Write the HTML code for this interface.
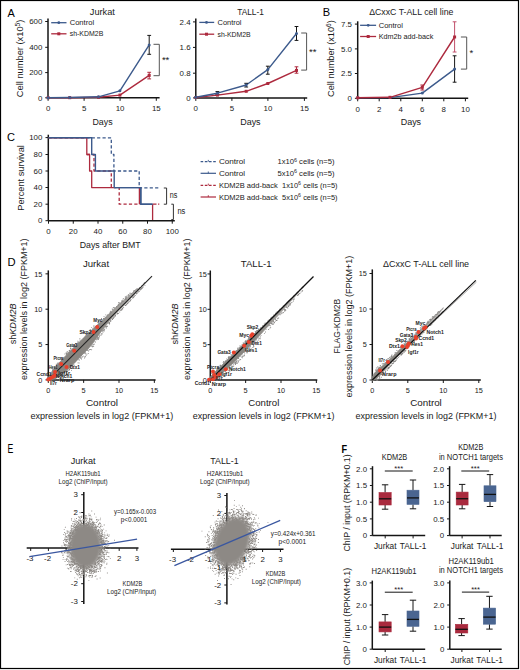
<!DOCTYPE html>
<html><head><meta charset="utf-8"><style>
html,body{margin:0;padding:0;background:#fff;}
svg{display:block;font-family:"Liberation Sans", sans-serif;}
</style></head><body>
<svg width="520" height="670" viewBox="0 0 520 670">
<defs><filter id="blur1" x="-30%" y="-30%" width="160%" height="160%"><feGaussianBlur stdDeviation="1.6"/></filter></defs>
<rect width="520" height="670" fill="#fff"/>
<rect x="0.5" y="0.5" width="518" height="668" fill="none" stroke="#000" stroke-width="1.2"/>
<text x="7.40" y="16.50" font-size="11.659807956104252" text-anchor="start" fill="#000" textLength="7.30" lengthAdjust="spacingAndGlyphs">A</text>
<text x="322.70" y="16.20" font-size="10.699588477366254" text-anchor="start" fill="#000" textLength="7.40" lengthAdjust="spacingAndGlyphs">B</text>
<text x="7.10" y="141.00" font-size="11.248285322359381" text-anchor="start" fill="#000" textLength="8.00" lengthAdjust="spacingAndGlyphs">C</text>
<text x="7.50" y="266.20" font-size="11.522633744855936" text-anchor="start" fill="#000" textLength="8.10" lengthAdjust="spacingAndGlyphs">D</text>
<text x="7.40" y="453.10" font-size="12.20850480109744" text-anchor="start" fill="#000" textLength="5.80" lengthAdjust="spacingAndGlyphs">E</text>
<text x="341.60" y="452.70" font-size="11.111111111111065" text-anchor="start" fill="#000" textLength="5.60" lengthAdjust="spacingAndGlyphs" font-weight="bold">F</text>
<line x1="48.00" y1="18.50" x2="48.00" y2="97.80" stroke="#151515" stroke-width="1.5" />
<line x1="48.00" y1="97.80" x2="159.60" y2="97.80" stroke="#151515" stroke-width="1.5" />
<line x1="45.20" y1="21.50" x2="48.00" y2="21.50" stroke="#151515" stroke-width="1.0" />
<text x="42.30" y="24.20" font-size="7.9" text-anchor="end" fill="#1a1a1a">600</text>
<line x1="45.20" y1="47.30" x2="48.00" y2="47.30" stroke="#151515" stroke-width="1.0" />
<text x="42.30" y="50.00" font-size="7.9" text-anchor="end" fill="#1a1a1a">400</text>
<line x1="45.20" y1="72.60" x2="48.00" y2="72.60" stroke="#151515" stroke-width="1.0" />
<text x="42.30" y="75.30" font-size="7.9" text-anchor="end" fill="#1a1a1a">200</text>
<line x1="45.20" y1="97.80" x2="48.00" y2="97.80" stroke="#151515" stroke-width="1.0" />
<text x="42.30" y="100.50" font-size="7.9" text-anchor="end" fill="#1a1a1a">0</text>
<line x1="48.10" y1="97.80" x2="48.10" y2="100.80" stroke="#151515" stroke-width="1.0" />
<text x="48.10" y="111.30" font-size="7.9" text-anchor="middle" fill="#1a1a1a">0</text>
<line x1="84.10" y1="97.80" x2="84.10" y2="100.80" stroke="#151515" stroke-width="1.0" />
<text x="84.10" y="111.30" font-size="7.9" text-anchor="middle" fill="#1a1a1a">5</text>
<line x1="120.10" y1="97.80" x2="120.10" y2="100.80" stroke="#151515" stroke-width="1.0" />
<text x="120.10" y="111.30" font-size="7.9" text-anchor="middle" fill="#1a1a1a">10</text>
<line x1="156.30" y1="97.80" x2="156.30" y2="100.80" stroke="#151515" stroke-width="1.0" />
<text x="156.30" y="111.30" font-size="7.9" text-anchor="middle" fill="#1a1a1a">15</text>
<text x="89.80" y="14.90" font-size="9.6" text-anchor="start" fill="#1a1a1a" textLength="25.10" lengthAdjust="spacingAndGlyphs">Jurkat</text>
<text x="92.40" y="124.60" font-size="9.6" text-anchor="start" fill="#1a1a1a" textLength="20.20" lengthAdjust="spacingAndGlyphs">Days</text>
<text transform="translate(23.30,97.20) rotate(-90)" x="0" y="0" font-size="9" fill="#1a1a1a" textLength="77.60" lengthAdjust="spacingAndGlyphs">Cell number (x10<tspan dy="-3.4" font-size="6.4">5</tspan><tspan dy="3.4">)</tspan></text>
<line x1="51.20" y1="22.70" x2="66.50" y2="22.70" stroke="#3c5a8c" stroke-width="1.3" />
<circle cx="58.80" cy="22.70" r="1.4" fill="#3c5a8c"/>
<line x1="51.20" y1="33.80" x2="66.50" y2="33.80" stroke="#ad2a3e" stroke-width="1.3" />
<rect x="57.30" y="32.30" width="3.0" height="3.0" fill="#ad2a3e"/>
<text x="69.70" y="25.30" font-size="7.8" text-anchor="start" fill="#1a1a1a" textLength="24.40" lengthAdjust="spacingAndGlyphs">Control</text>
<text x="69.70" y="36.40" font-size="7.8" text-anchor="start" fill="#1a1a1a" textLength="33.60" lengthAdjust="spacingAndGlyphs">sh-KDM2B</text>
<polyline points="48.10,97.70 69.70,97.70 98.50,97.30 119.90,95.10 149.20,75.40" fill="none" stroke="#ad2a3e" stroke-width="1.4" stroke-linejoin="round" />
<polyline points="48.10,97.70 69.70,97.50 98.50,96.80 119.90,90.80 149.20,44.90" fill="none" stroke="#3c5a8c" stroke-width="1.4" stroke-linejoin="round" />
<line x1="149.20" y1="72.30" x2="149.20" y2="78.90" stroke="#ad2a3e" stroke-width="1.0" />
<line x1="147.30" y1="72.30" x2="151.10" y2="72.30" stroke="#ad2a3e" stroke-width="1.0" />
<line x1="147.30" y1="78.90" x2="151.10" y2="78.90" stroke="#ad2a3e" stroke-width="1.0" />
<line x1="149.20" y1="35.40" x2="149.20" y2="54.30" stroke="#151515" stroke-width="1.0" />
<line x1="147.30" y1="35.40" x2="151.10" y2="35.40" stroke="#151515" stroke-width="1.0" />
<line x1="147.30" y1="54.30" x2="151.10" y2="54.30" stroke="#151515" stroke-width="1.0" />
<rect x="46.60" y="96.20" width="3.0" height="3.0" fill="#ad2a3e"/>
<rect x="68.20" y="96.20" width="3.0" height="3.0" fill="#ad2a3e"/>
<rect x="97.00" y="95.80" width="3.0" height="3.0" fill="#ad2a3e"/>
<rect x="118.40" y="93.60" width="3.0" height="3.0" fill="#ad2a3e"/>
<rect x="147.70" y="73.90" width="3.0" height="3.0" fill="#ad2a3e"/>
<circle cx="48.10" cy="97.70" r="1.5" fill="#3c5a8c"/>
<circle cx="69.70" cy="97.50" r="1.5" fill="#3c5a8c"/>
<circle cx="98.50" cy="96.80" r="1.5" fill="#3c5a8c"/>
<circle cx="119.90" cy="90.80" r="1.5" fill="#3c5a8c"/>
<circle cx="149.20" cy="44.90" r="1.5" fill="#3c5a8c"/>
<polyline points="153.50,44.30 159.30,44.30 159.30,75.70 153.50,75.70" fill="none" stroke="#555" stroke-width="1.0" stroke-linejoin="round" />
<text x="165.60" y="63.00" font-size="9.5" text-anchor="middle" fill="#1a1a1a">**</text>
<line x1="195.80" y1="18.40" x2="195.80" y2="97.90" stroke="#151515" stroke-width="1.5" />
<line x1="195.80" y1="97.90" x2="307.20" y2="97.90" stroke="#151515" stroke-width="1.5" />
<line x1="193.00" y1="21.90" x2="195.80" y2="21.90" stroke="#151515" stroke-width="1.0" />
<text x="190.60" y="24.60" font-size="7.9" text-anchor="end" fill="#1a1a1a">2.4</text>
<line x1="193.00" y1="47.40" x2="195.80" y2="47.40" stroke="#151515" stroke-width="1.0" />
<text x="190.60" y="50.10" font-size="7.9" text-anchor="end" fill="#1a1a1a">1.6</text>
<line x1="193.00" y1="73.20" x2="195.80" y2="73.20" stroke="#151515" stroke-width="1.0" />
<text x="190.60" y="75.90" font-size="7.9" text-anchor="end" fill="#1a1a1a">0.8</text>
<line x1="193.00" y1="97.90" x2="195.80" y2="97.90" stroke="#151515" stroke-width="1.0" />
<text x="190.60" y="100.60" font-size="7.9" text-anchor="end" fill="#1a1a1a">0</text>
<line x1="195.80" y1="97.90" x2="195.80" y2="100.90" stroke="#151515" stroke-width="1.0" />
<text x="195.80" y="111.30" font-size="7.9" text-anchor="middle" fill="#1a1a1a">0</text>
<line x1="231.90" y1="97.90" x2="231.90" y2="100.90" stroke="#151515" stroke-width="1.0" />
<text x="231.90" y="111.30" font-size="7.9" text-anchor="middle" fill="#1a1a1a">5</text>
<line x1="267.90" y1="97.90" x2="267.90" y2="100.90" stroke="#151515" stroke-width="1.0" />
<text x="267.90" y="111.30" font-size="7.9" text-anchor="middle" fill="#1a1a1a">10</text>
<line x1="304.40" y1="97.90" x2="304.40" y2="100.90" stroke="#151515" stroke-width="1.0" />
<text x="304.40" y="111.30" font-size="7.9" text-anchor="middle" fill="#1a1a1a">15</text>
<text x="237.20" y="14.80" font-size="9.6" text-anchor="start" fill="#1a1a1a" textLength="26.60" lengthAdjust="spacingAndGlyphs">TALL-1</text>
<text x="240.20" y="124.60" font-size="9.6" text-anchor="start" fill="#1a1a1a" textLength="20.40" lengthAdjust="spacingAndGlyphs">Days</text>
<line x1="199.30" y1="22.40" x2="214.20" y2="22.40" stroke="#3c5a8c" stroke-width="1.3" />
<circle cx="206.50" cy="22.40" r="1.4" fill="#3c5a8c"/>
<line x1="199.30" y1="34.20" x2="214.20" y2="34.20" stroke="#ad2a3e" stroke-width="1.3" />
<rect x="205.00" y="32.70" width="3.0" height="3.0" fill="#ad2a3e"/>
<text x="217.50" y="25.00" font-size="7.8" text-anchor="start" fill="#1a1a1a" textLength="24.00" lengthAdjust="spacingAndGlyphs">Control</text>
<text x="217.50" y="36.60" font-size="7.8" text-anchor="start" fill="#1a1a1a" textLength="33.20" lengthAdjust="spacingAndGlyphs">sh-KDM2B</text>
<polyline points="195.80,97.50 217.40,95.10 246.20,91.30 267.80,83.50 296.50,70.40" fill="none" stroke="#ad2a3e" stroke-width="1.4" stroke-linejoin="round" />
<polyline points="195.80,97.30 217.40,93.20 246.20,85.00 267.80,69.60 296.50,33.50" fill="none" stroke="#3c5a8c" stroke-width="1.4" stroke-linejoin="round" />
<line x1="217.40" y1="91.60" x2="217.40" y2="94.70" stroke="#151515" stroke-width="1.0" />
<line x1="215.50" y1="91.60" x2="219.30" y2="91.60" stroke="#151515" stroke-width="1.0" />
<line x1="215.50" y1="94.70" x2="219.30" y2="94.70" stroke="#151515" stroke-width="1.0" />
<line x1="246.20" y1="83.30" x2="246.20" y2="87.00" stroke="#151515" stroke-width="1.0" />
<line x1="244.30" y1="83.30" x2="248.10" y2="83.30" stroke="#151515" stroke-width="1.0" />
<line x1="244.30" y1="87.00" x2="248.10" y2="87.00" stroke="#151515" stroke-width="1.0" />
<line x1="267.80" y1="66.20" x2="267.80" y2="74.20" stroke="#151515" stroke-width="1.0" />
<line x1="265.90" y1="66.20" x2="269.70" y2="66.20" stroke="#151515" stroke-width="1.0" />
<line x1="265.90" y1="74.20" x2="269.70" y2="74.20" stroke="#151515" stroke-width="1.0" />
<line x1="296.50" y1="26.50" x2="296.50" y2="40.40" stroke="#151515" stroke-width="1.0" />
<line x1="294.60" y1="26.50" x2="298.40" y2="26.50" stroke="#151515" stroke-width="1.0" />
<line x1="294.60" y1="40.40" x2="298.40" y2="40.40" stroke="#151515" stroke-width="1.0" />
<line x1="296.50" y1="66.80" x2="296.50" y2="73.20" stroke="#ad2a3e" stroke-width="1.0" />
<line x1="294.60" y1="66.80" x2="298.40" y2="66.80" stroke="#ad2a3e" stroke-width="1.0" />
<line x1="294.60" y1="73.20" x2="298.40" y2="73.20" stroke="#ad2a3e" stroke-width="1.0" />
<rect x="194.30" y="96.00" width="3.0" height="3.0" fill="#ad2a3e"/>
<rect x="215.90" y="93.60" width="3.0" height="3.0" fill="#ad2a3e"/>
<rect x="244.70" y="89.80" width="3.0" height="3.0" fill="#ad2a3e"/>
<rect x="266.30" y="82.00" width="3.0" height="3.0" fill="#ad2a3e"/>
<rect x="295.00" y="68.90" width="3.0" height="3.0" fill="#ad2a3e"/>
<circle cx="195.80" cy="97.30" r="1.5" fill="#3c5a8c"/>
<circle cx="217.40" cy="93.20" r="1.5" fill="#3c5a8c"/>
<circle cx="246.20" cy="85.00" r="1.5" fill="#3c5a8c"/>
<circle cx="267.80" cy="69.60" r="1.5" fill="#3c5a8c"/>
<circle cx="296.50" cy="33.50" r="1.5" fill="#3c5a8c"/>
<polyline points="301.20,33.00 306.60,33.00 306.60,70.10 301.20,70.10" fill="none" stroke="#555" stroke-width="1.0" stroke-linejoin="round" />
<text x="312.70" y="54.50" font-size="9.5" text-anchor="middle" fill="#1a1a1a">**</text>
<line x1="357.70" y1="21.30" x2="357.70" y2="98.30" stroke="#151515" stroke-width="1.5" />
<line x1="357.70" y1="98.30" x2="468.20" y2="98.30" stroke="#151515" stroke-width="1.5" />
<line x1="354.90" y1="24.10" x2="357.70" y2="24.10" stroke="#151515" stroke-width="1.0" />
<text x="352.00" y="26.80" font-size="7.9" text-anchor="end" fill="#1a1a1a">7.5</text>
<line x1="354.90" y1="48.90" x2="357.70" y2="48.90" stroke="#151515" stroke-width="1.0" />
<text x="352.00" y="51.60" font-size="7.9" text-anchor="end" fill="#1a1a1a">5.0</text>
<line x1="354.90" y1="73.50" x2="357.70" y2="73.50" stroke="#151515" stroke-width="1.0" />
<text x="352.00" y="76.20" font-size="7.9" text-anchor="end" fill="#1a1a1a">2.5</text>
<line x1="354.90" y1="98.30" x2="357.70" y2="98.30" stroke="#151515" stroke-width="1.0" />
<text x="352.00" y="101.00" font-size="7.9" text-anchor="end" fill="#1a1a1a">0</text>
<line x1="357.70" y1="98.30" x2="357.70" y2="101.30" stroke="#151515" stroke-width="1.0" />
<text x="357.70" y="111.50" font-size="7.9" text-anchor="middle" fill="#1a1a1a">0</text>
<line x1="379.20" y1="98.30" x2="379.20" y2="101.30" stroke="#151515" stroke-width="1.0" />
<text x="379.20" y="111.50" font-size="7.9" text-anchor="middle" fill="#1a1a1a">2</text>
<line x1="400.80" y1="98.30" x2="400.80" y2="101.30" stroke="#151515" stroke-width="1.0" />
<text x="400.80" y="111.50" font-size="7.9" text-anchor="middle" fill="#1a1a1a">4</text>
<line x1="422.30" y1="98.30" x2="422.30" y2="101.30" stroke="#151515" stroke-width="1.0" />
<text x="422.30" y="111.50" font-size="7.9" text-anchor="middle" fill="#1a1a1a">6</text>
<line x1="443.80" y1="98.30" x2="443.80" y2="101.30" stroke="#151515" stroke-width="1.0" />
<text x="443.80" y="111.50" font-size="7.9" text-anchor="middle" fill="#1a1a1a">8</text>
<line x1="465.40" y1="98.30" x2="465.40" y2="101.30" stroke="#151515" stroke-width="1.0" />
<text x="465.40" y="111.50" font-size="7.9" text-anchor="middle" fill="#1a1a1a">10</text>
<text x="369.20" y="14.80" font-size="9.6" text-anchor="start" fill="#1a1a1a" textLength="84.20" lengthAdjust="spacingAndGlyphs">ΔCxxC T-ALL cell line</text>
<text x="400.70" y="124.60" font-size="9.6" text-anchor="start" fill="#1a1a1a" textLength="20.40" lengthAdjust="spacingAndGlyphs">Days</text>
<text transform="translate(334.20,97.00) rotate(-90)" x="0" y="0" font-size="9" fill="#1a1a1a" textLength="76.80" lengthAdjust="spacingAndGlyphs">Cell number (x10<tspan dy="-3.4" font-size="6.4">6</tspan><tspan dy="3.4">)</tspan></text>
<line x1="360.10" y1="25.30" x2="376.10" y2="25.30" stroke="#3c5a8c" stroke-width="1.3" />
<circle cx="368.20" cy="25.30" r="1.4" fill="#3c5a8c"/>
<line x1="360.10" y1="36.50" x2="376.10" y2="36.50" stroke="#ad2a3e" stroke-width="1.3" />
<rect x="366.70" y="35.00" width="3.0" height="3.0" fill="#ad2a3e"/>
<text x="378.70" y="27.60" font-size="7.8" text-anchor="start" fill="#1a1a1a" textLength="24.30" lengthAdjust="spacingAndGlyphs">Control</text>
<text x="378.70" y="38.60" font-size="7.8" text-anchor="start" fill="#1a1a1a" textLength="54.60" lengthAdjust="spacingAndGlyphs">Kdm2b add-back</text>
<polyline points="357.70,97.80 390.00,97.60 422.30,93.10 454.60,69.10" fill="none" stroke="#3c5a8c" stroke-width="1.4" stroke-linejoin="round" />
<polyline points="357.70,97.80 390.00,97.30 422.30,87.30 454.60,37.00" fill="none" stroke="#ad2a3e" stroke-width="1.4" stroke-linejoin="round" />
<line x1="454.60" y1="55.80" x2="454.60" y2="82.20" stroke="#151515" stroke-width="1.0" />
<line x1="452.70" y1="55.80" x2="456.50" y2="55.80" stroke="#151515" stroke-width="1.0" />
<line x1="452.70" y1="82.20" x2="456.50" y2="82.20" stroke="#151515" stroke-width="1.0" />
<line x1="454.60" y1="21.80" x2="454.60" y2="52.00" stroke="#c0506a" stroke-width="1.0" />
<line x1="452.70" y1="21.80" x2="456.50" y2="21.80" stroke="#c0506a" stroke-width="1.0" />
<line x1="452.70" y1="52.00" x2="456.50" y2="52.00" stroke="#c0506a" stroke-width="1.0" />
<line x1="422.30" y1="85.00" x2="422.30" y2="90.00" stroke="#ad2a3e" stroke-width="1.0" />
<line x1="420.40" y1="85.00" x2="424.20" y2="85.00" stroke="#ad2a3e" stroke-width="1.0" />
<line x1="420.40" y1="90.00" x2="424.20" y2="90.00" stroke="#ad2a3e" stroke-width="1.0" />
<circle cx="357.70" cy="97.80" r="1.5" fill="#3c5a8c"/>
<circle cx="390.00" cy="97.60" r="1.5" fill="#3c5a8c"/>
<circle cx="422.30" cy="93.10" r="1.5" fill="#3c5a8c"/>
<circle cx="454.60" cy="69.10" r="1.5" fill="#3c5a8c"/>
<rect x="356.20" y="96.30" width="3.0" height="3.0" fill="#ad2a3e"/>
<rect x="388.50" y="95.80" width="3.0" height="3.0" fill="#ad2a3e"/>
<rect x="420.80" y="85.80" width="3.0" height="3.0" fill="#ad2a3e"/>
<rect x="453.10" y="35.50" width="3.0" height="3.0" fill="#ad2a3e"/>
<polyline points="460.90,37.00 466.70,37.00 466.70,69.10 460.90,69.10" fill="none" stroke="#555" stroke-width="1.0" stroke-linejoin="round" />
<text x="471.40" y="56.30" font-size="9.5" text-anchor="middle" fill="#1a1a1a">*</text>
<line x1="48.30" y1="134.70" x2="48.30" y2="220.70" stroke="#151515" stroke-width="1.5" />
<line x1="48.30" y1="220.70" x2="174.80" y2="220.70" stroke="#151515" stroke-width="1.5" />
<line x1="45.50" y1="137.60" x2="48.30" y2="137.60" stroke="#151515" stroke-width="1.0" />
<text x="42.30" y="140.30" font-size="7.9" text-anchor="end" fill="#1a1a1a">100</text>
<line x1="45.50" y1="154.50" x2="48.30" y2="154.50" stroke="#151515" stroke-width="1.0" />
<text x="42.30" y="157.20" font-size="7.9" text-anchor="end" fill="#1a1a1a">80</text>
<line x1="45.50" y1="171.00" x2="48.30" y2="171.00" stroke="#151515" stroke-width="1.0" />
<text x="42.30" y="173.70" font-size="7.9" text-anchor="end" fill="#1a1a1a">60</text>
<line x1="45.50" y1="187.50" x2="48.30" y2="187.50" stroke="#151515" stroke-width="1.0" />
<text x="42.30" y="190.20" font-size="7.9" text-anchor="end" fill="#1a1a1a">40</text>
<line x1="45.50" y1="204.20" x2="48.30" y2="204.20" stroke="#151515" stroke-width="1.0" />
<text x="42.30" y="206.90" font-size="7.9" text-anchor="end" fill="#1a1a1a">20</text>
<line x1="45.50" y1="220.70" x2="48.30" y2="220.70" stroke="#151515" stroke-width="1.0" />
<text x="42.30" y="223.40" font-size="7.9" text-anchor="end" fill="#1a1a1a">0</text>
<line x1="48.50" y1="220.70" x2="48.50" y2="223.70" stroke="#151515" stroke-width="1.0" />
<text x="48.50" y="233.80" font-size="7.9" text-anchor="middle" fill="#1a1a1a">0</text>
<line x1="73.25" y1="220.70" x2="73.25" y2="223.70" stroke="#151515" stroke-width="1.0" />
<text x="73.25" y="233.80" font-size="7.9" text-anchor="middle" fill="#1a1a1a">20</text>
<line x1="98.00" y1="220.70" x2="98.00" y2="223.70" stroke="#151515" stroke-width="1.0" />
<text x="98.00" y="233.80" font-size="7.9" text-anchor="middle" fill="#1a1a1a">40</text>
<line x1="122.75" y1="220.70" x2="122.75" y2="223.70" stroke="#151515" stroke-width="1.0" />
<text x="122.75" y="233.80" font-size="7.9" text-anchor="middle" fill="#1a1a1a">60</text>
<line x1="147.50" y1="220.70" x2="147.50" y2="223.70" stroke="#151515" stroke-width="1.0" />
<text x="147.50" y="233.80" font-size="7.9" text-anchor="middle" fill="#1a1a1a">80</text>
<line x1="172.25" y1="220.70" x2="172.25" y2="223.70" stroke="#151515" stroke-width="1.0" />
<text x="172.25" y="233.80" font-size="7.9" text-anchor="middle" fill="#1a1a1a">100</text>
<text transform="translate(24.00,210.70) rotate(-90)" x="0" y="0" font-size="9.6" fill="#1a1a1a" textLength="65.60" lengthAdjust="spacingAndGlyphs">Percent survival</text>
<text x="79.70" y="248.20" font-size="9.6" text-anchor="start" fill="#1a1a1a" textLength="61.00" lengthAdjust="spacingAndGlyphs">Days after BMT</text>
<polyline points="48.50,137.80 111.30,137.80 111.30,154.50 113.90,154.50 113.90,171.00 139.20,171.00 139.20,187.80 160.00,187.80" fill="none" stroke="#3c5a8c" stroke-width="1.3" stroke-linejoin="round" stroke-dasharray="3.2,2.2"/>
<polyline points="86.80,154.50 94.00,154.50 94.00,171.00 111.30,171.00 111.30,187.60 119.20,187.60 119.20,204.20 140.50,204.20" fill="none" stroke="#ad2a3e" stroke-width="1.3" stroke-linejoin="round" stroke-dasharray="3.2,2.2"/>
<polyline points="152.50,204.20 160.00,204.20" fill="none" stroke="#ad2a3e" stroke-width="1.3" stroke-linejoin="round" stroke-dasharray="4,1.6,1.2,1.6"/>
<polyline points="48.50,137.80 86.80,137.80 86.80,154.50 89.60,154.50 89.60,171.00 91.70,171.00 91.70,187.60 113.40,187.60" fill="none" stroke="#ad2a3e" stroke-width="1.3" stroke-linejoin="round" />
<polyline points="139.40,187.60 139.40,204.20" fill="none" stroke="#ad2a3e" stroke-width="1.3" stroke-linejoin="round" />
<polyline points="152.60,204.20 152.60,220.00" fill="none" stroke="#ad2a3e" stroke-width="1.3" stroke-linejoin="round" />
<polyline points="48.50,137.80 91.70,137.80 91.70,154.50 95.40,154.50 95.40,171.00 114.20,171.00 114.20,187.60 140.80,187.60 140.80,204.20 152.50,204.20" fill="none" stroke="#3c5a8c" stroke-width="1.4" stroke-linejoin="round" />
<polyline points="114.20,187.60 140.80,187.60 140.80,204.20 152.50,204.20" fill="none" stroke="#3c5a8c" stroke-width="1.4" stroke-linejoin="round" />
<polyline points="163.80,188.00 166.60,188.00 166.60,204.20 163.80,204.20" fill="none" stroke="#333" stroke-width="1.0" stroke-linejoin="round" />
<polyline points="171.30,204.20 173.40,204.20 173.40,219.60 171.30,219.60" fill="none" stroke="#333" stroke-width="1.0" stroke-linejoin="round" />
<text x="169.70" y="198.30" font-size="8.3" text-anchor="start" fill="#1a1a1a" textLength="7.60" lengthAdjust="spacingAndGlyphs">ns</text>
<text x="177.40" y="213.50" font-size="8.3" text-anchor="start" fill="#1a1a1a" textLength="7.90" lengthAdjust="spacingAndGlyphs">ns</text>
<line x1="200.60" y1="161.70" x2="216.00" y2="161.70" stroke="#3c5a8c" stroke-width="1.2" stroke-dasharray="2.6,1.6"/>
<line x1="208.30" y1="159.90" x2="208.30" y2="161.70" stroke="#3c5a8c" stroke-width="0.9" />
<line x1="200.60" y1="173.30" x2="216.00" y2="173.30" stroke="#3c5a8c" stroke-width="1.2" />
<line x1="208.30" y1="171.50" x2="208.30" y2="173.30" stroke="#3c5a8c" stroke-width="0.9" />
<line x1="200.60" y1="185.40" x2="216.00" y2="185.40" stroke="#ad2a3e" stroke-width="1.2" stroke-dasharray="2.6,1.6"/>
<line x1="208.30" y1="183.60" x2="208.30" y2="185.40" stroke="#ad2a3e" stroke-width="0.9" />
<line x1="200.60" y1="197.00" x2="216.00" y2="197.00" stroke="#ad2a3e" stroke-width="1.2" />
<line x1="208.30" y1="195.20" x2="208.30" y2="197.00" stroke="#ad2a3e" stroke-width="0.9" />
<text x="218.90" y="164.20" font-size="7.9" text-anchor="start" fill="#1a1a1a" textLength="26.20" lengthAdjust="spacingAndGlyphs">Control</text>
<text x="218.90" y="175.80" font-size="7.9" text-anchor="start" fill="#1a1a1a" textLength="26.20" lengthAdjust="spacingAndGlyphs">Control</text>
<text x="218.90" y="187.90" font-size="7.9" text-anchor="start" fill="#1a1a1a" textLength="58.90" lengthAdjust="spacingAndGlyphs">KDM2B add-back</text>
<text x="218.90" y="199.50" font-size="7.9" text-anchor="start" fill="#1a1a1a" textLength="58.90" lengthAdjust="spacingAndGlyphs">KDM2B add-back</text>
<text x="277.40" y="164.20" font-size="7.9" fill="#1a1a1a" textLength="57.10" lengthAdjust="spacingAndGlyphs">1x10<tspan dy="-2.6" font-size="5.6">6</tspan><tspan dy="2.6"> cells (n=5)</tspan></text>
<text x="277.40" y="175.80" font-size="7.9" fill="#1a1a1a" textLength="57.10" lengthAdjust="spacingAndGlyphs">5x10<tspan dy="-2.6" font-size="5.6">6</tspan><tspan dy="2.6"> cells (n=5)</tspan></text>
<text x="282.00" y="187.90" font-size="7.9" fill="#1a1a1a" textLength="55.60" lengthAdjust="spacingAndGlyphs">1x10<tspan dy="-2.6" font-size="5.6">6</tspan><tspan dy="2.6"> cells (n=5)</tspan></text>
<text x="282.00" y="199.50" font-size="7.9" fill="#1a1a1a" textLength="55.60" lengthAdjust="spacingAndGlyphs">5x10<tspan dy="-2.6" font-size="5.6">6</tspan><tspan dy="2.6"> cells (n=5)</tspan></text>
<line x1="48.30" y1="270.40" x2="48.30" y2="379.90" stroke="#151515" stroke-width="1.5" />
<line x1="48.30" y1="379.90" x2="155.60" y2="379.90" stroke="#151515" stroke-width="1.5" />
<line x1="45.50" y1="273.85" x2="48.30" y2="273.85" stroke="#151515" stroke-width="1.0" />
<text x="42.30" y="276.55" font-size="7.3" text-anchor="end" fill="#1a1a1a">15</text>
<line x1="45.50" y1="309.20" x2="48.30" y2="309.20" stroke="#151515" stroke-width="1.0" />
<text x="42.30" y="311.90" font-size="7.3" text-anchor="end" fill="#1a1a1a">10</text>
<line x1="45.50" y1="344.55" x2="48.30" y2="344.55" stroke="#151515" stroke-width="1.0" />
<text x="42.30" y="347.25" font-size="7.3" text-anchor="end" fill="#1a1a1a">5</text>
<line x1="45.50" y1="379.90" x2="48.30" y2="379.90" stroke="#151515" stroke-width="1.0" />
<text x="42.30" y="382.60" font-size="7.3" text-anchor="end" fill="#1a1a1a">0</text>
<line x1="48.30" y1="379.90" x2="48.30" y2="382.90" stroke="#151515" stroke-width="1.0" />
<text x="48.30" y="392.60" font-size="7.3" text-anchor="middle" fill="#1a1a1a">0</text>
<line x1="83.65" y1="379.90" x2="83.65" y2="382.90" stroke="#151515" stroke-width="1.0" />
<text x="83.65" y="392.60" font-size="7.3" text-anchor="middle" fill="#1a1a1a">5</text>
<line x1="119.00" y1="379.90" x2="119.00" y2="382.90" stroke="#151515" stroke-width="1.0" />
<text x="119.00" y="392.60" font-size="7.3" text-anchor="middle" fill="#1a1a1a">10</text>
<line x1="154.35" y1="379.90" x2="154.35" y2="382.90" stroke="#151515" stroke-width="1.0" />
<text x="154.35" y="392.60" font-size="7.3" text-anchor="middle" fill="#1a1a1a">15</text>
<text x="96.00" y="267.00" font-size="9.6" text-anchor="middle" fill="#1a1a1a">Jurkat</text>
<text x="85.90" y="406.40" font-size="9.6" text-anchor="start" fill="#1a1a1a" textLength="32.20" lengthAdjust="spacingAndGlyphs">Control</text>
<text x="30.50" y="418.80" font-size="9.6" text-anchor="start" fill="#1a1a1a" textLength="142.70" lengthAdjust="spacingAndGlyphs">expression levels in log2 (FPKM+1)</text>
<text transform="translate(27.30,379.90) rotate(-90)" x="0" y="0" font-size="9.6" fill="#1a1a1a" textLength="141.50" lengthAdjust="spacingAndGlyphs">expression levels in log2 (FPKM+1)</text>
<text transform="translate(16.00,344.30) rotate(-90)" x="0" y="0" font-size="9.6" fill="#1a1a1a" textLength="40.90" lengthAdjust="spacingAndGlyphs">sh<tspan font-style="italic">KDM2B</tspan></text>
<defs><linearGradient id="g1" gradientUnits="userSpaceOnUse" x1="94.3" y1="333.9" x2="140.2" y2="288.0"><stop offset="0" stop-color="#888580"/><stop offset="1" stop-color="#b3b1ae"/></linearGradient></defs>
<polygon points="48.30,377.40 49.46,375.66 50.63,373.92 51.79,372.18 52.95,370.44 54.12,368.70 55.28,366.96 56.44,365.68 57.61,364.43 58.77,363.19 59.93,361.94 61.10,360.70 62.26,359.45 63.42,358.21 64.59,356.96 65.75,355.71 66.91,354.47 68.08,353.22 69.24,351.98 70.40,350.82 71.57,349.68 72.73,348.54 73.90,347.41 75.06,346.27 76.22,345.14 77.39,344.00 78.55,342.86 79.71,341.73 80.88,340.59 82.04,339.46 83.20,338.32 84.37,337.18 85.53,336.05 86.69,334.91 87.86,333.78 89.02,332.64 90.18,331.50 91.35,330.40 92.51,329.32 93.67,328.24 94.84,327.15 96.00,326.07 97.16,324.99 98.33,323.91 99.49,322.83 100.65,321.75 101.82,320.67 102.98,319.59 104.14,318.51 105.31,317.41 106.47,316.29 107.63,315.16 108.80,314.04 109.96,312.92 111.12,311.80 112.29,310.67 113.45,309.55 114.61,308.43 115.78,307.31 116.94,306.19 118.11,305.06 119.27,303.97 120.43,302.97 121.60,301.97 122.76,300.97 123.92,299.97 125.09,298.98 126.25,297.98 127.41,296.98 128.58,295.98 129.74,294.98 130.90,293.98 132.07,292.98 133.23,292.00 134.39,291.25 135.56,290.50 136.72,289.75 137.88,288.99 139.05,288.24 140.21,287.49 140.21,288.29 139.05,289.49 137.88,290.68 136.72,291.88 135.56,293.08 134.39,294.27 133.23,295.47 132.07,296.68 130.90,297.90 129.74,299.12 128.58,300.34 127.41,301.56 126.25,302.78 125.09,303.99 123.92,305.21 122.76,306.43 121.60,307.65 120.43,308.87 119.27,310.09 118.11,311.30 116.94,312.52 115.78,313.74 114.61,314.96 113.45,316.18 112.29,317.40 111.12,318.80 109.96,320.30 108.80,321.79 107.63,323.28 106.47,324.77 105.31,326.27 104.14,327.76 102.98,329.25 101.82,330.74 100.65,332.30 99.49,333.90 98.33,335.50 97.16,337.11 96.00,338.71 94.84,340.31 93.67,341.91 92.51,343.52 91.35,345.12 90.18,346.54 89.02,347.76 87.86,348.98 86.69,350.20 85.53,351.42 84.37,352.63 83.20,353.85 82.04,355.07 80.88,356.29 79.71,357.51 78.55,358.72 77.39,359.94 76.22,361.16 75.06,362.38 73.90,363.60 72.73,364.82 71.57,366.03 70.40,367.25 69.24,368.39 68.08,369.27 66.91,370.14 65.75,371.02 64.59,371.89 63.42,372.77 62.26,373.64 61.10,374.52 59.93,375.40 58.77,376.27 57.61,377.15 56.44,378.02 55.28,378.85 54.12,379.11 52.95,379.37 51.79,379.62 50.63,379.88 49.46,380.14 48.30,380.40" fill="url(#g1)" stroke="url(#g1)" stroke-width="0.8"/>
<path d="M108.6 322.4h0.9v0.9h-0.9zM134.9 289.8h0.9v0.9h-0.9zM123.2 297.9h0.9v0.9h-0.9zM70.0 348.3h0.9v0.9h-0.9zM77.3 342.2h0.9v0.9h-0.9zM132.6 297.0h0.9v0.9h-0.9zM48.8 376.9h0.9v0.9h-0.9zM127.6 302.7h0.9v0.9h-0.9zM125.2 299.3h0.9v0.9h-0.9zM93.5 341.3h0.9v0.9h-0.9zM77.5 362.4h0.9v0.9h-0.9zM75.2 343.3h0.9v0.9h-0.9zM72.9 345.6h0.9v0.9h-0.9zM91.3 346.2h0.9v0.9h-0.9zM97.0 325.6h0.9v0.9h-0.9zM101.7 330.2h0.9v0.9h-0.9zM144.4 282.1h0.9v0.9h-0.9zM124.8 296.5h0.9v0.9h-0.9zM108.3 322.7h0.9v0.9h-0.9zM143.7 282.8h0.9v0.9h-0.9zM69.1 369.1h0.9v0.9h-0.9zM63.8 372.6h0.9v0.9h-0.9zM107.4 314.2h0.9v0.9h-0.9zM52.5 371.8h0.9v0.9h-0.9zM51.7 371.4h0.9v0.9h-0.9zM98.0 324.5h0.9v0.9h-0.9zM93.3 326.4h0.9v0.9h-0.9zM136.8 288.8h0.9v0.9h-0.9zM109.0 323.3h0.9v0.9h-0.9zM97.9 339.0h0.9v0.9h-0.9zM96.3 338.6h0.9v0.9h-0.9zM72.2 365.1h0.9v0.9h-0.9zM66.9 353.3h0.9v0.9h-0.9zM115.1 314.8h0.9v0.9h-0.9zM67.7 367.7h0.9v0.9h-0.9zM84.0 357.6h0.9v0.9h-0.9zM48.7 375.7h0.9v0.9h-0.9zM128.4 296.5h0.9v0.9h-0.9zM63.2 357.2h0.9v0.9h-0.9zM74.1 364.7h0.9v0.9h-0.9zM133.3 296.2h0.9v0.9h-0.9zM97.5 321.4h0.9v0.9h-0.9zM130.1 300.1h0.9v0.9h-0.9zM110.0 313.3h0.9v0.9h-0.9zM119.9 309.9h0.9v0.9h-0.9zM57.1 364.2h0.9v0.9h-0.9zM100.5 334.9h0.9v0.9h-0.9zM97.3 338.6h0.9v0.9h-0.9zM132.4 297.4h0.9v0.9h-0.9zM83.2 355.7h0.9v0.9h-0.9zM106.0 316.9h0.9v0.9h-0.9zM54.0 366.4h0.9v0.9h-0.9zM85.7 349.3h0.9v0.9h-0.9zM79.5 339.7h0.9v0.9h-0.9zM62.8 372.6h0.9v0.9h-0.9zM127.1 302.8h0.9v0.9h-0.9zM84.9 333.0h0.9v0.9h-0.9zM142.8 286.6h0.9v0.9h-0.9zM105.2 326.1h0.9v0.9h-0.9zM106.7 315.3h0.9v0.9h-0.9zM109.9 311.2h0.9v0.9h-0.9zM113.6 316.3h0.9v0.9h-0.9zM62.9 358.9h0.9v0.9h-0.9zM90.8 332.2h0.9v0.9h-0.9zM71.4 367.8h0.9v0.9h-0.9zM87.1 350.2h0.9v0.9h-0.9zM57.6 363.2h0.9v0.9h-0.9zM141.7 287.5h0.9v0.9h-0.9zM69.0 350.1h0.9v0.9h-0.9zM113.1 316.9h0.9v0.9h-0.9zM77.3 340.7h0.9v0.9h-0.9zM132.7 297.4h0.9v0.9h-0.9zM112.2 318.4h0.9v0.9h-0.9zM61.0 359.8h0.9v0.9h-0.9zM129.9 292.8h0.9v0.9h-0.9zM139.5 289.7h0.9v0.9h-0.9zM135.5 288.9h0.9v0.9h-0.9zM103.3 329.2h0.9v0.9h-0.9zM62.3 376.1h0.9v0.9h-0.9zM66.9 370.3h0.9v0.9h-0.9zM137.8 291.7h0.9v0.9h-0.9zM101.6 333.6h0.9v0.9h-0.9zM65.7 356.9h0.9v0.9h-0.9zM133.6 290.0h0.9v0.9h-0.9zM110.2 321.0h0.9v0.9h-0.9zM103.3 329.5h0.9v0.9h-0.9zM84.6 352.6h0.9v0.9h-0.9zM88.0 334.7h0.9v0.9h-0.9zM71.4 365.8h0.9v0.9h-0.9zM52.0 370.4h0.9v0.9h-0.9zM132.9 292.4h0.9v0.9h-0.9zM93.4 326.5h0.9v0.9h-0.9zM101.1 318.0h0.9v0.9h-0.9zM79.4 338.3h0.9v0.9h-0.9zM120.8 309.9h0.9v0.9h-0.9zM84.2 351.9h0.9v0.9h-0.9zM60.2 374.8h0.9v0.9h-0.9zM141.6 288.0h0.9v0.9h-0.9zM111.8 308.5h0.9v0.9h-0.9zM89.6 349.2h0.9v0.9h-0.9zM98.8 336.0h0.9v0.9h-0.9zM132.5 296.8h0.9v0.9h-0.9zM81.5 357.0h0.9v0.9h-0.9zM105.3 317.3h0.9v0.9h-0.9zM114.3 315.6h0.9v0.9h-0.9zM82.6 353.2h0.9v0.9h-0.9zM98.4 337.9h0.9v0.9h-0.9zM122.2 308.5h0.9v0.9h-0.9zM136.0 293.1h0.9v0.9h-0.9zM62.9 371.5h0.9v0.9h-0.9zM138.4 290.8h0.9v0.9h-0.9zM121.0 302.6h0.9v0.9h-0.9zM126.5 303.5h0.9v0.9h-0.9zM61.5 359.5h0.9v0.9h-0.9zM88.7 348.9h0.9v0.9h-0.9zM127.0 302.6h0.9v0.9h-0.9zM49.7 373.9h0.9v0.9h-0.9zM109.0 322.1h0.9v0.9h-0.9zM124.8 298.5h0.9v0.9h-0.9zM97.8 323.4h0.9v0.9h-0.9zM118.3 302.1h0.9v0.9h-0.9zM70.2 367.0h0.9v0.9h-0.9zM67.5 351.5h0.9v0.9h-0.9zM83.3 338.0h0.9v0.9h-0.9zM65.6 352.6h0.9v0.9h-0.9zM81.7 356.0h0.9v0.9h-0.9zM139.8 286.9h0.9v0.9h-0.9zM103.6 316.2h0.9v0.9h-0.9zM81.1 358.5h0.9v0.9h-0.9zM74.5 361.4h0.9v0.9h-0.9zM140.2 288.9h0.9v0.9h-0.9zM91.2 326.9h0.9v0.9h-0.9zM142.9 284.4h0.9v0.9h-0.9zM98.1 324.0h0.9v0.9h-0.9zM98.6 320.4h0.9v0.9h-0.9zM134.8 291.1h0.9v0.9h-0.9zM120.0 303.6h0.9v0.9h-0.9zM104.3 318.5h0.9v0.9h-0.9zM89.5 333.2h0.9v0.9h-0.9zM133.0 291.2h0.9v0.9h-0.9zM88.0 350.7h0.9v0.9h-0.9zM137.4 288.7h0.9v0.9h-0.9zM54.9 378.3h0.9v0.9h-0.9zM89.8 329.1h0.9v0.9h-0.9zM98.4 321.2h0.9v0.9h-0.9zM140.1 289.3h0.9v0.9h-0.9zM72.5 349.5h0.9v0.9h-0.9zM126.1 296.9h0.9v0.9h-0.9zM113.6 317.2h0.9v0.9h-0.9zM117.5 312.7h0.9v0.9h-0.9zM109.1 323.2h0.9v0.9h-0.9zM142.1 287.2h0.9v0.9h-0.9zM80.4 358.1h0.9v0.9h-0.9zM86.7 348.9h0.9v0.9h-0.9zM67.9 351.9h0.9v0.9h-0.9zM68.8 350.0h0.9v0.9h-0.9zM136.6 289.3h0.9v0.9h-0.9zM129.4 292.8h0.9v0.9h-0.9zM59.1 378.4h0.9v0.9h-0.9zM106.6 325.4h0.9v0.9h-0.9zM94.5 326.7h0.9v0.9h-0.9zM105.7 327.6h0.9v0.9h-0.9zM111.9 318.2h0.9v0.9h-0.9zM77.9 341.6h0.9v0.9h-0.9zM141.1 285.6h0.9v0.9h-0.9zM93.3 343.8h0.9v0.9h-0.9zM108.9 323.4h0.9v0.9h-0.9zM109.6 312.3h0.9v0.9h-0.9zM66.0 371.8h0.9v0.9h-0.9zM54.3 368.3h0.9v0.9h-0.9zM88.0 352.9h0.9v0.9h-0.9zM122.0 301.2h0.9v0.9h-0.9zM127.0 303.1h0.9v0.9h-0.9zM118.7 303.7h0.9v0.9h-0.9zM59.2 379.5h0.9v0.9h-0.9zM136.4 288.2h0.9v0.9h-0.9zM125.7 299.0h0.9v0.9h-0.9zM133.0 297.0h0.9v0.9h-0.9zM98.8 336.4h0.9v0.9h-0.9zM136.7 289.6h0.9v0.9h-0.9zM52.8 369.6h0.9v0.9h-0.9zM51.2 379.6h0.9v0.9h-0.9zM50.3 373.3h0.9v0.9h-0.9zM72.7 363.9h0.9v0.9h-0.9zM72.3 348.5h0.9v0.9h-0.9zM66.4 370.5h0.9v0.9h-0.9zM103.0 318.0h0.9v0.9h-0.9zM52.1 369.6h0.9v0.9h-0.9zM105.3 314.4h0.9v0.9h-0.9zM64.3 372.3h0.9v0.9h-0.9zM113.7 307.9h0.9v0.9h-0.9zM50.3 374.8h0.9v0.9h-0.9zM78.3 359.4h0.9v0.9h-0.9zM138.9 290.9h0.9v0.9h-0.9zM100.3 322.8h0.9v0.9h-0.9zM126.6 295.4h0.9v0.9h-0.9zM111.8 319.1h0.9v0.9h-0.9zM107.2 315.3h0.9v0.9h-0.9zM66.8 373.4h0.9v0.9h-0.9zM103.7 328.6h0.9v0.9h-0.9zM52.1 369.2h0.9v0.9h-0.9zM125.7 303.8h0.9v0.9h-0.9zM141.0 288.1h0.9v0.9h-0.9zM130.7 299.2h0.9v0.9h-0.9zM81.0 355.1h0.9v0.9h-0.9zM79.0 359.6h0.9v0.9h-0.9zM59.2 376.1h0.9v0.9h-0.9zM108.8 322.9h0.9v0.9h-0.9zM125.3 305.0h0.9v0.9h-0.9zM78.6 362.5h0.9v0.9h-0.9zM131.6 293.7h0.9v0.9h-0.9zM125.2 297.5h0.9v0.9h-0.9zM60.8 378.7h0.9v0.9h-0.9zM122.3 300.4h0.9v0.9h-0.9zM133.5 290.2h0.9v0.9h-0.9zM67.3 368.4h0.9v0.9h-0.9zM103.7 330.6h0.9v0.9h-0.9zM109.9 311.5h0.9v0.9h-0.9zM107.1 325.9h0.9v0.9h-0.9zM57.6 361.9h0.9v0.9h-0.9zM112.1 319.1h0.9v0.9h-0.9zM109.3 314.4h0.9v0.9h-0.9zM127.8 294.9h0.9v0.9h-0.9zM125.8 298.3h0.9v0.9h-0.9zM79.9 357.0h0.9v0.9h-0.9zM118.0 304.8h0.9v0.9h-0.9zM132.0 297.7h0.9v0.9h-0.9zM134.5 289.9h0.9v0.9h-0.9zM63.9 376.4h0.9v0.9h-0.9zM50.9 379.7h0.9v0.9h-0.9zM111.1 312.0h0.9v0.9h-0.9zM69.0 368.9h0.9v0.9h-0.9zM102.7 331.7h0.9v0.9h-0.9zM139.5 287.0h0.9v0.9h-0.9zM84.9 353.4h0.9v0.9h-0.9zM72.7 368.0h0.9v0.9h-0.9zM92.4 345.9h0.9v0.9h-0.9zM111.7 318.6h0.9v0.9h-0.9zM58.1 375.8h0.9v0.9h-0.9zM85.0 335.6h0.9v0.9h-0.9zM61.2 357.5h0.9v0.9h-0.9zM112.2 309.2h0.9v0.9h-0.9zM128.5 296.5h0.9v0.9h-0.9zM84.7 353.2h0.9v0.9h-0.9zM84.2 336.8h0.9v0.9h-0.9zM100.4 320.5h0.9v0.9h-0.9zM69.1 350.5h0.9v0.9h-0.9zM72.2 345.5h0.9v0.9h-0.9zM80.1 341.0h0.9v0.9h-0.9zM92.4 344.3h0.9v0.9h-0.9zM56.2 364.3h0.9v0.9h-0.9zM120.9 309.7h0.9v0.9h-0.9zM104.2 329.4h0.9v0.9h-0.9zM77.2 343.1h0.9v0.9h-0.9zM55.8 363.7h0.9v0.9h-0.9zM122.0 308.1h0.9v0.9h-0.9zM60.9 357.4h0.9v0.9h-0.9zM61.2 360.6h0.9v0.9h-0.9zM60.9 373.7h0.9v0.9h-0.9zM135.8 293.5h0.9v0.9h-0.9zM74.3 344.0h0.9v0.9h-0.9zM77.9 341.8h0.9v0.9h-0.9zM128.7 294.8h0.9v0.9h-0.9zM108.1 322.6h0.9v0.9h-0.9zM66.4 352.4h0.9v0.9h-0.9zM90.3 332.5h0.9v0.9h-0.9zM133.6 296.4h0.9v0.9h-0.9zM84.5 356.3h0.9v0.9h-0.9zM116.9 313.2h0.9v0.9h-0.9zM57.6 365.1h0.9v0.9h-0.9zM118.5 302.0h0.9v0.9h-0.9zM123.2 306.8h0.9v0.9h-0.9zM128.0 301.4h0.9v0.9h-0.9zM113.4 317.2h0.9v0.9h-0.9zM84.1 352.5h0.9v0.9h-0.9zM54.5 367.4h0.9v0.9h-0.9zM98.4 337.2h0.9v0.9h-0.9zM121.4 309.3h0.9v0.9h-0.9zM66.7 373.6h0.9v0.9h-0.9zM74.0 348.0h0.9v0.9h-0.9zM100.0 321.3h0.9v0.9h-0.9zM120.5 309.7h0.9v0.9h-0.9zM134.8 295.1h0.9v0.9h-0.9zM60.4 373.9h0.9v0.9h-0.9zM66.1 354.1h0.9v0.9h-0.9zM125.5 296.2h0.9v0.9h-0.9zM110.5 320.3h0.9v0.9h-0.9zM117.9 305.2h0.9v0.9h-0.9zM144.5 284.9h0.9v0.9h-0.9zM138.9 287.6h0.9v0.9h-0.9zM129.7 300.5h0.9v0.9h-0.9zM123.3 301.0h0.9v0.9h-0.9zM86.4 349.8h0.9v0.9h-0.9zM110.2 320.1h0.9v0.9h-0.9zM66.1 353.0h0.9v0.9h-0.9zM121.6 301.7h0.9v0.9h-0.9zM121.4 309.2h0.9v0.9h-0.9zM117.9 313.0h0.9v0.9h-0.9zM91.2 349.3h0.9v0.9h-0.9zM84.8 351.8h0.9v0.9h-0.9zM88.8 346.0h0.9v0.9h-0.9zM129.8 300.4h0.9v0.9h-0.9zM100.6 334.4h0.9v0.9h-0.9zM85.7 337.0h0.9v0.9h-0.9zM101.2 333.4h0.9v0.9h-0.9zM117.9 313.0h0.9v0.9h-0.9zM85.1 356.3h0.9v0.9h-0.9zM128.5 294.4h0.9v0.9h-0.9zM137.0 292.7h0.9v0.9h-0.9zM85.7 354.8h0.9v0.9h-0.9zM61.6 359.7h0.9v0.9h-0.9zM121.7 307.9h0.9v0.9h-0.9zM144.1 282.5h0.9v0.9h-0.9zM62.6 359.8h0.9v0.9h-0.9zM117.1 313.1h0.9v0.9h-0.9zM127.9 293.9h0.9v0.9h-0.9zM137.1 292.4h0.9v0.9h-0.9zM60.2 376.5h0.9v0.9h-0.9zM143.6 283.4h0.9v0.9h-0.9zM59.6 358.7h0.9v0.9h-0.9zM65.4 375.2h0.9v0.9h-0.9zM103.8 318.3h0.9v0.9h-0.9zM91.4 345.2h0.9v0.9h-0.9zM120.7 309.0h0.9v0.9h-0.9zM66.7 351.3h0.9v0.9h-0.9zM136.5 289.5h0.9v0.9h-0.9zM69.3 366.2h0.9v0.9h-0.9zM122.5 298.7h0.9v0.9h-0.9zM94.0 343.7h0.9v0.9h-0.9zM78.6 344.1h0.9v0.9h-0.9zM78.4 357.3h0.9v0.9h-0.9zM117.8 304.3h0.9v0.9h-0.9zM92.2 330.7h0.9v0.9h-0.9zM144.4 282.3h0.9v0.9h-0.9zM134.1 295.6h0.9v0.9h-0.9zM136.7 288.6h0.9v0.9h-0.9zM72.1 350.4h0.9v0.9h-0.9zM86.3 335.5h0.9v0.9h-0.9zM70.2 347.6h0.9v0.9h-0.9zM60.4 374.2h0.9v0.9h-0.9zM51.5 371.5h0.9v0.9h-0.9zM96.9 336.5h0.9v0.9h-0.9zM60.2 358.3h0.9v0.9h-0.9zM65.3 356.7h0.9v0.9h-0.9zM131.3 292.9h0.9v0.9h-0.9zM95.0 341.5h0.9v0.9h-0.9zM66.0 373.5h0.9v0.9h-0.9zM112.9 307.1h0.9v0.9h-0.9zM74.0 344.9h0.9v0.9h-0.9zM99.2 334.8h0.9v0.9h-0.9zM75.6 346.8h0.9v0.9h-0.9zM98.1 337.9h0.9v0.9h-0.9zM109.0 323.6h0.9v0.9h-0.9zM100.0 323.4h0.9v0.9h-0.9zM86.5 353.5h0.9v0.9h-0.9zM124.6 305.0h0.9v0.9h-0.9zM132.6 297.0h0.9v0.9h-0.9zM65.6 372.5h0.9v0.9h-0.9zM61.5 376.1h0.9v0.9h-0.9zM59.2 379.8h0.9v0.9h-0.9zM142.8 283.8h0.9v0.9h-0.9zM139.2 287.4h0.9v0.9h-0.9zM70.6 348.3h0.9v0.9h-0.9zM141.9 285.0h0.9v0.9h-0.9zM68.4 369.8h0.9v0.9h-0.9zM97.2 337.6h0.9v0.9h-0.9zM96.3 339.4h0.9v0.9h-0.9zM136.6 292.7h0.9v0.9h-0.9zM52.2 371.4h0.9v0.9h-0.9zM78.7 357.4h0.9v0.9h-0.9zM106.2 326.0h0.9v0.9h-0.9zM54.7 367.6h0.9v0.9h-0.9zM71.1 370.2h0.9v0.9h-0.9zM93.2 345.8h0.9v0.9h-0.9zM133.3 291.4h0.9v0.9h-0.9zM121.7 300.3h0.9v0.9h-0.9zM128.3 301.9h0.9v0.9h-0.9zM121.7 301.3h0.9v0.9h-0.9zM116.6 313.9h0.9v0.9h-0.9zM130.3 299.3h0.9v0.9h-0.9zM114.1 307.2h0.9v0.9h-0.9zM119.3 311.6h0.9v0.9h-0.9zM77.4 358.7h0.9v0.9h-0.9zM64.5 353.5h0.9v0.9h-0.9zM121.3 300.5h0.9v0.9h-0.9zM64.3 375.2h0.9v0.9h-0.9zM137.0 288.4h0.9v0.9h-0.9zM105.9 327.6h0.9v0.9h-0.9zM80.1 341.1h0.9v0.9h-0.9zM138.7 290.9h0.9v0.9h-0.9zM63.3 372.7h0.9v0.9h-0.9zM97.9 337.2h0.9v0.9h-0.9zM57.1 362.9h0.9v0.9h-0.9zM141.5 287.7h0.9v0.9h-0.9zM103.8 319.6h0.9v0.9h-0.9zM125.9 296.3h0.9v0.9h-0.9zM75.5 343.0h0.9v0.9h-0.9zM125.7 304.4h0.9v0.9h-0.9zM116.1 306.6h0.9v0.9h-0.9zM110.4 310.7h0.9v0.9h-0.9zM140.0 287.1h0.9v0.9h-0.9zM90.1 348.9h0.9v0.9h-0.9zM88.4 350.2h0.9v0.9h-0.9zM115.1 315.5h0.9v0.9h-0.9zM128.9 300.8h0.9v0.9h-0.9zM80.6 341.1h0.9v0.9h-0.9zM112.9 318.0h0.9v0.9h-0.9zM68.5 370.0h0.9v0.9h-0.9zM101.5 333.1h0.9v0.9h-0.9zM122.5 307.4h0.9v0.9h-0.9zM54.6 378.3h0.9v0.9h-0.9zM118.5 303.4h0.9v0.9h-0.9zM140.8 288.9h0.9v0.9h-0.9zM93.5 325.3h0.9v0.9h-0.9zM87.8 347.4h0.9v0.9h-0.9zM117.8 312.9h0.9v0.9h-0.9zM98.8 323.5h0.9v0.9h-0.9zM118.8 302.5h0.9v0.9h-0.9zM56.5 365.1h0.9v0.9h-0.9zM102.6 330.2h0.9v0.9h-0.9zM102.2 331.3h0.9v0.9h-0.9zM138.3 291.2h0.9v0.9h-0.9zM92.0 346.3h0.9v0.9h-0.9zM109.2 322.6h0.9v0.9h-0.9zM101.5 320.4h0.9v0.9h-0.9zM105.5 326.5h0.9v0.9h-0.9zM69.7 349.7h0.9v0.9h-0.9zM67.2 371.0h0.9v0.9h-0.9zM133.1 296.5h0.9v0.9h-0.9zM67.4 367.8h0.9v0.9h-0.9zM92.1 328.5h0.9v0.9h-0.9zM120.7 302.7h0.9v0.9h-0.9zM116.6 305.9h0.9v0.9h-0.9zM101.7 321.6h0.9v0.9h-0.9zM126.2 303.9h0.9v0.9h-0.9z" fill="#8a8886"/>
<line x1="48.30" y1="379.90" x2="152.00" y2="276.20" stroke="#222" stroke-width="1.05" />
<circle cx="97.20" cy="326.90" r="2.0" fill="#e8412c"/>
<circle cx="93.50" cy="332.00" r="2.0" fill="#e8412c"/>
<circle cx="74.20" cy="350.70" r="2.0" fill="#e8412c"/>
<circle cx="61.20" cy="363.90" r="2.0" fill="#e8412c"/>
<circle cx="66.50" cy="366.90" r="2.0" fill="#e8412c"/>
<circle cx="55.00" cy="372.00" r="2.0" fill="#e8412c"/>
<circle cx="48.20" cy="379.40" r="2.0" fill="#e8412c"/>
<circle cx="51.90" cy="377.30" r="2.0" fill="#e8412c"/>
<circle cx="54.80" cy="375.50" r="2.0" fill="#e8412c"/>
<circle cx="53.30" cy="376.50" r="2.0" fill="#e8412c"/>
<circle cx="50.00" cy="378.80" r="2.0" fill="#e8412c"/>
<text x="93.30" y="322.00" font-size="4.6" text-anchor="start" fill="#222" textLength="9.00" lengthAdjust="spacingAndGlyphs" font-weight="bold">Myc</text>
<text x="79.40" y="333.60" font-size="4.6" text-anchor="start" fill="#222" textLength="12.10" lengthAdjust="spacingAndGlyphs" font-weight="bold">Skp2</text>
<text x="66.20" y="347.00" font-size="4.6" text-anchor="start" fill="#222" textLength="11.10" lengthAdjust="spacingAndGlyphs" font-weight="bold">Gata3</text>
<text x="53.50" y="360.40" font-size="4.6" text-anchor="start" fill="#222" textLength="9.80" lengthAdjust="spacingAndGlyphs" font-weight="bold">Ptcra</text>
<text x="69.70" y="368.60" font-size="4.6" text-anchor="start" fill="#222" textLength="10.30" lengthAdjust="spacingAndGlyphs" font-weight="bold">Dtx1</text>
<text x="48.90" y="369.00" font-size="4.6" text-anchor="start" fill="#222" textLength="8.70" lengthAdjust="spacingAndGlyphs" font-weight="bold">Hes1</text>
<text x="58.20" y="374.60" font-size="4.6" text-anchor="start" fill="#222" textLength="12.10" lengthAdjust="spacingAndGlyphs" font-weight="bold">Igf1r</text>
<text x="55.70" y="378.00" font-size="4.6" text-anchor="start" fill="#222" textLength="16.60" lengthAdjust="spacingAndGlyphs" font-weight="bold">Notch1</text>
<text x="36.60" y="376.00" font-size="4.6" text-anchor="start" fill="#222" textLength="15.00" lengthAdjust="spacingAndGlyphs" font-weight="bold">Ccnd1</text>
<text x="59.70" y="381.60" font-size="4.6" text-anchor="start" fill="#222" textLength="14.60" lengthAdjust="spacingAndGlyphs" font-weight="bold">Nrarp</text>
<text x="49.90" y="385.20" font-size="4.6" text-anchor="start" fill="#222" textLength="6.90" lengthAdjust="spacingAndGlyphs" font-weight="bold">Il7r</text>
<line x1="210.30" y1="270.50" x2="210.30" y2="380.00" stroke="#151515" stroke-width="1.5" />
<line x1="210.30" y1="380.00" x2="317.30" y2="380.00" stroke="#151515" stroke-width="1.5" />
<line x1="207.50" y1="273.95" x2="210.30" y2="273.95" stroke="#151515" stroke-width="1.0" />
<text x="206.80" y="276.65" font-size="7.3" text-anchor="end" fill="#1a1a1a">15</text>
<line x1="207.50" y1="309.30" x2="210.30" y2="309.30" stroke="#151515" stroke-width="1.0" />
<text x="206.80" y="312.00" font-size="7.3" text-anchor="end" fill="#1a1a1a">10</text>
<line x1="207.50" y1="344.65" x2="210.30" y2="344.65" stroke="#151515" stroke-width="1.0" />
<text x="206.80" y="347.35" font-size="7.3" text-anchor="end" fill="#1a1a1a">5</text>
<line x1="207.50" y1="380.00" x2="210.30" y2="380.00" stroke="#151515" stroke-width="1.0" />
<text x="206.80" y="382.70" font-size="7.3" text-anchor="end" fill="#1a1a1a">0</text>
<line x1="210.30" y1="380.00" x2="210.30" y2="383.00" stroke="#151515" stroke-width="1.0" />
<text x="210.30" y="392.60" font-size="7.3" text-anchor="middle" fill="#1a1a1a">0</text>
<line x1="245.65" y1="380.00" x2="245.65" y2="383.00" stroke="#151515" stroke-width="1.0" />
<text x="245.65" y="392.60" font-size="7.3" text-anchor="middle" fill="#1a1a1a">5</text>
<line x1="281.00" y1="380.00" x2="281.00" y2="383.00" stroke="#151515" stroke-width="1.0" />
<text x="281.00" y="392.60" font-size="7.3" text-anchor="middle" fill="#1a1a1a">10</text>
<line x1="316.35" y1="380.00" x2="316.35" y2="383.00" stroke="#151515" stroke-width="1.0" />
<text x="316.35" y="392.60" font-size="7.3" text-anchor="middle" fill="#1a1a1a">15</text>
<text x="256.20" y="267.00" font-size="9.6" text-anchor="middle" fill="#1a1a1a">TALL-1</text>
<text x="248.30" y="406.40" font-size="9.6" text-anchor="start" fill="#1a1a1a" textLength="31.00" lengthAdjust="spacingAndGlyphs">Control</text>
<text x="192.80" y="418.80" font-size="9.6" text-anchor="start" fill="#1a1a1a" textLength="141.80" lengthAdjust="spacingAndGlyphs">expression levels in log2 (FPKM+1)</text>
<text transform="translate(190.00,380.00) rotate(-90)" x="0" y="0" font-size="9.6" fill="#1a1a1a" textLength="141.40" lengthAdjust="spacingAndGlyphs">expression levels in log2 (FPKM+1)</text>
<text transform="translate(177.60,344.50) rotate(-90)" x="0" y="0" font-size="9.6" fill="#1a1a1a" textLength="41.20" lengthAdjust="spacingAndGlyphs">sh<tspan font-style="italic">KDM2B</tspan></text>
<defs><linearGradient id="g2" gradientUnits="userSpaceOnUse" x1="252.7" y1="337.6" x2="298.7" y2="291.6"><stop offset="0" stop-color="#888580"/><stop offset="1" stop-color="#b3b1ae"/></linearGradient></defs>
<polygon points="210.30,377.00 211.42,375.80 212.54,374.60 213.66,373.41 214.77,372.21 215.89,371.01 217.01,369.81 218.13,368.70 219.25,367.62 220.37,366.54 221.49,365.46 222.61,364.38 223.72,363.30 224.84,362.22 225.96,361.14 227.08,360.06 228.20,358.98 229.32,357.91 230.44,356.83 231.55,355.75 232.67,354.65 233.79,353.56 234.91,352.47 236.03,351.38 237.15,350.28 238.27,349.19 239.39,348.10 240.50,347.01 241.62,345.92 242.74,344.82 243.86,343.73 244.98,342.64 246.10,341.55 247.22,340.45 248.33,339.36 249.45,338.27 250.57,337.18 251.69,336.08 252.81,335.00 253.93,334.04 255.05,333.08 256.17,332.12 257.28,331.16 258.40,330.20 259.52,329.24 260.64,328.20 261.76,327.14 262.88,326.08 264.00,325.01 265.11,323.95 266.23,322.89 267.35,321.82 268.47,320.76 269.59,319.70 270.71,318.63 271.83,317.57 272.95,316.51 274.06,315.44 275.18,314.34 276.30,313.25 277.42,312.15 278.54,311.05 279.66,309.96 280.78,308.86 281.89,307.77 283.01,306.67 284.13,305.57 285.25,304.48 286.37,303.38 287.49,302.29 288.61,301.19 289.73,300.09 290.84,299.00 291.96,297.90 293.08,296.81 294.20,295.71 295.32,294.61 296.44,293.52 297.56,292.42 298.68,291.32 298.68,292.43 297.56,293.68 296.44,294.94 295.32,296.20 294.20,297.46 293.08,298.71 291.96,299.97 290.84,301.23 289.73,302.49 288.61,303.75 287.49,305.00 286.37,306.26 285.25,307.52 284.13,308.78 283.01,310.04 281.89,311.29 280.78,312.54 279.66,313.74 278.54,314.94 277.42,316.13 276.30,317.33 275.18,318.53 274.06,319.73 272.95,320.92 271.83,322.12 270.71,323.32 269.59,324.52 268.47,325.72 267.35,326.91 266.23,328.13 265.11,329.37 264.00,330.61 262.88,331.84 261.76,333.08 260.64,334.32 259.52,335.56 258.40,336.79 257.28,338.03 256.17,339.27 255.05,340.51 253.93,341.74 252.81,342.98 251.69,344.13 250.57,345.28 249.45,346.42 248.33,347.57 247.22,348.71 246.10,349.86 244.98,351.00 243.86,352.15 242.74,353.29 241.62,354.44 240.50,355.58 239.39,356.73 238.27,357.87 237.15,359.02 236.03,360.16 234.91,361.31 233.79,362.45 232.67,363.60 231.55,364.74 230.44,365.79 229.32,366.83 228.20,367.87 227.08,368.91 225.96,369.95 224.84,370.99 223.72,372.03 222.61,373.06 221.49,374.10 220.37,375.14 219.25,376.18 218.13,377.22 217.01,378.06 215.89,378.47 214.77,378.87 213.66,379.28 212.54,379.69 211.42,380.09 210.30,380.50" fill="url(#g2)" stroke="url(#g2)" stroke-width="0.8"/>
<path d="M293.2 295.5h0.9v0.9h-0.9zM243.2 342.6h0.9v0.9h-0.9zM220.0 366.2h0.9v0.9h-0.9zM267.9 319.8h0.9v0.9h-0.9zM222.1 374.4h0.9v0.9h-0.9zM293.0 300.7h0.9v0.9h-0.9zM221.7 377.3h0.9v0.9h-0.9zM243.9 354.4h0.9v0.9h-0.9zM256.2 330.3h0.9v0.9h-0.9zM221.2 376.0h0.9v0.9h-0.9zM239.9 358.9h0.9v0.9h-0.9zM235.8 359.8h0.9v0.9h-0.9zM276.5 320.0h0.9v0.9h-0.9zM301.8 290.6h0.9v0.9h-0.9zM244.0 351.6h0.9v0.9h-0.9zM283.7 305.4h0.9v0.9h-0.9zM223.3 362.2h0.9v0.9h-0.9zM264.1 332.9h0.9v0.9h-0.9zM250.5 337.1h0.9v0.9h-0.9zM237.0 347.9h0.9v0.9h-0.9zM286.5 306.8h0.9v0.9h-0.9zM279.6 308.5h0.9v0.9h-0.9zM222.7 362.2h0.9v0.9h-0.9zM237.4 348.9h0.9v0.9h-0.9zM286.3 307.1h0.9v0.9h-0.9zM302.4 287.1h0.9v0.9h-0.9zM267.0 321.8h0.9v0.9h-0.9zM291.2 302.2h0.9v0.9h-0.9zM301.6 290.8h0.9v0.9h-0.9zM279.0 309.1h0.9v0.9h-0.9zM270.1 318.4h0.9v0.9h-0.9zM230.8 369.3h0.9v0.9h-0.9zM244.7 342.4h0.9v0.9h-0.9zM268.2 329.0h0.9v0.9h-0.9zM296.3 292.4h0.9v0.9h-0.9zM238.3 357.5h0.9v0.9h-0.9zM247.0 352.3h0.9v0.9h-0.9zM275.0 320.7h0.9v0.9h-0.9zM251.5 334.3h0.9v0.9h-0.9zM284.3 309.8h0.9v0.9h-0.9zM232.0 365.8h0.9v0.9h-0.9zM271.5 317.1h0.9v0.9h-0.9zM272.8 323.6h0.9v0.9h-0.9zM253.4 345.8h0.9v0.9h-0.9zM227.8 359.2h0.9v0.9h-0.9zM247.7 351.1h0.9v0.9h-0.9zM279.4 309.5h0.9v0.9h-0.9zM227.9 359.1h0.9v0.9h-0.9zM218.7 376.7h0.9v0.9h-0.9zM253.2 333.3h0.9v0.9h-0.9zM232.1 354.7h0.9v0.9h-0.9zM284.6 304.5h0.9v0.9h-0.9zM286.1 306.6h0.9v0.9h-0.9zM298.0 293.9h0.9v0.9h-0.9zM288.2 305.9h0.9v0.9h-0.9zM270.4 323.2h0.9v0.9h-0.9zM227.7 369.7h0.9v0.9h-0.9zM286.7 302.0h0.9v0.9h-0.9zM277.9 311.3h0.9v0.9h-0.9zM279.6 314.3h0.9v0.9h-0.9zM275.0 313.0h0.9v0.9h-0.9zM287.3 307.5h0.9v0.9h-0.9zM237.9 361.5h0.9v0.9h-0.9zM272.7 321.3h0.9v0.9h-0.9zM258.3 328.7h0.9v0.9h-0.9zM241.6 355.6h0.9v0.9h-0.9zM240.6 346.7h0.9v0.9h-0.9zM224.7 361.2h0.9v0.9h-0.9zM255.9 343.0h0.9v0.9h-0.9zM244.5 340.9h0.9v0.9h-0.9zM249.4 347.3h0.9v0.9h-0.9zM289.3 300.0h0.9v0.9h-0.9zM273.5 314.5h0.9v0.9h-0.9zM273.4 314.5h0.9v0.9h-0.9zM301.6 287.5h0.9v0.9h-0.9zM230.5 356.4h0.9v0.9h-0.9zM257.4 329.9h0.9v0.9h-0.9zM218.9 378.8h0.9v0.9h-0.9zM246.7 339.8h0.9v0.9h-0.9zM298.5 293.4h0.9v0.9h-0.9zM218.3 377.3h0.9v0.9h-0.9zM280.6 313.3h0.9v0.9h-0.9zM290.6 298.8h0.9v0.9h-0.9zM257.5 330.4h0.9v0.9h-0.9zM284.3 310.9h0.9v0.9h-0.9zM251.2 336.7h0.9v0.9h-0.9zM243.1 355.6h0.9v0.9h-0.9zM257.2 340.8h0.9v0.9h-0.9zM228.4 357.9h0.9v0.9h-0.9zM238.8 347.2h0.9v0.9h-0.9zM238.6 348.5h0.9v0.9h-0.9zM302.0 290.3h0.9v0.9h-0.9zM241.4 357.2h0.9v0.9h-0.9zM231.5 353.9h0.9v0.9h-0.9zM297.5 294.7h0.9v0.9h-0.9zM223.2 361.1h0.9v0.9h-0.9zM299.9 288.8h0.9v0.9h-0.9zM289.5 304.0h0.9v0.9h-0.9zM270.3 317.7h0.9v0.9h-0.9zM250.0 346.2h0.9v0.9h-0.9zM228.6 356.0h0.9v0.9h-0.9zM220.2 365.0h0.9v0.9h-0.9zM219.9 378.8h0.9v0.9h-0.9zM242.7 344.3h0.9v0.9h-0.9zM248.1 337.2h0.9v0.9h-0.9zM296.0 293.4h0.9v0.9h-0.9zM260.1 336.4h0.9v0.9h-0.9zM302.2 287.2h0.9v0.9h-0.9zM277.2 311.8h0.9v0.9h-0.9zM223.9 374.6h0.9v0.9h-0.9zM261.7 327.0h0.9v0.9h-0.9zM225.1 361.2h0.9v0.9h-0.9zM213.9 379.4h0.9v0.9h-0.9zM297.9 290.9h0.9v0.9h-0.9zM241.7 353.7h0.9v0.9h-0.9zM227.9 358.6h0.9v0.9h-0.9zM219.7 364.7h0.9v0.9h-0.9zM270.8 317.3h0.9v0.9h-0.9zM253.1 345.1h0.9v0.9h-0.9zM211.4 373.1h0.9v0.9h-0.9zM276.7 312.5h0.9v0.9h-0.9zM234.1 351.6h0.9v0.9h-0.9zM282.7 312.2h0.9v0.9h-0.9zM255.6 330.9h0.9v0.9h-0.9zM260.0 327.4h0.9v0.9h-0.9zM252.7 342.3h0.9v0.9h-0.9zM273.0 320.6h0.9v0.9h-0.9zM302.2 290.2h0.9v0.9h-0.9zM284.3 310.0h0.9v0.9h-0.9zM216.7 378.5h0.9v0.9h-0.9zM256.2 338.3h0.9v0.9h-0.9zM232.0 365.9h0.9v0.9h-0.9zM219.8 367.2h0.9v0.9h-0.9zM228.4 370.4h0.9v0.9h-0.9zM233.3 353.3h0.9v0.9h-0.9zM299.4 293.1h0.9v0.9h-0.9zM279.4 313.9h0.9v0.9h-0.9zM289.5 299.4h0.9v0.9h-0.9zM275.1 318.4h0.9v0.9h-0.9zM239.6 345.9h0.9v0.9h-0.9zM246.6 351.1h0.9v0.9h-0.9zM251.2 336.1h0.9v0.9h-0.9zM237.5 347.4h0.9v0.9h-0.9zM249.4 348.8h0.9v0.9h-0.9zM281.9 307.0h0.9v0.9h-0.9zM217.3 367.0h0.9v0.9h-0.9zM236.0 361.1h0.9v0.9h-0.9zM254.8 331.2h0.9v0.9h-0.9zM273.0 321.3h0.9v0.9h-0.9zM270.2 326.8h0.9v0.9h-0.9zM277.6 311.6h0.9v0.9h-0.9zM220.1 364.8h0.9v0.9h-0.9zM227.1 359.5h0.9v0.9h-0.9zM239.0 347.6h0.9v0.9h-0.9zM236.4 361.9h0.9v0.9h-0.9zM280.4 308.8h0.9v0.9h-0.9zM302.5 286.9h0.9v0.9h-0.9zM273.7 315.3h0.9v0.9h-0.9zM213.4 371.7h0.9v0.9h-0.9zM237.9 349.2h0.9v0.9h-0.9zM284.8 309.1h0.9v0.9h-0.9zM296.1 293.1h0.9v0.9h-0.9zM265.5 323.0h0.9v0.9h-0.9zM242.7 342.5h0.9v0.9h-0.9zM243.3 343.2h0.9v0.9h-0.9zM269.1 319.0h0.9v0.9h-0.9zM290.5 298.2h0.9v0.9h-0.9zM241.9 357.3h0.9v0.9h-0.9zM228.0 358.7h0.9v0.9h-0.9zM223.1 362.8h0.9v0.9h-0.9zM289.3 303.3h0.9v0.9h-0.9zM268.3 325.4h0.9v0.9h-0.9zM302.2 286.5h0.9v0.9h-0.9zM244.3 352.7h0.9v0.9h-0.9zM284.1 308.9h0.9v0.9h-0.9zM271.7 316.4h0.9v0.9h-0.9zM216.5 379.7h0.9v0.9h-0.9zM247.6 339.9h0.9v0.9h-0.9zM269.5 327.7h0.9v0.9h-0.9zM274.1 322.4h0.9v0.9h-0.9zM252.2 333.3h0.9v0.9h-0.9zM227.8 357.2h0.9v0.9h-0.9zM299.9 289.1h0.9v0.9h-0.9zM253.6 333.7h0.9v0.9h-0.9zM276.9 318.4h0.9v0.9h-0.9zM259.9 328.5h0.9v0.9h-0.9zM217.8 367.4h0.9v0.9h-0.9zM232.3 363.1h0.9v0.9h-0.9zM216.1 371.2h0.9v0.9h-0.9zM228.0 357.3h0.9v0.9h-0.9zM228.9 367.9h0.9v0.9h-0.9zM248.8 337.2h0.9v0.9h-0.9zM240.2 358.9h0.9v0.9h-0.9zM243.9 355.3h0.9v0.9h-0.9zM286.1 302.6h0.9v0.9h-0.9zM219.9 365.2h0.9v0.9h-0.9zM285.3 309.8h0.9v0.9h-0.9zM259.8 338.3h0.9v0.9h-0.9zM251.0 336.8h0.9v0.9h-0.9zM235.1 351.8h0.9v0.9h-0.9zM260.6 335.2h0.9v0.9h-0.9zM230.9 365.5h0.9v0.9h-0.9zM290.0 299.3h0.9v0.9h-0.9zM286.8 301.7h0.9v0.9h-0.9zM240.2 347.5h0.9v0.9h-0.9zM212.6 374.4h0.9v0.9h-0.9zM292.7 300.7h0.9v0.9h-0.9zM238.0 358.1h0.9v0.9h-0.9zM271.3 323.1h0.9v0.9h-0.9zM289.9 304.3h0.9v0.9h-0.9zM284.4 310.3h0.9v0.9h-0.9zM290.3 302.8h0.9v0.9h-0.9zM255.7 339.5h0.9v0.9h-0.9zM288.5 304.5h0.9v0.9h-0.9zM253.1 346.5h0.9v0.9h-0.9zM234.8 350.6h0.9v0.9h-0.9zM254.9 333.1h0.9v0.9h-0.9zM241.4 344.4h0.9v0.9h-0.9zM281.5 307.4h0.9v0.9h-0.9zM287.5 301.1h0.9v0.9h-0.9zM223.4 363.1h0.9v0.9h-0.9zM225.6 369.9h0.9v0.9h-0.9zM245.9 341.9h0.9v0.9h-0.9zM253.3 342.9h0.9v0.9h-0.9zM299.0 289.7h0.9v0.9h-0.9zM297.7 291.0h0.9v0.9h-0.9zM300.0 288.9h0.9v0.9h-0.9zM278.0 310.3h0.9v0.9h-0.9zM273.1 315.8h0.9v0.9h-0.9zM235.4 361.5h0.9v0.9h-0.9zM244.9 340.5h0.9v0.9h-0.9zM287.6 305.8h0.9v0.9h-0.9zM235.9 363.2h0.9v0.9h-0.9zM239.6 345.3h0.9v0.9h-0.9zM240.3 356.2h0.9v0.9h-0.9zM277.5 317.8h0.9v0.9h-0.9zM210.8 375.6h0.9v0.9h-0.9zM231.6 354.6h0.9v0.9h-0.9zM293.5 295.5h0.9v0.9h-0.9zM289.6 303.2h0.9v0.9h-0.9zM268.7 325.0h0.9v0.9h-0.9zM262.2 325.3h0.9v0.9h-0.9zM231.0 367.8h0.9v0.9h-0.9zM291.5 302.2h0.9v0.9h-0.9zM280.9 312.5h0.9v0.9h-0.9zM257.9 337.5h0.9v0.9h-0.9zM225.2 360.3h0.9v0.9h-0.9zM230.3 354.4h0.9v0.9h-0.9zM245.5 341.1h0.9v0.9h-0.9zM241.0 346.2h0.9v0.9h-0.9zM216.0 369.4h0.9v0.9h-0.9zM248.0 337.3h0.9v0.9h-0.9zM251.9 347.2h0.9v0.9h-0.9zM236.9 362.8h0.9v0.9h-0.9zM246.0 351.0h0.9v0.9h-0.9zM241.1 345.9h0.9v0.9h-0.9zM245.3 340.2h0.9v0.9h-0.9zM267.7 320.0h0.9v0.9h-0.9zM256.4 342.0h0.9v0.9h-0.9zM228.6 357.7h0.9v0.9h-0.9zM284.1 309.4h0.9v0.9h-0.9zM257.9 330.1h0.9v0.9h-0.9zM252.8 332.9h0.9v0.9h-0.9zM276.5 311.6h0.9v0.9h-0.9zM280.1 308.7h0.9v0.9h-0.9zM289.1 299.4h0.9v0.9h-0.9zM285.6 303.3h0.9v0.9h-0.9zM272.4 322.6h0.9v0.9h-0.9zM277.2 311.3h0.9v0.9h-0.9zM224.9 371.0h0.9v0.9h-0.9zM275.2 319.0h0.9v0.9h-0.9zM233.9 362.5h0.9v0.9h-0.9zM234.2 362.2h0.9v0.9h-0.9zM221.4 375.6h0.9v0.9h-0.9zM247.1 340.5h0.9v0.9h-0.9zM271.3 322.8h0.9v0.9h-0.9zM279.7 309.0h0.9v0.9h-0.9zM282.3 312.5h0.9v0.9h-0.9zM222.3 364.7h0.9v0.9h-0.9zM269.8 325.2h0.9v0.9h-0.9zM288.1 305.6h0.9v0.9h-0.9zM228.2 356.5h0.9v0.9h-0.9zM235.1 364.1h0.9v0.9h-0.9zM253.2 334.6h0.9v0.9h-0.9zM226.3 358.6h0.9v0.9h-0.9zM260.3 327.4h0.9v0.9h-0.9zM242.2 356.2h0.9v0.9h-0.9zM271.1 322.9h0.9v0.9h-0.9zM259.6 336.7h0.9v0.9h-0.9zM274.0 321.7h0.9v0.9h-0.9zM233.2 352.1h0.9v0.9h-0.9zM275.9 320.0h0.9v0.9h-0.9zM278.5 310.5h0.9v0.9h-0.9zM277.3 310.9h0.9v0.9h-0.9zM216.7 379.8h0.9v0.9h-0.9zM298.1 294.3h0.9v0.9h-0.9zM263.8 323.6h0.9v0.9h-0.9zM235.6 350.9h0.9v0.9h-0.9zM250.6 348.8h0.9v0.9h-0.9zM258.3 328.4h0.9v0.9h-0.9zM258.3 339.6h0.9v0.9h-0.9zM233.3 363.8h0.9v0.9h-0.9zM234.9 363.0h0.9v0.9h-0.9zM244.0 343.3h0.9v0.9h-0.9zM282.8 312.2h0.9v0.9h-0.9zM250.9 348.4h0.9v0.9h-0.9zM213.9 373.1h0.9v0.9h-0.9zM252.3 333.7h0.9v0.9h-0.9zM229.0 356.4h0.9v0.9h-0.9zM211.5 376.0h0.9v0.9h-0.9zM301.0 287.8h0.9v0.9h-0.9zM237.6 360.0h0.9v0.9h-0.9zM260.2 328.0h0.9v0.9h-0.9zM243.5 351.5h0.9v0.9h-0.9zM293.9 298.5h0.9v0.9h-0.9zM297.1 295.2h0.9v0.9h-0.9zM227.6 368.3h0.9v0.9h-0.9zM249.1 337.2h0.9v0.9h-0.9zM245.0 341.8h0.9v0.9h-0.9zM225.8 373.1h0.9v0.9h-0.9zM271.7 324.1h0.9v0.9h-0.9zM282.9 312.0h0.9v0.9h-0.9zM280.8 308.2h0.9v0.9h-0.9zM273.0 316.1h0.9v0.9h-0.9zM211.9 372.9h0.9v0.9h-0.9zM231.6 368.5h0.9v0.9h-0.9zM258.1 329.2h0.9v0.9h-0.9zM275.5 312.5h0.9v0.9h-0.9zM246.2 352.3h0.9v0.9h-0.9zM252.0 334.4h0.9v0.9h-0.9zM288.3 300.6h0.9v0.9h-0.9zM212.5 373.9h0.9v0.9h-0.9zM235.2 362.4h0.9v0.9h-0.9zM237.2 349.9h0.9v0.9h-0.9zM302.4 286.7h0.9v0.9h-0.9zM231.4 366.4h0.9v0.9h-0.9zM214.7 378.6h0.9v0.9h-0.9zM248.9 347.8h0.9v0.9h-0.9zM270.6 318.1h0.9v0.9h-0.9zM224.5 360.9h0.9v0.9h-0.9zM288.2 306.0h0.9v0.9h-0.9zM228.5 357.1h0.9v0.9h-0.9zM275.7 312.7h0.9v0.9h-0.9zM225.3 372.6h0.9v0.9h-0.9zM292.1 297.1h0.9v0.9h-0.9zM229.0 357.4h0.9v0.9h-0.9zM278.2 317.6h0.9v0.9h-0.9zM288.1 300.3h0.9v0.9h-0.9zM234.0 353.2h0.9v0.9h-0.9zM218.9 368.4h0.9v0.9h-0.9zM264.7 322.6h0.9v0.9h-0.9zM256.6 341.9h0.9v0.9h-0.9zM254.8 342.7h0.9v0.9h-0.9zM282.8 305.6h0.9v0.9h-0.9zM253.3 333.2h0.9v0.9h-0.9zM256.4 329.9h0.9v0.9h-0.9zM255.5 332.2h0.9v0.9h-0.9zM252.5 334.3h0.9v0.9h-0.9zM247.9 338.1h0.9v0.9h-0.9zM225.2 361.6h0.9v0.9h-0.9zM237.7 361.1h0.9v0.9h-0.9zM234.9 361.5h0.9v0.9h-0.9zM233.3 365.5h0.9v0.9h-0.9zM282.9 305.5h0.9v0.9h-0.9zM220.9 375.7h0.9v0.9h-0.9zM229.4 370.9h0.9v0.9h-0.9zM259.1 337.9h0.9v0.9h-0.9zM239.3 359.6h0.9v0.9h-0.9zM232.6 355.0h0.9v0.9h-0.9zM244.9 342.6h0.9v0.9h-0.9zM256.9 330.0h0.9v0.9h-0.9zM272.9 323.8h0.9v0.9h-0.9zM300.5 291.7h0.9v0.9h-0.9zM289.4 304.8h0.9v0.9h-0.9zM250.2 337.6h0.9v0.9h-0.9zM252.2 333.4h0.9v0.9h-0.9zM248.9 336.7h0.9v0.9h-0.9zM232.5 366.0h0.9v0.9h-0.9zM298.6 293.4h0.9v0.9h-0.9zM216.7 368.3h0.9v0.9h-0.9zM229.3 366.9h0.9v0.9h-0.9zM271.7 324.1h0.9v0.9h-0.9zM265.0 331.6h0.9v0.9h-0.9zM236.2 350.0h0.9v0.9h-0.9zM297.2 294.7h0.9v0.9h-0.9zM248.3 339.6h0.9v0.9h-0.9zM265.6 328.9h0.9v0.9h-0.9zM218.7 365.7h0.9v0.9h-0.9zM293.0 299.3h0.9v0.9h-0.9zM219.9 375.0h0.9v0.9h-0.9zM246.9 340.3h0.9v0.9h-0.9z" fill="#8a8886"/>
<line x1="210.30" y1="380.00" x2="313.50" y2="276.50" stroke="#111" stroke-width="1.25" />
<circle cx="252.30" cy="334.20" r="2.0" fill="#e8412c"/>
<circle cx="251.20" cy="335.80" r="2.0" fill="#e8412c"/>
<circle cx="248.80" cy="342.00" r="2.0" fill="#e8412c"/>
<circle cx="244.20" cy="345.70" r="2.0" fill="#e8412c"/>
<circle cx="233.80" cy="352.60" r="2.0" fill="#e8412c"/>
<circle cx="225.80" cy="369.20" r="2.0" fill="#e8412c"/>
<circle cx="213.00" cy="371.50" r="2.0" fill="#e8412c"/>
<circle cx="219.30" cy="374.30" r="2.0" fill="#e8412c"/>
<circle cx="214.20" cy="375.00" r="2.0" fill="#e8412c"/>
<circle cx="209.00" cy="379.80" r="2.0" fill="#e8412c"/>
<circle cx="213.00" cy="379.30" r="2.0" fill="#e8412c"/>
<circle cx="216.00" cy="377.00" r="2.0" fill="#e8412c"/>
<text x="246.70" y="329.20" font-size="4.6" text-anchor="start" fill="#222" textLength="11.60" lengthAdjust="spacingAndGlyphs" font-weight="bold">Skp2</text>
<text x="239.30" y="336.60" font-size="4.6" text-anchor="start" fill="#222" textLength="9.80" lengthAdjust="spacingAndGlyphs" font-weight="bold">Myc</text>
<text x="251.50" y="345.00" font-size="4.6" text-anchor="start" fill="#222" textLength="10.30" lengthAdjust="spacingAndGlyphs" font-weight="bold">Dtx1</text>
<text x="245.10" y="351.90" font-size="4.6" text-anchor="start" fill="#222" textLength="12.20" lengthAdjust="spacingAndGlyphs" font-weight="bold">Hes1</text>
<text x="217.40" y="354.20" font-size="4.6" text-anchor="start" fill="#222" textLength="13.30" lengthAdjust="spacingAndGlyphs" font-weight="bold">Gata3</text>
<text x="228.90" y="370.60" font-size="4.6" text-anchor="start" fill="#222" textLength="16.80" lengthAdjust="spacingAndGlyphs" font-weight="bold">Notch1</text>
<text x="207.00" y="369.00" font-size="4.6" text-anchor="start" fill="#222" textLength="12.10" lengthAdjust="spacingAndGlyphs" font-weight="bold">Ptcra</text>
<text x="221.30" y="375.90" font-size="4.6" text-anchor="start" fill="#222" textLength="10.50" lengthAdjust="spacingAndGlyphs" font-weight="bold">Igf1r</text>
<text x="215.70" y="379.60" font-size="4.6" text-anchor="start" fill="#222" textLength="6.90" lengthAdjust="spacingAndGlyphs" font-weight="bold">Il7r</text>
<text x="194.70" y="385.10" font-size="4.6" text-anchor="start" fill="#222" textLength="15.20" lengthAdjust="spacingAndGlyphs" font-weight="bold">Ccnd1</text>
<text x="211.70" y="385.80" font-size="4.6" text-anchor="start" fill="#222" textLength="14.40" lengthAdjust="spacingAndGlyphs" font-weight="bold">Nrarp</text>
<line x1="372.30" y1="269.40" x2="372.30" y2="380.00" stroke="#151515" stroke-width="1.5" />
<line x1="372.30" y1="380.00" x2="480.80" y2="380.00" stroke="#151515" stroke-width="1.5" />
<line x1="369.50" y1="273.50" x2="372.30" y2="273.50" stroke="#151515" stroke-width="1.0" />
<text x="366.80" y="276.20" font-size="7.3" text-anchor="end" fill="#1a1a1a">15</text>
<line x1="369.50" y1="309.00" x2="372.30" y2="309.00" stroke="#151515" stroke-width="1.0" />
<text x="366.80" y="311.70" font-size="7.3" text-anchor="end" fill="#1a1a1a">10</text>
<line x1="369.50" y1="344.50" x2="372.30" y2="344.50" stroke="#151515" stroke-width="1.0" />
<text x="366.80" y="347.20" font-size="7.3" text-anchor="end" fill="#1a1a1a">5</text>
<line x1="369.50" y1="380.00" x2="372.30" y2="380.00" stroke="#151515" stroke-width="1.0" />
<text x="366.80" y="382.70" font-size="7.3" text-anchor="end" fill="#1a1a1a">0</text>
<line x1="372.30" y1="380.00" x2="372.30" y2="383.00" stroke="#151515" stroke-width="1.0" />
<text x="372.30" y="392.60" font-size="7.3" text-anchor="middle" fill="#1a1a1a">0</text>
<line x1="407.80" y1="380.00" x2="407.80" y2="383.00" stroke="#151515" stroke-width="1.0" />
<text x="407.80" y="392.60" font-size="7.3" text-anchor="middle" fill="#1a1a1a">5</text>
<line x1="443.30" y1="380.00" x2="443.30" y2="383.00" stroke="#151515" stroke-width="1.0" />
<text x="443.30" y="392.60" font-size="7.3" text-anchor="middle" fill="#1a1a1a">10</text>
<line x1="478.80" y1="380.00" x2="478.80" y2="383.00" stroke="#151515" stroke-width="1.0" />
<text x="478.80" y="392.60" font-size="7.3" text-anchor="middle" fill="#1a1a1a">15</text>
<text x="383.00" y="267.00" font-size="9.6" text-anchor="start" fill="#1a1a1a" textLength="86.10" lengthAdjust="spacingAndGlyphs">ΔCxxC T-ALL cell line</text>
<text x="410.20" y="406.40" font-size="9.6" text-anchor="start" fill="#1a1a1a" textLength="31.60" lengthAdjust="spacingAndGlyphs">Control</text>
<text x="355.60" y="418.80" font-size="9.6" text-anchor="start" fill="#1a1a1a" textLength="140.80" lengthAdjust="spacingAndGlyphs">expression levels in log2 (FPKM+1)</text>
<text transform="translate(352.40,397.40) rotate(-90)" x="0" y="0" font-size="9.6" fill="#1a1a1a" textLength="141.60" lengthAdjust="spacingAndGlyphs">expression levels in log2 (FPKM+1)</text>
<text transform="translate(339.80,353.40) rotate(-90)" x="0" y="0" font-size="9.6" fill="#1a1a1a" textLength="54.60" lengthAdjust="spacingAndGlyphs">FLAG-KDM2B</text>
<defs><linearGradient id="g3" gradientUnits="userSpaceOnUse" x1="400.7" y1="351.6" x2="439.8" y2="312.6"><stop offset="0" stop-color="#888580"/><stop offset="1" stop-color="#b3b1ae"/></linearGradient></defs>
<polygon points="372.30,377.00 373.15,375.67 374.01,374.33 374.86,373.00 375.72,371.66 376.57,370.83 377.42,370.10 378.28,369.37 379.13,368.63 379.98,367.90 380.84,367.16 381.69,366.43 382.55,365.70 383.40,364.94 384.25,364.17 385.11,363.40 385.96,362.62 386.81,361.85 387.67,361.07 388.52,360.30 389.38,359.53 390.23,358.75 391.08,357.98 391.94,357.21 392.79,356.43 393.64,355.66 394.50,354.82 395.35,353.99 396.21,353.15 397.06,352.32 397.91,351.49 398.77,350.65 399.62,349.82 400.48,348.99 401.33,348.15 402.18,347.32 403.04,346.48 403.89,345.65 404.74,344.82 405.60,343.98 406.45,343.15 407.31,342.32 408.16,341.48 409.01,340.65 409.87,339.81 410.72,338.98 411.57,338.15 412.43,337.31 413.28,336.48 414.14,335.65 414.99,334.81 415.84,334.01 416.70,333.20 417.55,332.39 418.41,331.58 419.26,330.77 420.11,329.96 420.97,329.15 421.82,328.34 422.67,327.53 423.53,326.72 424.38,325.91 425.24,325.11 426.09,324.30 426.94,323.49 427.80,322.68 428.65,321.87 429.50,321.06 430.36,320.25 431.21,319.44 432.07,318.63 432.92,317.82 433.77,317.01 434.63,316.20 435.48,315.40 436.33,314.59 437.19,313.78 438.04,312.97 438.90,312.16 439.75,311.35 439.75,313.35 438.90,314.22 438.04,315.09 437.19,315.95 436.33,316.82 435.48,317.69 434.63,318.56 433.77,319.42 432.92,320.29 432.07,321.16 431.21,322.03 430.36,322.89 429.50,323.76 428.65,324.63 427.80,325.50 426.94,326.36 426.09,327.23 425.24,328.10 424.38,328.97 423.53,329.83 422.67,330.70 421.82,331.57 420.97,332.44 420.11,333.30 419.26,334.17 418.41,335.04 417.55,335.91 416.70,336.77 415.84,337.64 414.99,338.51 414.14,339.37 413.28,340.24 412.43,341.11 411.57,341.97 410.72,342.84 409.87,343.70 409.01,344.57 408.16,345.44 407.31,346.30 406.45,347.17 405.60,348.03 404.74,348.90 403.89,349.76 403.04,350.63 402.18,351.50 401.33,352.36 400.48,353.23 399.62,354.09 398.77,354.96 397.91,355.83 397.06,356.69 396.21,357.56 395.35,358.42 394.50,359.29 393.64,360.15 392.79,361.08 391.94,362.02 391.08,362.95 390.23,363.89 389.38,364.82 388.52,365.75 387.67,366.69 386.81,367.62 385.96,368.56 385.11,369.49 384.25,370.42 383.40,371.36 382.55,372.28 381.69,373.20 380.84,374.11 379.98,375.02 379.13,375.94 378.28,376.85 377.42,377.77 376.57,378.68 375.72,379.49 374.86,379.74 374.01,379.99 373.15,380.25 372.30,380.50" fill="url(#g3)" stroke="url(#g3)" stroke-width="0.8"/>
<path d="M409.1 338.5h0.9v0.9h-0.9zM413.8 341.6h0.9v0.9h-0.9zM434.4 316.2h0.9v0.9h-0.9zM432.8 316.6h0.9v0.9h-0.9zM440.9 309.7h0.9v0.9h-0.9zM434.9 314.2h0.9v0.9h-0.9zM404.2 344.9h0.9v0.9h-0.9zM382.3 374.5h0.9v0.9h-0.9zM440.0 310.3h0.9v0.9h-0.9zM388.5 367.4h0.9v0.9h-0.9zM416.4 338.5h0.9v0.9h-0.9zM391.0 365.1h0.9v0.9h-0.9zM430.1 324.8h0.9v0.9h-0.9zM386.5 360.9h0.9v0.9h-0.9zM402.1 345.4h0.9v0.9h-0.9zM387.9 366.9h0.9v0.9h-0.9zM433.2 317.2h0.9v0.9h-0.9zM416.2 338.8h0.9v0.9h-0.9zM417.0 330.5h0.9v0.9h-0.9zM394.6 360.9h0.9v0.9h-0.9zM384.8 362.1h0.9v0.9h-0.9zM433.0 316.3h0.9v0.9h-0.9zM426.5 328.3h0.9v0.9h-0.9zM424.3 330.2h0.9v0.9h-0.9zM442.9 311.0h0.9v0.9h-0.9zM411.9 335.4h0.9v0.9h-0.9zM384.9 370.6h0.9v0.9h-0.9zM415.5 331.9h0.9v0.9h-0.9zM392.6 363.0h0.9v0.9h-0.9zM408.6 338.8h0.9v0.9h-0.9zM404.8 342.3h0.9v0.9h-0.9zM412.2 343.3h0.9v0.9h-0.9zM437.6 317.3h0.9v0.9h-0.9zM429.7 319.7h0.9v0.9h-0.9zM401.7 352.9h0.9v0.9h-0.9zM430.2 324.5h0.9v0.9h-0.9zM433.2 321.7h0.9v0.9h-0.9zM427.1 321.8h0.9v0.9h-0.9zM411.4 342.4h0.9v0.9h-0.9zM436.0 317.5h0.9v0.9h-0.9zM407.1 341.3h0.9v0.9h-0.9zM379.8 365.1h0.9v0.9h-0.9zM391.6 354.7h0.9v0.9h-0.9zM418.9 335.4h0.9v0.9h-0.9zM399.2 355.7h0.9v0.9h-0.9zM402.2 352.6h0.9v0.9h-0.9zM400.8 348.7h0.9v0.9h-0.9zM385.9 363.2h0.9v0.9h-0.9zM378.9 377.6h0.9v0.9h-0.9zM375.8 369.9h0.9v0.9h-0.9zM419.9 335.2h0.9v0.9h-0.9zM395.3 353.8h0.9v0.9h-0.9zM404.7 342.4h0.9v0.9h-0.9zM438.5 311.8h0.9v0.9h-0.9zM416.7 331.8h0.9v0.9h-0.9zM429.7 324.9h0.9v0.9h-0.9zM426.3 323.8h0.9v0.9h-0.9zM439.8 314.9h0.9v0.9h-0.9zM377.0 366.5h0.9v0.9h-0.9zM399.5 347.0h0.9v0.9h-0.9zM439.6 311.3h0.9v0.9h-0.9zM405.2 342.6h0.9v0.9h-0.9zM439.4 315.0h0.9v0.9h-0.9zM385.4 360.1h0.9v0.9h-0.9zM376.6 379.0h0.9v0.9h-0.9zM435.7 317.9h0.9v0.9h-0.9zM401.4 354.0h0.9v0.9h-0.9zM408.3 340.8h0.9v0.9h-0.9zM438.6 312.1h0.9v0.9h-0.9zM387.8 361.1h0.9v0.9h-0.9zM440.9 313.5h0.9v0.9h-0.9zM400.4 354.5h0.9v0.9h-0.9zM389.8 356.8h0.9v0.9h-0.9zM388.9 367.4h0.9v0.9h-0.9zM409.0 340.9h0.9v0.9h-0.9zM405.4 350.2h0.9v0.9h-0.9zM435.1 319.7h0.9v0.9h-0.9zM375.9 367.5h0.9v0.9h-0.9zM383.1 372.6h0.9v0.9h-0.9zM415.2 338.9h0.9v0.9h-0.9zM427.6 320.7h0.9v0.9h-0.9zM406.3 348.3h0.9v0.9h-0.9zM415.8 338.8h0.9v0.9h-0.9zM417.8 337.1h0.9v0.9h-0.9zM389.7 366.1h0.9v0.9h-0.9zM443.0 311.4h0.9v0.9h-0.9zM395.7 352.2h0.9v0.9h-0.9zM439.3 315.2h0.9v0.9h-0.9zM407.2 347.4h0.9v0.9h-0.9zM388.1 360.2h0.9v0.9h-0.9zM387.7 358.2h0.9v0.9h-0.9zM395.1 352.2h0.9v0.9h-0.9zM403.4 350.7h0.9v0.9h-0.9zM404.0 349.9h0.9v0.9h-0.9zM411.1 336.0h0.9v0.9h-0.9zM405.9 341.0h0.9v0.9h-0.9zM374.6 372.8h0.9v0.9h-0.9zM391.2 356.0h0.9v0.9h-0.9zM440.4 310.4h0.9v0.9h-0.9zM374.2 372.9h0.9v0.9h-0.9zM424.3 324.3h0.9v0.9h-0.9zM406.0 348.4h0.9v0.9h-0.9zM422.4 332.6h0.9v0.9h-0.9zM395.8 359.9h0.9v0.9h-0.9zM398.5 350.8h0.9v0.9h-0.9zM408.9 338.9h0.9v0.9h-0.9zM436.7 313.3h0.9v0.9h-0.9zM395.6 358.7h0.9v0.9h-0.9zM378.4 368.4h0.9v0.9h-0.9zM434.7 320.1h0.9v0.9h-0.9zM394.5 352.5h0.9v0.9h-0.9zM380.8 374.0h0.9v0.9h-0.9zM414.5 339.3h0.9v0.9h-0.9zM432.1 316.3h0.9v0.9h-0.9zM414.8 333.6h0.9v0.9h-0.9zM383.0 363.3h0.9v0.9h-0.9zM401.0 353.5h0.9v0.9h-0.9zM391.2 355.3h0.9v0.9h-0.9zM373.5 373.5h0.9v0.9h-0.9zM440.7 313.6h0.9v0.9h-0.9zM404.8 349.5h0.9v0.9h-0.9zM381.8 363.5h0.9v0.9h-0.9zM435.0 318.8h0.9v0.9h-0.9zM442.1 311.5h0.9v0.9h-0.9zM430.1 319.1h0.9v0.9h-0.9zM390.3 365.8h0.9v0.9h-0.9zM385.8 369.4h0.9v0.9h-0.9zM409.5 344.8h0.9v0.9h-0.9zM413.6 335.9h0.9v0.9h-0.9zM434.5 315.0h0.9v0.9h-0.9zM440.8 313.7h0.9v0.9h-0.9zM436.8 313.8h0.9v0.9h-0.9zM396.5 358.4h0.9v0.9h-0.9zM413.8 334.6h0.9v0.9h-0.9zM381.1 374.0h0.9v0.9h-0.9zM409.0 339.2h0.9v0.9h-0.9zM377.3 369.7h0.9v0.9h-0.9zM380.2 367.6h0.9v0.9h-0.9zM380.9 376.8h0.9v0.9h-0.9zM393.6 360.4h0.9v0.9h-0.9zM394.2 354.2h0.9v0.9h-0.9zM422.2 326.4h0.9v0.9h-0.9zM377.7 378.5h0.9v0.9h-0.9zM380.2 374.6h0.9v0.9h-0.9zM418.8 336.4h0.9v0.9h-0.9zM419.9 329.6h0.9v0.9h-0.9zM422.6 331.7h0.9v0.9h-0.9zM423.3 331.8h0.9v0.9h-0.9zM419.2 336.1h0.9v0.9h-0.9zM411.4 335.7h0.9v0.9h-0.9zM424.8 329.5h0.9v0.9h-0.9zM378.1 366.7h0.9v0.9h-0.9zM387.3 358.6h0.9v0.9h-0.9zM424.8 329.1h0.9v0.9h-0.9zM385.9 359.3h0.9v0.9h-0.9zM409.9 344.0h0.9v0.9h-0.9zM390.7 356.3h0.9v0.9h-0.9zM402.8 351.4h0.9v0.9h-0.9zM431.4 322.5h0.9v0.9h-0.9zM419.1 330.7h0.9v0.9h-0.9zM403.8 351.8h0.9v0.9h-0.9zM391.7 362.7h0.9v0.9h-0.9zM429.3 319.1h0.9v0.9h-0.9zM418.8 335.1h0.9v0.9h-0.9zM403.5 351.0h0.9v0.9h-0.9zM433.9 316.4h0.9v0.9h-0.9zM421.3 326.2h0.9v0.9h-0.9zM441.7 311.8h0.9v0.9h-0.9zM419.4 335.8h0.9v0.9h-0.9zM436.0 314.1h0.9v0.9h-0.9zM411.3 344.2h0.9v0.9h-0.9zM422.6 325.7h0.9v0.9h-0.9zM432.0 318.1h0.9v0.9h-0.9zM378.7 367.3h0.9v0.9h-0.9zM405.9 343.4h0.9v0.9h-0.9zM415.2 339.2h0.9v0.9h-0.9zM376.4 378.6h0.9v0.9h-0.9zM428.2 320.7h0.9v0.9h-0.9zM423.0 325.8h0.9v0.9h-0.9zM438.6 315.2h0.9v0.9h-0.9zM398.6 351.0h0.9v0.9h-0.9zM405.5 341.3h0.9v0.9h-0.9zM436.9 313.7h0.9v0.9h-0.9zM401.4 353.0h0.9v0.9h-0.9zM431.4 322.2h0.9v0.9h-0.9zM402.1 352.4h0.9v0.9h-0.9zM396.2 358.5h0.9v0.9h-0.9zM391.9 363.3h0.9v0.9h-0.9zM387.4 360.5h0.9v0.9h-0.9zM402.9 351.5h0.9v0.9h-0.9zM383.7 373.1h0.9v0.9h-0.9zM430.9 319.0h0.9v0.9h-0.9zM441.3 312.6h0.9v0.9h-0.9zM379.2 367.0h0.9v0.9h-0.9zM376.2 370.7h0.9v0.9h-0.9zM372.6 374.4h0.9v0.9h-0.9zM438.3 315.2h0.9v0.9h-0.9zM377.5 369.3h0.9v0.9h-0.9zM420.5 333.9h0.9v0.9h-0.9zM393.8 360.6h0.9v0.9h-0.9zM386.3 359.4h0.9v0.9h-0.9zM389.7 365.3h0.9v0.9h-0.9zM421.1 333.2h0.9v0.9h-0.9zM373.6 373.7h0.9v0.9h-0.9zM433.5 321.2h0.9v0.9h-0.9zM412.5 341.6h0.9v0.9h-0.9zM389.0 357.2h0.9v0.9h-0.9zM387.1 369.8h0.9v0.9h-0.9zM418.7 335.5h0.9v0.9h-0.9zM416.9 332.7h0.9v0.9h-0.9zM394.8 360.7h0.9v0.9h-0.9zM396.0 358.6h0.9v0.9h-0.9zM405.1 344.0h0.9v0.9h-0.9zM436.8 316.8h0.9v0.9h-0.9zM410.4 337.6h0.9v0.9h-0.9zM431.8 316.8h0.9v0.9h-0.9zM417.7 329.9h0.9v0.9h-0.9zM412.1 342.7h0.9v0.9h-0.9zM407.0 347.6h0.9v0.9h-0.9zM420.5 327.0h0.9v0.9h-0.9zM407.1 340.7h0.9v0.9h-0.9zM423.7 331.5h0.9v0.9h-0.9zM385.2 371.2h0.9v0.9h-0.9zM395.1 360.2h0.9v0.9h-0.9zM434.1 320.4h0.9v0.9h-0.9zM400.3 353.8h0.9v0.9h-0.9zM432.0 318.1h0.9v0.9h-0.9zM438.7 312.0h0.9v0.9h-0.9zM413.3 342.1h0.9v0.9h-0.9zM379.5 378.4h0.9v0.9h-0.9zM425.9 328.7h0.9v0.9h-0.9zM419.5 334.5h0.9v0.9h-0.9zM392.9 361.3h0.9v0.9h-0.9zM433.4 316.3h0.9v0.9h-0.9zM406.5 348.0h0.9v0.9h-0.9zM376.3 379.3h0.9v0.9h-0.9zM377.1 370.8h0.9v0.9h-0.9zM388.5 358.3h0.9v0.9h-0.9zM415.5 332.2h0.9v0.9h-0.9zM430.0 320.4h0.9v0.9h-0.9zM379.3 376.5h0.9v0.9h-0.9zM416.4 338.3h0.9v0.9h-0.9zM401.3 346.5h0.9v0.9h-0.9zM403.6 344.9h0.9v0.9h-0.9zM430.4 324.5h0.9v0.9h-0.9zM437.4 312.7h0.9v0.9h-0.9zM440.8 309.6h0.9v0.9h-0.9zM427.5 321.1h0.9v0.9h-0.9zM383.0 374.3h0.9v0.9h-0.9zM413.9 340.1h0.9v0.9h-0.9zM440.0 310.6h0.9v0.9h-0.9zM378.1 368.1h0.9v0.9h-0.9zM408.8 338.1h0.9v0.9h-0.9zM400.4 347.3h0.9v0.9h-0.9zM401.1 346.6h0.9v0.9h-0.9zM391.3 363.5h0.9v0.9h-0.9zM391.5 354.5h0.9v0.9h-0.9zM389.2 365.5h0.9v0.9h-0.9zM379.6 366.4h0.9v0.9h-0.9zM411.5 343.4h0.9v0.9h-0.9zM403.9 343.3h0.9v0.9h-0.9zM422.8 325.4h0.9v0.9h-0.9zM417.6 336.7h0.9v0.9h-0.9zM439.8 310.6h0.9v0.9h-0.9zM396.4 350.0h0.9v0.9h-0.9zM434.8 319.5h0.9v0.9h-0.9zM399.6 349.3h0.9v0.9h-0.9zM419.1 334.8h0.9v0.9h-0.9zM429.3 319.4h0.9v0.9h-0.9zM400.4 346.6h0.9v0.9h-0.9zM403.9 344.1h0.9v0.9h-0.9zM417.0 337.3h0.9v0.9h-0.9zM380.1 365.4h0.9v0.9h-0.9zM410.0 336.9h0.9v0.9h-0.9zM379.0 377.6h0.9v0.9h-0.9zM388.2 368.0h0.9v0.9h-0.9zM416.4 338.8h0.9v0.9h-0.9zM441.2 313.4h0.9v0.9h-0.9zM443.1 311.0h0.9v0.9h-0.9zM390.8 358.0h0.9v0.9h-0.9zM382.7 363.2h0.9v0.9h-0.9zM409.0 346.3h0.9v0.9h-0.9zM403.6 343.2h0.9v0.9h-0.9zM399.2 350.1h0.9v0.9h-0.9zM426.7 323.4h0.9v0.9h-0.9zM422.6 326.0h0.9v0.9h-0.9zM412.1 343.2h0.9v0.9h-0.9zM416.3 333.5h0.9v0.9h-0.9zM413.5 341.3h0.9v0.9h-0.9zM420.2 333.9h0.9v0.9h-0.9zM438.0 310.9h0.9v0.9h-0.9zM439.3 310.9h0.9v0.9h-0.9zM441.7 309.1h0.9v0.9h-0.9zM433.2 321.5h0.9v0.9h-0.9zM379.7 367.5h0.9v0.9h-0.9zM404.3 344.2h0.9v0.9h-0.9zM427.7 322.5h0.9v0.9h-0.9zM393.1 361.5h0.9v0.9h-0.9zM415.3 338.7h0.9v0.9h-0.9zM376.2 379.6h0.9v0.9h-0.9zM386.7 360.2h0.9v0.9h-0.9zM400.6 353.8h0.9v0.9h-0.9zM377.3 379.8h0.9v0.9h-0.9zM402.4 353.2h0.9v0.9h-0.9zM388.6 367.1h0.9v0.9h-0.9zM433.3 320.2h0.9v0.9h-0.9zM394.9 361.0h0.9v0.9h-0.9zM399.3 349.8h0.9v0.9h-0.9zM429.1 325.0h0.9v0.9h-0.9zM411.9 336.4h0.9v0.9h-0.9zM375.8 369.2h0.9v0.9h-0.9zM387.7 367.5h0.9v0.9h-0.9zM415.6 333.2h0.9v0.9h-0.9zM386.4 360.2h0.9v0.9h-0.9zM389.9 365.4h0.9v0.9h-0.9zM416.4 332.8h0.9v0.9h-0.9zM407.3 341.3h0.9v0.9h-0.9zM391.4 363.6h0.9v0.9h-0.9zM411.9 337.2h0.9v0.9h-0.9zM417.2 337.6h0.9v0.9h-0.9zM391.7 363.3h0.9v0.9h-0.9zM394.1 361.3h0.9v0.9h-0.9zM434.5 320.2h0.9v0.9h-0.9zM396.9 357.7h0.9v0.9h-0.9zM386.1 359.3h0.9v0.9h-0.9zM421.5 328.4h0.9v0.9h-0.9zM429.8 325.1h0.9v0.9h-0.9zM376.4 380.0h0.9v0.9h-0.9zM433.4 316.4h0.9v0.9h-0.9zM421.6 333.5h0.9v0.9h-0.9zM387.7 368.3h0.9v0.9h-0.9zM437.2 311.8h0.9v0.9h-0.9zM393.1 362.7h0.9v0.9h-0.9zM428.1 322.1h0.9v0.9h-0.9zM377.6 368.3h0.9v0.9h-0.9zM404.6 350.7h0.9v0.9h-0.9zM408.1 345.8h0.9v0.9h-0.9zM435.8 313.9h0.9v0.9h-0.9zM431.5 323.5h0.9v0.9h-0.9zM411.0 338.2h0.9v0.9h-0.9zM375.9 371.7h0.9v0.9h-0.9zM402.8 351.6h0.9v0.9h-0.9zM398.9 349.7h0.9v0.9h-0.9zM442.8 307.6h0.9v0.9h-0.9zM420.5 333.9h0.9v0.9h-0.9zM401.0 354.5h0.9v0.9h-0.9zM398.1 356.8h0.9v0.9h-0.9zM426.7 322.3h0.9v0.9h-0.9zM379.1 376.1h0.9v0.9h-0.9zM430.2 323.5h0.9v0.9h-0.9zM419.8 327.8h0.9v0.9h-0.9zM403.1 351.4h0.9v0.9h-0.9zM422.6 325.2h0.9v0.9h-0.9zM400.5 354.0h0.9v0.9h-0.9zM382.4 374.1h0.9v0.9h-0.9zM401.8 353.3h0.9v0.9h-0.9zM375.9 371.8h0.9v0.9h-0.9zM378.5 369.7h0.9v0.9h-0.9zM403.4 351.3h0.9v0.9h-0.9zM430.7 323.0h0.9v0.9h-0.9zM386.7 368.4h0.9v0.9h-0.9zM407.8 346.4h0.9v0.9h-0.9zM441.6 312.2h0.9v0.9h-0.9zM430.9 318.7h0.9v0.9h-0.9zM436.2 317.7h0.9v0.9h-0.9zM420.1 334.1h0.9v0.9h-0.9zM414.0 340.6h0.9v0.9h-0.9zM413.5 341.4h0.9v0.9h-0.9zM414.9 335.0h0.9v0.9h-0.9zM405.2 350.5h0.9v0.9h-0.9zM397.8 350.4h0.9v0.9h-0.9zM389.2 367.2h0.9v0.9h-0.9zM376.9 371.4h0.9v0.9h-0.9zM398.4 351.1h0.9v0.9h-0.9zM426.8 326.9h0.9v0.9h-0.9zM411.4 335.7h0.9v0.9h-0.9zM383.9 363.3h0.9v0.9h-0.9zM430.0 318.7h0.9v0.9h-0.9zM375.2 369.8h0.9v0.9h-0.9zM438.2 315.3h0.9v0.9h-0.9zM418.5 335.8h0.9v0.9h-0.9zM411.7 337.2h0.9v0.9h-0.9zM401.5 346.8h0.9v0.9h-0.9zM430.7 324.0h0.9v0.9h-0.9zM409.1 339.3h0.9v0.9h-0.9zM393.3 361.4h0.9v0.9h-0.9zM400.7 346.7h0.9v0.9h-0.9zM410.3 338.8h0.9v0.9h-0.9zM375.4 369.5h0.9v0.9h-0.9zM441.9 308.2h0.9v0.9h-0.9z" fill="#8a8886"/>
<line x1="430.60" y1="324.70" x2="476.50" y2="282.00" stroke="#b5b3b1" stroke-width="1.0" />
<line x1="372.30" y1="380.00" x2="475.80" y2="280.40" stroke="#111" stroke-width="1.25" />
<circle cx="425.50" cy="327.20" r="2.0" fill="#e8412c"/>
<circle cx="424.00" cy="328.60" r="2.0" fill="#e8412c"/>
<circle cx="418.50" cy="331.90" r="2.0" fill="#e8412c"/>
<circle cx="415.80" cy="337.00" r="2.0" fill="#e8412c"/>
<circle cx="416.00" cy="338.40" r="2.0" fill="#e8412c"/>
<circle cx="408.80" cy="343.40" r="2.0" fill="#e8412c"/>
<circle cx="408.00" cy="345.00" r="2.0" fill="#e8412c"/>
<circle cx="402.40" cy="346.20" r="2.0" fill="#e8412c"/>
<circle cx="407.00" cy="346.90" r="2.0" fill="#e8412c"/>
<circle cx="388.00" cy="361.90" r="2.0" fill="#e8412c"/>
<circle cx="380.00" cy="370.40" r="2.0" fill="#e8412c"/>
<text x="415.50" y="324.60" font-size="4.6" text-anchor="start" fill="#222" textLength="9.80" lengthAdjust="spacingAndGlyphs" font-weight="bold">Myc</text>
<text x="426.50" y="333.50" font-size="4.6" text-anchor="start" fill="#222" textLength="17.30" lengthAdjust="spacingAndGlyphs" font-weight="bold">Notch1</text>
<text x="406.20" y="331.10" font-size="4.6" text-anchor="start" fill="#222" textLength="10.30" lengthAdjust="spacingAndGlyphs" font-weight="bold">Ptcra</text>
<text x="399.70" y="336.90" font-size="4.6" text-anchor="start" fill="#222" textLength="13.40" lengthAdjust="spacingAndGlyphs" font-weight="bold">Gata3</text>
<text x="418.50" y="340.40" font-size="4.6" text-anchor="start" fill="#222" textLength="15.60" lengthAdjust="spacingAndGlyphs" font-weight="bold">Ccnd1</text>
<text x="395.20" y="342.00" font-size="4.6" text-anchor="start" fill="#222" textLength="11.60" lengthAdjust="spacingAndGlyphs" font-weight="bold">Skp2</text>
<text x="411.30" y="345.90" font-size="4.6" text-anchor="start" fill="#222" textLength="11.70" lengthAdjust="spacingAndGlyphs" font-weight="bold">Hes1</text>
<text x="388.90" y="347.80" font-size="4.6" text-anchor="start" fill="#222" textLength="11.00" lengthAdjust="spacingAndGlyphs" font-weight="bold">Dtx1</text>
<text x="408.10" y="353.60" font-size="4.6" text-anchor="start" fill="#222" textLength="10.70" lengthAdjust="spacingAndGlyphs" font-weight="bold">Igf1r</text>
<text x="378.50" y="362.10" font-size="4.6" text-anchor="start" fill="#222" textLength="6.40" lengthAdjust="spacingAndGlyphs" font-weight="bold">Il7r</text>
<text x="382.00" y="375.50" font-size="4.6" text-anchor="start" fill="#222" textLength="14.50" lengthAdjust="spacingAndGlyphs" font-weight="bold">Nrarp</text>
<line x1="83.80" y1="492.10" x2="83.80" y2="603.90" stroke="#151515" stroke-width="1.5" />
<line x1="26.70" y1="548.10" x2="138.50" y2="548.10" stroke="#151515" stroke-width="1.5" />
<line x1="81.20" y1="601.50" x2="83.80" y2="601.50" stroke="#151515" stroke-width="1.0" />
<line x1="30.70" y1="548.10" x2="30.70" y2="550.90" stroke="#151515" stroke-width="1.0" />
<line x1="81.20" y1="583.70" x2="83.80" y2="583.70" stroke="#151515" stroke-width="1.0" />
<line x1="48.40" y1="548.10" x2="48.40" y2="550.90" stroke="#151515" stroke-width="1.0" />
<line x1="81.20" y1="565.90" x2="83.80" y2="565.90" stroke="#151515" stroke-width="1.0" />
<line x1="66.10" y1="548.10" x2="66.10" y2="550.90" stroke="#151515" stroke-width="1.0" />
<line x1="81.20" y1="530.30" x2="83.80" y2="530.30" stroke="#151515" stroke-width="1.0" />
<line x1="101.50" y1="548.10" x2="101.50" y2="550.90" stroke="#151515" stroke-width="1.0" />
<line x1="81.20" y1="512.50" x2="83.80" y2="512.50" stroke="#151515" stroke-width="1.0" />
<line x1="119.20" y1="548.10" x2="119.20" y2="550.90" stroke="#151515" stroke-width="1.0" />
<line x1="81.20" y1="494.70" x2="83.80" y2="494.70" stroke="#151515" stroke-width="1.0" />
<line x1="136.90" y1="548.10" x2="136.90" y2="550.90" stroke="#151515" stroke-width="1.0" />
<ellipse cx="85.5" cy="546.0" rx="15.8" ry="21.8" fill="#8d8985" filter="url(#blur1)" transform="rotate(0 85.5 546.0)"/>
<path d="M102.9 547.5h0.9v0.9h-0.9zM103.1 541.5h0.9v0.9h-0.9zM69.6 536.4h0.9v0.9h-0.9zM85.7 519.9h0.9v0.9h-0.9zM77.4 526.0h0.9v0.9h-0.9zM68.9 545.2h0.9v0.9h-0.9zM62.6 558.9h0.9v0.9h-0.9zM90.2 570.0h0.9v0.9h-0.9zM82.2 565.8h0.9v0.9h-0.9zM99.3 558.8h0.9v0.9h-0.9zM83.5 569.7h0.9v0.9h-0.9zM74.4 523.7h0.9v0.9h-0.9zM69.8 538.7h0.9v0.9h-0.9zM68.1 535.2h0.9v0.9h-0.9zM65.1 540.8h0.9v0.9h-0.9zM104.2 536.8h0.9v0.9h-0.9zM95.1 527.7h0.9v0.9h-0.9zM83.8 572.0h0.9v0.9h-0.9zM70.4 538.2h0.9v0.9h-0.9zM105.0 540.7h0.9v0.9h-0.9zM83.7 569.0h0.9v0.9h-0.9zM79.7 520.9h0.9v0.9h-0.9zM76.2 528.9h0.9v0.9h-0.9zM76.5 523.7h0.9v0.9h-0.9zM69.8 538.0h0.9v0.9h-0.9zM84.6 524.8h0.9v0.9h-0.9zM73.5 562.5h0.9v0.9h-0.9zM106.8 533.7h0.9v0.9h-0.9zM68.5 535.5h0.9v0.9h-0.9zM77.2 564.5h0.9v0.9h-0.9zM74.0 527.0h0.9v0.9h-0.9zM78.0 521.9h0.9v0.9h-0.9zM100.3 534.7h0.9v0.9h-0.9zM73.6 527.2h0.9v0.9h-0.9zM70.5 543.1h0.9v0.9h-0.9zM76.2 563.0h0.9v0.9h-0.9zM71.5 555.8h0.9v0.9h-0.9zM80.3 576.9h0.9v0.9h-0.9zM70.6 526.7h0.9v0.9h-0.9zM97.5 526.3h0.9v0.9h-0.9zM72.0 533.7h0.9v0.9h-0.9zM91.5 573.3h0.9v0.9h-0.9zM100.2 550.7h0.9v0.9h-0.9zM100.3 526.4h0.9v0.9h-0.9zM79.6 573.9h0.9v0.9h-0.9zM79.6 525.8h0.9v0.9h-0.9zM99.6 539.1h0.9v0.9h-0.9zM99.7 538.3h0.9v0.9h-0.9zM68.7 537.7h0.9v0.9h-0.9zM101.9 532.3h0.9v0.9h-0.9zM72.3 558.8h0.9v0.9h-0.9zM103.3 536.4h0.9v0.9h-0.9zM78.2 524.9h0.9v0.9h-0.9zM98.9 556.3h0.9v0.9h-0.9zM91.6 525.4h0.9v0.9h-0.9zM95.9 568.7h0.9v0.9h-0.9zM105.8 545.5h0.9v0.9h-0.9zM108.2 556.0h0.9v0.9h-0.9zM86.2 522.7h0.9v0.9h-0.9zM94.8 564.3h0.9v0.9h-0.9zM65.9 539.1h0.9v0.9h-0.9zM74.2 562.1h0.9v0.9h-0.9zM100.2 525.8h0.9v0.9h-0.9zM82.8 570.8h0.9v0.9h-0.9zM82.8 526.2h0.9v0.9h-0.9zM102.9 536.6h0.9v0.9h-0.9zM100.4 554.8h0.9v0.9h-0.9zM82.3 526.8h0.9v0.9h-0.9zM98.9 556.8h0.9v0.9h-0.9zM89.0 519.5h0.9v0.9h-0.9zM95.3 528.9h0.9v0.9h-0.9zM98.8 567.9h0.9v0.9h-0.9zM98.3 530.3h0.9v0.9h-0.9zM67.1 556.4h0.9v0.9h-0.9zM79.9 566.2h0.9v0.9h-0.9zM101.8 541.0h0.9v0.9h-0.9zM70.5 564.4h0.9v0.9h-0.9zM90.5 572.7h0.9v0.9h-0.9zM78.3 564.1h0.9v0.9h-0.9zM98.6 533.7h0.9v0.9h-0.9zM104.4 543.4h0.9v0.9h-0.9zM71.7 551.5h0.9v0.9h-0.9zM70.2 546.8h0.9v0.9h-0.9zM72.8 533.6h0.9v0.9h-0.9zM93.9 527.7h0.9v0.9h-0.9zM109.5 547.9h0.9v0.9h-0.9zM91.3 518.9h0.9v0.9h-0.9zM104.0 541.5h0.9v0.9h-0.9zM65.7 564.4h0.9v0.9h-0.9zM67.7 556.1h0.9v0.9h-0.9zM102.2 539.7h0.9v0.9h-0.9zM71.1 559.2h0.9v0.9h-0.9zM72.1 564.1h0.9v0.9h-0.9zM95.4 529.4h0.9v0.9h-0.9zM68.1 550.1h0.9v0.9h-0.9zM71.0 519.6h0.9v0.9h-0.9zM81.8 567.8h0.9v0.9h-0.9zM76.0 518.0h0.9v0.9h-0.9zM72.8 565.2h0.9v0.9h-0.9zM89.4 521.0h0.9v0.9h-0.9zM67.9 547.1h0.9v0.9h-0.9zM99.5 535.3h0.9v0.9h-0.9zM68.7 538.9h0.9v0.9h-0.9zM99.3 522.2h0.9v0.9h-0.9zM68.6 555.1h0.9v0.9h-0.9zM75.9 522.3h0.9v0.9h-0.9zM83.4 572.9h0.9v0.9h-0.9zM70.4 533.4h0.9v0.9h-0.9zM76.4 525.3h0.9v0.9h-0.9zM93.1 572.8h0.9v0.9h-0.9zM71.3 540.5h0.9v0.9h-0.9zM100.7 534.7h0.9v0.9h-0.9zM91.3 571.5h0.9v0.9h-0.9zM69.7 547.6h0.9v0.9h-0.9zM92.8 529.6h0.9v0.9h-0.9zM72.1 555.3h0.9v0.9h-0.9zM101.8 550.3h0.9v0.9h-0.9zM68.4 542.2h0.9v0.9h-0.9zM67.8 551.9h0.9v0.9h-0.9zM101.1 535.5h0.9v0.9h-0.9zM77.2 526.8h0.9v0.9h-0.9zM89.3 514.9h0.9v0.9h-0.9zM70.7 568.3h0.9v0.9h-0.9zM98.8 532.0h0.9v0.9h-0.9zM93.0 526.7h0.9v0.9h-0.9zM102.1 560.7h0.9v0.9h-0.9zM76.6 526.4h0.9v0.9h-0.9zM98.9 533.4h0.9v0.9h-0.9zM77.4 530.6h0.9v0.9h-0.9zM102.9 541.6h0.9v0.9h-0.9zM84.5 565.9h0.9v0.9h-0.9zM67.5 530.7h0.9v0.9h-0.9zM69.9 541.4h0.9v0.9h-0.9zM78.9 577.3h0.9v0.9h-0.9zM90.0 514.8h0.9v0.9h-0.9zM66.2 558.3h0.9v0.9h-0.9zM73.6 523.5h0.9v0.9h-0.9zM88.6 525.2h0.9v0.9h-0.9zM82.8 520.1h0.9v0.9h-0.9zM101.2 561.8h0.9v0.9h-0.9zM102.7 554.6h0.9v0.9h-0.9zM93.1 523.7h0.9v0.9h-0.9zM75.4 526.8h0.9v0.9h-0.9zM95.5 564.6h0.9v0.9h-0.9zM96.3 561.9h0.9v0.9h-0.9zM66.8 546.4h0.9v0.9h-0.9zM93.5 568.7h0.9v0.9h-0.9zM101.0 536.0h0.9v0.9h-0.9zM88.6 571.9h0.9v0.9h-0.9zM104.4 536.4h0.9v0.9h-0.9zM80.8 516.3h0.9v0.9h-0.9zM65.4 535.8h0.9v0.9h-0.9zM77.7 526.0h0.9v0.9h-0.9zM79.6 524.7h0.9v0.9h-0.9zM82.3 565.5h0.9v0.9h-0.9zM66.9 547.9h0.9v0.9h-0.9zM101.3 555.7h0.9v0.9h-0.9zM103.9 553.9h0.9v0.9h-0.9zM100.5 538.3h0.9v0.9h-0.9zM99.7 519.3h0.9v0.9h-0.9zM85.8 526.5h0.9v0.9h-0.9zM100.1 561.4h0.9v0.9h-0.9zM73.7 530.0h0.9v0.9h-0.9zM81.4 520.6h0.9v0.9h-0.9zM71.4 555.1h0.9v0.9h-0.9zM73.6 561.8h0.9v0.9h-0.9zM83.4 526.8h0.9v0.9h-0.9zM103.7 547.6h0.9v0.9h-0.9zM71.1 549.7h0.9v0.9h-0.9zM84.9 566.8h0.9v0.9h-0.9zM66.6 555.6h0.9v0.9h-0.9zM66.4 537.0h0.9v0.9h-0.9zM70.4 557.4h0.9v0.9h-0.9zM97.7 529.5h0.9v0.9h-0.9zM98.6 529.5h0.9v0.9h-0.9zM86.4 525.3h0.9v0.9h-0.9zM91.0 519.5h0.9v0.9h-0.9zM69.7 545.9h0.9v0.9h-0.9zM83.7 564.7h0.9v0.9h-0.9zM92.6 523.8h0.9v0.9h-0.9zM98.7 562.3h0.9v0.9h-0.9zM72.7 534.1h0.9v0.9h-0.9zM76.1 531.6h0.9v0.9h-0.9zM96.8 558.8h0.9v0.9h-0.9zM91.7 575.1h0.9v0.9h-0.9zM77.8 526.0h0.9v0.9h-0.9zM98.5 523.6h0.9v0.9h-0.9zM69.6 564.0h0.9v0.9h-0.9zM70.7 541.9h0.9v0.9h-0.9zM81.0 522.9h0.9v0.9h-0.9zM73.3 536.5h0.9v0.9h-0.9zM67.1 552.0h0.9v0.9h-0.9zM75.7 530.1h0.9v0.9h-0.9zM81.2 522.7h0.9v0.9h-0.9zM90.9 523.6h0.9v0.9h-0.9zM71.4 538.2h0.9v0.9h-0.9zM76.0 525.1h0.9v0.9h-0.9zM91.6 569.4h0.9v0.9h-0.9zM99.7 577.6h0.9v0.9h-0.9zM91.2 526.2h0.9v0.9h-0.9zM89.0 575.0h0.9v0.9h-0.9zM71.1 554.3h0.9v0.9h-0.9zM99.9 528.4h0.9v0.9h-0.9zM94.0 561.5h0.9v0.9h-0.9zM76.9 521.2h0.9v0.9h-0.9zM85.7 575.4h0.9v0.9h-0.9zM75.4 531.9h0.9v0.9h-0.9zM91.7 526.9h0.9v0.9h-0.9zM95.6 516.7h0.9v0.9h-0.9zM88.4 523.2h0.9v0.9h-0.9zM70.3 543.6h0.9v0.9h-0.9zM68.5 539.4h0.9v0.9h-0.9zM93.5 566.7h0.9v0.9h-0.9zM106.9 572.6h0.9v0.9h-0.9zM85.3 522.8h0.9v0.9h-0.9zM106.7 555.9h0.9v0.9h-0.9zM101.7 536.0h0.9v0.9h-0.9zM91.6 565.8h0.9v0.9h-0.9zM82.6 525.3h0.9v0.9h-0.9zM70.5 553.1h0.9v0.9h-0.9zM70.6 528.4h0.9v0.9h-0.9zM86.2 524.1h0.9v0.9h-0.9zM80.7 568.0h0.9v0.9h-0.9zM94.4 522.0h0.9v0.9h-0.9zM86.1 520.4h0.9v0.9h-0.9zM71.2 535.1h0.9v0.9h-0.9zM68.4 534.1h0.9v0.9h-0.9zM72.7 561.7h0.9v0.9h-0.9zM100.3 542.0h0.9v0.9h-0.9zM74.6 558.9h0.9v0.9h-0.9zM86.4 567.6h0.9v0.9h-0.9zM63.1 534.2h0.9v0.9h-0.9zM100.3 534.9h0.9v0.9h-0.9zM99.6 536.2h0.9v0.9h-0.9zM70.4 534.9h0.9v0.9h-0.9zM71.5 561.5h0.9v0.9h-0.9zM85.2 525.9h0.9v0.9h-0.9zM71.6 538.5h0.9v0.9h-0.9zM92.5 526.3h0.9v0.9h-0.9zM94.0 525.7h0.9v0.9h-0.9zM79.7 519.9h0.9v0.9h-0.9zM105.5 541.2h0.9v0.9h-0.9zM76.8 529.8h0.9v0.9h-0.9zM100.9 542.6h0.9v0.9h-0.9zM71.2 518.2h0.9v0.9h-0.9zM89.1 570.8h0.9v0.9h-0.9zM74.7 530.5h0.9v0.9h-0.9zM87.5 521.9h0.9v0.9h-0.9zM72.3 555.6h0.9v0.9h-0.9zM93.8 566.3h0.9v0.9h-0.9zM75.9 563.8h0.9v0.9h-0.9zM88.9 522.9h0.9v0.9h-0.9zM90.8 572.6h0.9v0.9h-0.9zM101.2 547.6h0.9v0.9h-0.9zM96.4 531.7h0.9v0.9h-0.9zM101.1 542.1h0.9v0.9h-0.9zM96.3 529.9h0.9v0.9h-0.9zM90.0 527.3h0.9v0.9h-0.9zM83.0 519.0h0.9v0.9h-0.9zM68.8 538.3h0.9v0.9h-0.9zM72.7 521.1h0.9v0.9h-0.9zM85.0 517.3h0.9v0.9h-0.9zM76.5 569.1h0.9v0.9h-0.9zM90.8 571.4h0.9v0.9h-0.9zM78.4 519.3h0.9v0.9h-0.9zM70.9 530.6h0.9v0.9h-0.9zM99.7 544.8h0.9v0.9h-0.9zM67.0 561.2h0.9v0.9h-0.9zM68.4 560.1h0.9v0.9h-0.9zM98.3 563.0h0.9v0.9h-0.9zM100.3 547.9h0.9v0.9h-0.9zM94.8 561.4h0.9v0.9h-0.9zM69.7 531.8h0.9v0.9h-0.9zM100.9 541.1h0.9v0.9h-0.9zM98.1 561.0h0.9v0.9h-0.9zM96.1 569.0h0.9v0.9h-0.9zM77.2 521.0h0.9v0.9h-0.9zM78.8 573.3h0.9v0.9h-0.9zM102.6 553.0h0.9v0.9h-0.9zM97.3 532.2h0.9v0.9h-0.9zM97.6 568.6h0.9v0.9h-0.9zM67.7 556.4h0.9v0.9h-0.9zM85.9 526.3h0.9v0.9h-0.9zM88.2 526.2h0.9v0.9h-0.9zM105.7 538.1h0.9v0.9h-0.9zM72.2 533.9h0.9v0.9h-0.9zM95.9 565.2h0.9v0.9h-0.9zM102.7 559.2h0.9v0.9h-0.9zM74.7 527.3h0.9v0.9h-0.9zM64.0 539.3h0.9v0.9h-0.9zM85.6 573.9h0.9v0.9h-0.9zM96.3 571.1h0.9v0.9h-0.9zM74.1 567.5h0.9v0.9h-0.9zM81.7 567.6h0.9v0.9h-0.9zM73.0 568.4h0.9v0.9h-0.9zM76.1 563.6h0.9v0.9h-0.9zM85.8 523.4h0.9v0.9h-0.9zM68.8 551.7h0.9v0.9h-0.9zM100.0 517.7h0.9v0.9h-0.9zM61.5 545.6h0.9v0.9h-0.9zM80.7 571.3h0.9v0.9h-0.9zM101.5 534.7h0.9v0.9h-0.9zM77.3 530.2h0.9v0.9h-0.9zM97.9 520.2h0.9v0.9h-0.9zM87.2 567.2h0.9v0.9h-0.9zM102.2 542.1h0.9v0.9h-0.9zM75.0 529.6h0.9v0.9h-0.9zM74.2 561.6h0.9v0.9h-0.9zM85.4 570.0h0.9v0.9h-0.9zM100.9 561.2h0.9v0.9h-0.9zM99.5 550.1h0.9v0.9h-0.9zM90.8 566.8h0.9v0.9h-0.9zM80.1 565.0h0.9v0.9h-0.9zM70.1 541.9h0.9v0.9h-0.9zM70.9 561.1h0.9v0.9h-0.9zM101.0 552.3h0.9v0.9h-0.9zM95.0 562.8h0.9v0.9h-0.9zM101.4 548.5h0.9v0.9h-0.9zM102.2 552.0h0.9v0.9h-0.9zM80.6 568.1h0.9v0.9h-0.9zM73.2 525.8h0.9v0.9h-0.9zM98.1 571.1h0.9v0.9h-0.9zM98.2 530.3h0.9v0.9h-0.9zM103.6 544.0h0.9v0.9h-0.9zM72.5 530.2h0.9v0.9h-0.9zM102.3 553.3h0.9v0.9h-0.9zM93.6 570.4h0.9v0.9h-0.9zM67.5 544.3h0.9v0.9h-0.9zM102.3 535.9h0.9v0.9h-0.9zM104.5 543.0h0.9v0.9h-0.9zM84.4 527.3h0.9v0.9h-0.9zM98.6 531.1h0.9v0.9h-0.9zM102.5 562.4h0.9v0.9h-0.9zM64.0 544.7h0.9v0.9h-0.9zM64.3 550.0h0.9v0.9h-0.9zM88.7 566.5h0.9v0.9h-0.9zM72.8 538.5h0.9v0.9h-0.9zM71.9 538.2h0.9v0.9h-0.9zM103.2 541.6h0.9v0.9h-0.9zM106.1 558.7h0.9v0.9h-0.9zM81.0 565.7h0.9v0.9h-0.9zM93.6 566.7h0.9v0.9h-0.9zM89.3 576.5h0.9v0.9h-0.9zM79.4 564.4h0.9v0.9h-0.9zM73.3 564.2h0.9v0.9h-0.9zM99.6 540.7h0.9v0.9h-0.9zM76.8 568.3h0.9v0.9h-0.9zM71.1 548.0h0.9v0.9h-0.9zM95.8 570.2h0.9v0.9h-0.9zM88.6 568.9h0.9v0.9h-0.9zM89.2 570.0h0.9v0.9h-0.9zM69.5 535.8h0.9v0.9h-0.9zM78.8 574.1h0.9v0.9h-0.9zM81.7 575.3h0.9v0.9h-0.9zM70.0 542.8h0.9v0.9h-0.9zM103.0 548.5h0.9v0.9h-0.9zM99.9 523.0h0.9v0.9h-0.9zM98.6 552.0h0.9v0.9h-0.9zM71.5 558.1h0.9v0.9h-0.9zM103.5 544.2h0.9v0.9h-0.9zM94.3 567.4h0.9v0.9h-0.9zM101.6 552.4h0.9v0.9h-0.9zM68.6 548.1h0.9v0.9h-0.9zM73.6 528.4h0.9v0.9h-0.9zM73.4 561.3h0.9v0.9h-0.9zM89.5 575.1h0.9v0.9h-0.9zM78.8 522.4h0.9v0.9h-0.9zM73.4 535.5h0.9v0.9h-0.9zM76.5 563.8h0.9v0.9h-0.9zM72.9 530.5h0.9v0.9h-0.9zM96.9 521.2h0.9v0.9h-0.9zM63.6 543.2h0.9v0.9h-0.9zM69.2 565.1h0.9v0.9h-0.9zM71.0 528.2h0.9v0.9h-0.9zM68.1 545.2h0.9v0.9h-0.9zM100.4 560.7h0.9v0.9h-0.9zM102.1 530.0h0.9v0.9h-0.9zM97.2 562.0h0.9v0.9h-0.9zM84.5 515.5h0.9v0.9h-0.9zM64.6 558.9h0.9v0.9h-0.9zM89.2 521.8h0.9v0.9h-0.9zM69.1 542.7h0.9v0.9h-0.9zM92.1 526.8h0.9v0.9h-0.9zM69.7 550.2h0.9v0.9h-0.9zM85.8 568.5h0.9v0.9h-0.9zM87.7 522.1h0.9v0.9h-0.9zM93.9 524.0h0.9v0.9h-0.9zM64.9 545.5h0.9v0.9h-0.9zM100.8 535.9h0.9v0.9h-0.9zM80.4 520.2h0.9v0.9h-0.9zM104.0 534.5h0.9v0.9h-0.9zM90.4 565.0h0.9v0.9h-0.9zM100.6 538.3h0.9v0.9h-0.9zM87.2 525.0h0.9v0.9h-0.9zM107.3 534.7h0.9v0.9h-0.9zM76.1 563.8h0.9v0.9h-0.9zM66.2 536.2h0.9v0.9h-0.9zM100.9 529.4h0.9v0.9h-0.9zM75.5 520.1h0.9v0.9h-0.9zM80.2 575.4h0.9v0.9h-0.9zM81.7 567.1h0.9v0.9h-0.9zM100.4 538.8h0.9v0.9h-0.9zM77.9 526.5h0.9v0.9h-0.9zM102.9 554.3h0.9v0.9h-0.9zM84.5 570.6h0.9v0.9h-0.9zM66.0 535.9h0.9v0.9h-0.9zM91.3 566.2h0.9v0.9h-0.9zM67.2 551.5h0.9v0.9h-0.9zM77.5 526.7h0.9v0.9h-0.9zM100.9 558.4h0.9v0.9h-0.9zM85.1 568.3h0.9v0.9h-0.9zM97.5 530.6h0.9v0.9h-0.9zM102.6 552.2h0.9v0.9h-0.9zM101.6 564.8h0.9v0.9h-0.9zM93.3 523.1h0.9v0.9h-0.9zM78.2 525.8h0.9v0.9h-0.9zM69.2 550.1h0.9v0.9h-0.9zM96.1 528.2h0.9v0.9h-0.9zM91.4 576.7h0.9v0.9h-0.9zM103.6 546.9h0.9v0.9h-0.9zM92.6 522.3h0.9v0.9h-0.9zM75.1 529.2h0.9v0.9h-0.9zM75.2 569.5h0.9v0.9h-0.9zM72.5 536.2h0.9v0.9h-0.9zM99.7 557.0h0.9v0.9h-0.9zM79.3 566.7h0.9v0.9h-0.9zM72.5 537.8h0.9v0.9h-0.9zM94.8 526.9h0.9v0.9h-0.9zM79.1 565.9h0.9v0.9h-0.9zM104.0 556.2h0.9v0.9h-0.9zM106.3 563.8h0.9v0.9h-0.9zM79.2 569.6h0.9v0.9h-0.9zM74.6 530.7h0.9v0.9h-0.9zM79.8 518.6h0.9v0.9h-0.9zM79.7 524.0h0.9v0.9h-0.9zM99.7 526.4h0.9v0.9h-0.9zM79.5 528.0h0.9v0.9h-0.9zM76.6 523.6h0.9v0.9h-0.9zM72.5 534.0h0.9v0.9h-0.9zM77.8 527.7h0.9v0.9h-0.9zM83.6 524.2h0.9v0.9h-0.9zM101.0 542.8h0.9v0.9h-0.9zM95.6 575.3h0.9v0.9h-0.9zM76.5 530.3h0.9v0.9h-0.9zM98.0 563.1h0.9v0.9h-0.9zM90.2 569.0h0.9v0.9h-0.9zM102.3 534.5h0.9v0.9h-0.9zM69.6 561.0h0.9v0.9h-0.9zM65.1 533.3h0.9v0.9h-0.9zM89.9 570.5h0.9v0.9h-0.9zM65.8 544.3h0.9v0.9h-0.9zM103.9 549.9h0.9v0.9h-0.9zM72.8 536.2h0.9v0.9h-0.9zM100.6 539.8h0.9v0.9h-0.9zM74.9 510.8h0.9v0.9h-0.9zM77.5 527.1h0.9v0.9h-0.9zM65.1 535.9h0.9v0.9h-0.9zM76.1 573.3h0.9v0.9h-0.9zM88.0 522.8h0.9v0.9h-0.9zM74.1 559.3h0.9v0.9h-0.9zM76.7 566.2h0.9v0.9h-0.9zM64.7 537.2h0.9v0.9h-0.9zM107.6 541.1h0.9v0.9h-0.9zM84.1 526.6h0.9v0.9h-0.9zM77.3 523.9h0.9v0.9h-0.9zM99.0 565.4h0.9v0.9h-0.9zM90.7 527.3h0.9v0.9h-0.9zM66.0 560.2h0.9v0.9h-0.9zM70.9 525.0h0.9v0.9h-0.9zM71.0 537.9h0.9v0.9h-0.9zM91.3 510.5h0.9v0.9h-0.9zM99.3 549.9h0.9v0.9h-0.9zM97.9 558.1h0.9v0.9h-0.9zM82.5 566.6h0.9v0.9h-0.9zM89.7 565.0h0.9v0.9h-0.9zM73.8 510.7h0.9v0.9h-0.9zM97.6 561.1h0.9v0.9h-0.9zM101.9 560.9h0.9v0.9h-0.9zM70.4 542.1h0.9v0.9h-0.9zM99.0 554.3h0.9v0.9h-0.9zM89.9 524.5h0.9v0.9h-0.9zM77.9 565.3h0.9v0.9h-0.9zM80.0 568.0h0.9v0.9h-0.9zM72.1 533.0h0.9v0.9h-0.9zM103.7 542.2h0.9v0.9h-0.9zM82.3 567.2h0.9v0.9h-0.9zM88.0 568.6h0.9v0.9h-0.9zM73.7 563.8h0.9v0.9h-0.9zM89.2 518.6h0.9v0.9h-0.9zM100.8 536.6h0.9v0.9h-0.9zM96.1 567.2h0.9v0.9h-0.9zM100.5 549.9h0.9v0.9h-0.9zM77.7 575.3h0.9v0.9h-0.9zM76.9 570.9h0.9v0.9h-0.9zM85.3 526.0h0.9v0.9h-0.9zM77.9 523.4h0.9v0.9h-0.9zM85.2 523.6h0.9v0.9h-0.9zM69.5 563.7h0.9v0.9h-0.9zM69.4 556.7h0.9v0.9h-0.9zM99.1 538.8h0.9v0.9h-0.9zM102.5 553.3h0.9v0.9h-0.9zM100.1 548.7h0.9v0.9h-0.9zM100.7 548.2h0.9v0.9h-0.9zM92.8 523.5h0.9v0.9h-0.9zM69.1 543.5h0.9v0.9h-0.9zM79.4 522.8h0.9v0.9h-0.9zM77.2 529.5h0.9v0.9h-0.9zM92.8 522.0h0.9v0.9h-0.9zM64.9 540.6h0.9v0.9h-0.9zM77.4 566.8h0.9v0.9h-0.9zM100.8 563.9h0.9v0.9h-0.9zM67.9 561.2h0.9v0.9h-0.9zM91.1 567.4h0.9v0.9h-0.9zM98.9 536.7h0.9v0.9h-0.9zM87.2 518.4h0.9v0.9h-0.9zM81.8 568.9h0.9v0.9h-0.9zM67.7 544.2h0.9v0.9h-0.9zM65.7 551.3h0.9v0.9h-0.9zM72.0 531.7h0.9v0.9h-0.9zM101.2 538.5h0.9v0.9h-0.9zM82.9 567.7h0.9v0.9h-0.9zM71.5 529.1h0.9v0.9h-0.9zM69.0 545.4h0.9v0.9h-0.9zM106.0 537.7h0.9v0.9h-0.9zM89.5 573.0h0.9v0.9h-0.9zM75.7 527.9h0.9v0.9h-0.9zM101.3 560.0h0.9v0.9h-0.9zM66.6 538.7h0.9v0.9h-0.9zM103.4 539.6h0.9v0.9h-0.9zM82.2 522.9h0.9v0.9h-0.9zM108.4 552.3h0.9v0.9h-0.9zM104.6 543.3h0.9v0.9h-0.9zM69.2 540.3h0.9v0.9h-0.9zM68.9 533.5h0.9v0.9h-0.9zM108.7 534.6h0.9v0.9h-0.9zM69.8 533.2h0.9v0.9h-0.9zM88.2 565.9h0.9v0.9h-0.9zM73.0 554.2h0.9v0.9h-0.9zM85.4 518.4h0.9v0.9h-0.9zM73.0 559.1h0.9v0.9h-0.9zM95.1 569.6h0.9v0.9h-0.9zM72.1 561.5h0.9v0.9h-0.9zM99.0 560.1h0.9v0.9h-0.9zM100.9 561.4h0.9v0.9h-0.9zM100.6 566.0h0.9v0.9h-0.9zM65.1 544.3h0.9v0.9h-0.9zM78.2 567.1h0.9v0.9h-0.9zM92.3 565.9h0.9v0.9h-0.9zM84.4 524.8h0.9v0.9h-0.9zM72.5 530.8h0.9v0.9h-0.9zM93.1 523.6h0.9v0.9h-0.9zM93.5 563.7h0.9v0.9h-0.9zM74.3 531.5h0.9v0.9h-0.9zM84.3 566.3h0.9v0.9h-0.9zM67.6 546.7h0.9v0.9h-0.9zM68.7 554.2h0.9v0.9h-0.9zM70.3 533.9h0.9v0.9h-0.9zM64.2 532.1h0.9v0.9h-0.9zM105.6 530.4h0.9v0.9h-0.9zM72.4 528.0h0.9v0.9h-0.9zM75.9 563.8h0.9v0.9h-0.9zM90.1 523.7h0.9v0.9h-0.9zM94.6 566.1h0.9v0.9h-0.9zM88.5 520.5h0.9v0.9h-0.9zM72.1 536.3h0.9v0.9h-0.9zM84.5 568.6h0.9v0.9h-0.9zM85.8 523.0h0.9v0.9h-0.9zM100.9 564.5h0.9v0.9h-0.9zM101.9 551.2h0.9v0.9h-0.9zM83.3 568.3h0.9v0.9h-0.9zM67.9 545.3h0.9v0.9h-0.9zM75.9 531.8h0.9v0.9h-0.9zM76.8 574.1h0.9v0.9h-0.9zM71.9 535.8h0.9v0.9h-0.9zM101.2 543.3h0.9v0.9h-0.9zM104.9 545.7h0.9v0.9h-0.9zM81.4 515.4h0.9v0.9h-0.9zM80.3 567.0h0.9v0.9h-0.9zM67.0 549.8h0.9v0.9h-0.9zM91.1 525.8h0.9v0.9h-0.9zM97.5 531.8h0.9v0.9h-0.9zM101.0 539.2h0.9v0.9h-0.9zM72.9 560.8h0.9v0.9h-0.9zM74.6 570.3h0.9v0.9h-0.9zM77.6 564.2h0.9v0.9h-0.9zM88.9 525.3h0.9v0.9h-0.9zM102.7 539.5h0.9v0.9h-0.9zM69.2 536.6h0.9v0.9h-0.9zM71.2 553.3h0.9v0.9h-0.9zM76.6 524.9h0.9v0.9h-0.9zM67.6 559.2h0.9v0.9h-0.9zM68.7 535.1h0.9v0.9h-0.9zM93.0 571.2h0.9v0.9h-0.9zM98.4 558.7h0.9v0.9h-0.9zM70.6 559.8h0.9v0.9h-0.9zM83.5 569.6h0.9v0.9h-0.9zM94.8 564.1h0.9v0.9h-0.9zM100.2 541.5h0.9v0.9h-0.9zM80.7 527.0h0.9v0.9h-0.9zM66.9 567.7h0.9v0.9h-0.9zM99.8 545.0h0.9v0.9h-0.9zM96.9 558.5h0.9v0.9h-0.9zM76.7 562.9h0.9v0.9h-0.9zM97.0 531.8h0.9v0.9h-0.9zM99.7 542.0h0.9v0.9h-0.9zM90.9 518.8h0.9v0.9h-0.9zM94.7 576.1h0.9v0.9h-0.9zM70.0 536.5h0.9v0.9h-0.9zM105.2 559.1h0.9v0.9h-0.9zM98.9 553.8h0.9v0.9h-0.9zM94.8 531.1h0.9v0.9h-0.9zM104.4 546.4h0.9v0.9h-0.9zM102.5 562.4h0.9v0.9h-0.9zM97.4 558.8h0.9v0.9h-0.9zM81.2 522.0h0.9v0.9h-0.9zM71.4 525.7h0.9v0.9h-0.9zM89.4 570.9h0.9v0.9h-0.9zM73.5 556.5h0.9v0.9h-0.9zM108.3 536.1h0.9v0.9h-0.9zM89.3 567.0h0.9v0.9h-0.9zM98.5 554.1h0.9v0.9h-0.9zM75.6 528.0h0.9v0.9h-0.9zM97.3 559.1h0.9v0.9h-0.9zM71.6 538.9h0.9v0.9h-0.9zM84.9 571.4h0.9v0.9h-0.9zM100.7 550.4h0.9v0.9h-0.9zM73.7 520.8h0.9v0.9h-0.9zM85.7 525.6h0.9v0.9h-0.9zM76.9 573.8h0.9v0.9h-0.9zM93.4 562.7h0.9v0.9h-0.9zM101.8 542.7h0.9v0.9h-0.9zM86.1 571.1h0.9v0.9h-0.9zM86.0 574.7h0.9v0.9h-0.9zM73.2 565.1h0.9v0.9h-0.9zM86.7 571.7h0.9v0.9h-0.9zM85.9 567.9h0.9v0.9h-0.9zM101.6 534.6h0.9v0.9h-0.9zM101.4 558.4h0.9v0.9h-0.9zM92.5 529.6h0.9v0.9h-0.9zM71.1 541.6h0.9v0.9h-0.9zM100.7 550.7h0.9v0.9h-0.9zM94.5 563.2h0.9v0.9h-0.9zM77.1 528.7h0.9v0.9h-0.9zM70.8 538.0h0.9v0.9h-0.9zM86.4 569.4h0.9v0.9h-0.9zM81.5 566.7h0.9v0.9h-0.9zM102.1 534.7h0.9v0.9h-0.9zM83.9 517.9h0.9v0.9h-0.9zM76.9 526.9h0.9v0.9h-0.9zM100.9 535.0h0.9v0.9h-0.9zM87.1 565.4h0.9v0.9h-0.9zM75.8 570.4h0.9v0.9h-0.9zM96.2 522.0h0.9v0.9h-0.9zM72.4 553.1h0.9v0.9h-0.9zM62.9 556.9h0.9v0.9h-0.9zM92.5 521.1h0.9v0.9h-0.9zM102.3 545.9h0.9v0.9h-0.9zM103.7 524.6h0.9v0.9h-0.9zM88.5 515.3h0.9v0.9h-0.9zM71.9 552.5h0.9v0.9h-0.9zM81.7 527.5h0.9v0.9h-0.9zM87.8 566.1h0.9v0.9h-0.9zM85.1 570.9h0.9v0.9h-0.9zM92.0 576.3h0.9v0.9h-0.9zM79.5 527.8h0.9v0.9h-0.9zM102.6 538.0h0.9v0.9h-0.9zM86.3 516.6h0.9v0.9h-0.9zM83.8 568.8h0.9v0.9h-0.9zM76.3 526.0h0.9v0.9h-0.9zM73.4 568.9h0.9v0.9h-0.9zM91.9 528.5h0.9v0.9h-0.9zM68.4 548.2h0.9v0.9h-0.9zM85.5 566.6h0.9v0.9h-0.9zM80.8 570.6h0.9v0.9h-0.9zM100.5 558.3h0.9v0.9h-0.9zM76.3 561.1h0.9v0.9h-0.9zM76.1 566.6h0.9v0.9h-0.9zM69.2 552.1h0.9v0.9h-0.9zM75.1 524.2h0.9v0.9h-0.9zM99.1 536.9h0.9v0.9h-0.9zM92.0 526.2h0.9v0.9h-0.9zM69.4 534.9h0.9v0.9h-0.9zM76.1 561.4h0.9v0.9h-0.9zM95.7 571.9h0.9v0.9h-0.9zM70.1 532.3h0.9v0.9h-0.9zM101.7 555.5h0.9v0.9h-0.9zM102.8 554.3h0.9v0.9h-0.9zM72.2 523.2h0.9v0.9h-0.9zM93.5 564.5h0.9v0.9h-0.9zM95.5 526.6h0.9v0.9h-0.9zM75.8 521.6h0.9v0.9h-0.9zM69.5 542.6h0.9v0.9h-0.9zM104.9 534.7h0.9v0.9h-0.9zM100.1 567.9h0.9v0.9h-0.9zM78.6 570.2h0.9v0.9h-0.9zM63.7 544.5h0.9v0.9h-0.9zM102.8 540.7h0.9v0.9h-0.9zM102.4 558.6h0.9v0.9h-0.9zM69.9 529.9h0.9v0.9h-0.9zM99.6 535.2h0.9v0.9h-0.9zM95.1 563.1h0.9v0.9h-0.9zM81.1 525.4h0.9v0.9h-0.9zM78.2 520.4h0.9v0.9h-0.9zM74.6 564.0h0.9v0.9h-0.9zM68.7 540.7h0.9v0.9h-0.9zM99.8 537.5h0.9v0.9h-0.9zM67.4 551.1h0.9v0.9h-0.9zM68.1 552.7h0.9v0.9h-0.9zM69.4 536.5h0.9v0.9h-0.9zM100.9 550.3h0.9v0.9h-0.9zM91.6 524.7h0.9v0.9h-0.9zM99.9 552.6h0.9v0.9h-0.9zM103.7 542.6h0.9v0.9h-0.9zM107.1 540.4h0.9v0.9h-0.9zM93.3 522.5h0.9v0.9h-0.9zM100.0 530.6h0.9v0.9h-0.9zM71.4 528.8h0.9v0.9h-0.9zM78.3 573.2h0.9v0.9h-0.9zM72.8 532.6h0.9v0.9h-0.9zM77.6 523.3h0.9v0.9h-0.9zM94.9 561.9h0.9v0.9h-0.9zM87.7 526.4h0.9v0.9h-0.9zM79.7 568.9h0.9v0.9h-0.9zM69.9 544.3h0.9v0.9h-0.9zM84.0 566.2h0.9v0.9h-0.9zM81.5 572.7h0.9v0.9h-0.9zM97.1 530.3h0.9v0.9h-0.9zM87.3 526.9h0.9v0.9h-0.9zM99.6 554.1h0.9v0.9h-0.9zM87.7 523.8h0.9v0.9h-0.9zM100.5 535.4h0.9v0.9h-0.9zM80.6 523.3h0.9v0.9h-0.9zM80.2 526.7h0.9v0.9h-0.9zM83.6 576.3h0.9v0.9h-0.9zM78.3 516.3h0.9v0.9h-0.9zM69.6 566.9h0.9v0.9h-0.9zM104.2 532.4h0.9v0.9h-0.9zM79.6 518.2h0.9v0.9h-0.9zM77.8 567.5h0.9v0.9h-0.9zM101.7 525.9h0.9v0.9h-0.9zM87.9 524.1h0.9v0.9h-0.9zM92.1 574.9h0.9v0.9h-0.9zM90.2 575.1h0.9v0.9h-0.9zM105.0 548.2h0.9v0.9h-0.9zM88.5 513.6h0.9v0.9h-0.9zM99.2 557.4h0.9v0.9h-0.9zM82.9 568.6h0.9v0.9h-0.9zM84.1 523.1h0.9v0.9h-0.9zM80.2 565.9h0.9v0.9h-0.9zM80.8 574.4h0.9v0.9h-0.9zM103.9 557.2h0.9v0.9h-0.9zM108.6 556.4h0.9v0.9h-0.9zM70.1 535.7h0.9v0.9h-0.9zM94.8 561.3h0.9v0.9h-0.9zM103.3 540.3h0.9v0.9h-0.9zM101.0 549.5h0.9v0.9h-0.9zM79.3 565.4h0.9v0.9h-0.9zM91.9 565.9h0.9v0.9h-0.9zM100.6 530.7h0.9v0.9h-0.9zM85.6 518.5h0.9v0.9h-0.9zM98.7 561.4h0.9v0.9h-0.9zM99.5 553.0h0.9v0.9h-0.9zM106.5 562.7h0.9v0.9h-0.9zM84.3 520.6h0.9v0.9h-0.9zM85.1 515.3h0.9v0.9h-0.9zM75.0 530.0h0.9v0.9h-0.9zM70.5 547.4h0.9v0.9h-0.9zM65.7 552.5h0.9v0.9h-0.9zM74.2 535.3h0.9v0.9h-0.9zM104.5 567.3h0.9v0.9h-0.9zM89.6 526.1h0.9v0.9h-0.9zM89.1 517.7h0.9v0.9h-0.9zM78.5 525.2h0.9v0.9h-0.9zM87.2 572.0h0.9v0.9h-0.9zM89.2 568.9h0.9v0.9h-0.9zM104.9 542.7h0.9v0.9h-0.9zM100.7 539.0h0.9v0.9h-0.9zM85.3 523.1h0.9v0.9h-0.9zM90.0 518.4h0.9v0.9h-0.9zM62.6 554.5h0.9v0.9h-0.9zM97.7 529.6h0.9v0.9h-0.9zM79.6 525.4h0.9v0.9h-0.9zM71.7 553.8h0.9v0.9h-0.9zM78.7 525.5h0.9v0.9h-0.9zM102.2 558.6h0.9v0.9h-0.9zM73.0 559.5h0.9v0.9h-0.9zM94.8 526.8h0.9v0.9h-0.9zM70.1 548.7h0.9v0.9h-0.9zM67.6 536.9h0.9v0.9h-0.9zM72.0 538.5h0.9v0.9h-0.9zM106.7 535.0h0.9v0.9h-0.9zM91.1 570.1h0.9v0.9h-0.9zM77.6 522.2h0.9v0.9h-0.9zM69.7 553.2h0.9v0.9h-0.9zM87.0 568.1h0.9v0.9h-0.9zM102.6 553.4h0.9v0.9h-0.9zM71.4 529.8h0.9v0.9h-0.9zM93.8 572.0h0.9v0.9h-0.9zM67.3 531.7h0.9v0.9h-0.9zM70.8 555.5h0.9v0.9h-0.9zM72.6 558.0h0.9v0.9h-0.9zM103.9 524.4h0.9v0.9h-0.9zM98.2 557.1h0.9v0.9h-0.9zM69.3 537.0h0.9v0.9h-0.9zM73.1 556.2h0.9v0.9h-0.9zM97.0 568.3h0.9v0.9h-0.9zM71.8 560.6h0.9v0.9h-0.9zM96.0 529.9h0.9v0.9h-0.9zM90.5 566.3h0.9v0.9h-0.9zM78.4 525.2h0.9v0.9h-0.9zM83.1 574.2h0.9v0.9h-0.9zM63.0 542.2h0.9v0.9h-0.9zM72.2 539.9h0.9v0.9h-0.9zM100.8 556.2h0.9v0.9h-0.9zM91.1 525.9h0.9v0.9h-0.9zM68.4 568.6h0.9v0.9h-0.9zM90.1 570.5h0.9v0.9h-0.9zM90.1 569.5h0.9v0.9h-0.9zM101.7 543.9h0.9v0.9h-0.9zM101.1 538.0h0.9v0.9h-0.9zM64.1 551.8h0.9v0.9h-0.9zM83.3 569.6h0.9v0.9h-0.9zM79.7 516.4h0.9v0.9h-0.9zM103.9 554.7h0.9v0.9h-0.9zM95.3 529.4h0.9v0.9h-0.9zM99.9 546.7h0.9v0.9h-0.9zM100.1 552.5h0.9v0.9h-0.9zM78.0 563.7h0.9v0.9h-0.9zM62.4 555.0h0.9v0.9h-0.9zM102.1 546.8h0.9v0.9h-0.9zM81.0 573.0h0.9v0.9h-0.9zM103.2 543.5h0.9v0.9h-0.9zM88.1 522.3h0.9v0.9h-0.9zM100.6 554.0h0.9v0.9h-0.9zM98.1 529.0h0.9v0.9h-0.9zM67.1 551.5h0.9v0.9h-0.9zM105.8 544.1h0.9v0.9h-0.9zM79.6 563.2h0.9v0.9h-0.9zM79.6 566.8h0.9v0.9h-0.9zM79.0 527.2h0.9v0.9h-0.9zM69.3 547.7h0.9v0.9h-0.9zM82.2 573.5h0.9v0.9h-0.9zM68.4 542.3h0.9v0.9h-0.9zM73.3 526.4h0.9v0.9h-0.9zM74.9 581.2h0.9v0.9h-0.9zM93.2 525.0h0.9v0.9h-0.9zM85.3 518.5h0.9v0.9h-0.9zM85.9 514.9h0.9v0.9h-0.9zM77.6 528.7h0.9v0.9h-0.9zM88.2 575.6h0.9v0.9h-0.9zM80.9 523.7h0.9v0.9h-0.9zM93.2 566.7h0.9v0.9h-0.9zM99.9 570.6h0.9v0.9h-0.9zM67.6 545.4h0.9v0.9h-0.9zM94.2 568.7h0.9v0.9h-0.9zM99.5 565.9h0.9v0.9h-0.9zM69.8 531.8h0.9v0.9h-0.9zM103.7 542.1h0.9v0.9h-0.9zM109.9 558.2h0.9v0.9h-0.9zM66.7 555.5h0.9v0.9h-0.9zM98.7 557.6h0.9v0.9h-0.9zM66.7 539.5h0.9v0.9h-0.9zM66.6 532.8h0.9v0.9h-0.9zM67.8 547.5h0.9v0.9h-0.9zM102.8 552.0h0.9v0.9h-0.9zM80.8 525.7h0.9v0.9h-0.9zM71.7 545.1h0.9v0.9h-0.9zM71.4 536.4h0.9v0.9h-0.9zM74.3 518.7h0.9v0.9h-0.9zM101.6 531.1h0.9v0.9h-0.9zM67.7 556.7h0.9v0.9h-0.9zM98.8 534.8h0.9v0.9h-0.9zM91.7 563.0h0.9v0.9h-0.9zM69.4 552.6h0.9v0.9h-0.9zM94.4 570.9h0.9v0.9h-0.9zM74.4 561.8h0.9v0.9h-0.9zM97.3 534.7h0.9v0.9h-0.9zM102.5 542.3h0.9v0.9h-0.9zM65.3 550.9h0.9v0.9h-0.9zM82.6 570.1h0.9v0.9h-0.9zM78.7 565.2h0.9v0.9h-0.9zM98.8 533.0h0.9v0.9h-0.9zM70.9 554.2h0.9v0.9h-0.9zM91.5 570.5h0.9v0.9h-0.9zM93.7 526.9h0.9v0.9h-0.9zM69.9 544.6h0.9v0.9h-0.9zM69.5 556.8h0.9v0.9h-0.9zM98.4 533.6h0.9v0.9h-0.9zM85.1 524.9h0.9v0.9h-0.9zM102.9 548.2h0.9v0.9h-0.9zM106.1 539.9h0.9v0.9h-0.9zM67.2 553.4h0.9v0.9h-0.9zM94.2 571.3h0.9v0.9h-0.9zM101.3 532.2h0.9v0.9h-0.9zM73.0 555.6h0.9v0.9h-0.9zM78.2 522.8h0.9v0.9h-0.9zM85.6 526.9h0.9v0.9h-0.9zM91.5 569.0h0.9v0.9h-0.9zM104.1 543.3h0.9v0.9h-0.9zM71.8 538.1h0.9v0.9h-0.9zM98.8 552.9h0.9v0.9h-0.9zM71.5 541.5h0.9v0.9h-0.9zM104.0 549.0h0.9v0.9h-0.9zM102.6 542.9h0.9v0.9h-0.9zM77.9 528.0h0.9v0.9h-0.9zM70.5 565.6h0.9v0.9h-0.9zM90.6 523.8h0.9v0.9h-0.9zM89.9 524.6h0.9v0.9h-0.9zM78.8 517.1h0.9v0.9h-0.9zM86.9 567.3h0.9v0.9h-0.9zM97.4 556.8h0.9v0.9h-0.9zM98.0 524.1h0.9v0.9h-0.9zM96.7 533.0h0.9v0.9h-0.9zM77.1 562.9h0.9v0.9h-0.9zM73.4 560.5h0.9v0.9h-0.9zM68.3 562.5h0.9v0.9h-0.9zM82.2 572.7h0.9v0.9h-0.9zM99.9 537.9h0.9v0.9h-0.9zM70.7 541.9h0.9v0.9h-0.9zM81.0 522.0h0.9v0.9h-0.9zM73.1 532.6h0.9v0.9h-0.9zM103.1 561.4h0.9v0.9h-0.9zM100.3 555.9h0.9v0.9h-0.9zM96.1 565.5h0.9v0.9h-0.9zM69.0 546.4h0.9v0.9h-0.9zM71.5 526.0h0.9v0.9h-0.9zM108.3 545.2h0.9v0.9h-0.9zM98.4 533.2h0.9v0.9h-0.9zM84.2 520.8h0.9v0.9h-0.9zM74.2 560.0h0.9v0.9h-0.9zM75.9 565.6h0.9v0.9h-0.9zM80.3 525.2h0.9v0.9h-0.9zM77.0 563.1h0.9v0.9h-0.9zM87.1 524.0h0.9v0.9h-0.9zM83.4 524.8h0.9v0.9h-0.9zM98.7 563.1h0.9v0.9h-0.9zM91.7 521.8h0.9v0.9h-0.9zM100.5 559.8h0.9v0.9h-0.9zM77.7 569.7h0.9v0.9h-0.9zM114.0 539.8h0.9v0.9h-0.9zM75.1 525.9h0.9v0.9h-0.9zM95.1 529.2h0.9v0.9h-0.9zM99.7 536.3h0.9v0.9h-0.9zM83.6 573.8h0.9v0.9h-0.9zM91.3 518.8h0.9v0.9h-0.9zM74.7 561.5h0.9v0.9h-0.9zM101.7 555.7h0.9v0.9h-0.9zM96.9 558.5h0.9v0.9h-0.9zM97.4 562.7h0.9v0.9h-0.9zM74.1 528.9h0.9v0.9h-0.9zM75.1 528.3h0.9v0.9h-0.9zM94.3 528.8h0.9v0.9h-0.9zM79.6 574.0h0.9v0.9h-0.9zM86.9 521.6h0.9v0.9h-0.9zM84.0 565.0h0.9v0.9h-0.9zM78.2 570.0h0.9v0.9h-0.9zM74.5 523.3h0.9v0.9h-0.9zM70.6 562.5h0.9v0.9h-0.9zM107.2 545.6h0.9v0.9h-0.9zM77.5 570.7h0.9v0.9h-0.9zM86.9 570.2h0.9v0.9h-0.9zM97.2 530.7h0.9v0.9h-0.9zM98.9 527.1h0.9v0.9h-0.9zM93.6 564.3h0.9v0.9h-0.9zM75.5 568.4h0.9v0.9h-0.9zM70.1 544.6h0.9v0.9h-0.9zM106.6 558.9h0.9v0.9h-0.9zM71.2 566.8h0.9v0.9h-0.9zM87.5 523.9h0.9v0.9h-0.9zM87.1 527.0h0.9v0.9h-0.9zM95.0 563.7h0.9v0.9h-0.9zM80.4 566.0h0.9v0.9h-0.9zM83.7 567.0h0.9v0.9h-0.9zM78.1 522.6h0.9v0.9h-0.9zM97.5 564.0h0.9v0.9h-0.9zM105.0 543.6h0.9v0.9h-0.9zM101.2 565.4h0.9v0.9h-0.9zM66.6 541.2h0.9v0.9h-0.9zM80.5 523.2h0.9v0.9h-0.9zM99.3 539.6h0.9v0.9h-0.9zM71.3 528.9h0.9v0.9h-0.9zM94.9 529.4h0.9v0.9h-0.9zM67.0 541.0h0.9v0.9h-0.9zM88.4 567.6h0.9v0.9h-0.9zM69.6 557.9h0.9v0.9h-0.9zM72.6 531.9h0.9v0.9h-0.9zM62.9 539.9h0.9v0.9h-0.9zM88.8 524.3h0.9v0.9h-0.9zM65.5 539.0h0.9v0.9h-0.9zM73.7 560.7h0.9v0.9h-0.9zM70.8 544.1h0.9v0.9h-0.9zM68.2 543.1h0.9v0.9h-0.9zM101.6 547.4h0.9v0.9h-0.9zM76.2 569.9h0.9v0.9h-0.9zM66.7 533.2h0.9v0.9h-0.9zM81.5 523.0h0.9v0.9h-0.9zM66.2 559.0h0.9v0.9h-0.9zM85.0 517.9h0.9v0.9h-0.9zM69.9 545.5h0.9v0.9h-0.9zM74.9 561.6h0.9v0.9h-0.9zM86.2 566.5h0.9v0.9h-0.9zM90.7 522.7h0.9v0.9h-0.9zM100.0 535.3h0.9v0.9h-0.9zM83.6 525.4h0.9v0.9h-0.9zM88.3 566.8h0.9v0.9h-0.9zM80.5 521.6h0.9v0.9h-0.9zM66.4 545.2h0.9v0.9h-0.9zM102.5 534.0h0.9v0.9h-0.9zM102.3 546.9h0.9v0.9h-0.9zM87.8 524.6h0.9v0.9h-0.9zM64.2 552.3h0.9v0.9h-0.9zM96.7 526.2h0.9v0.9h-0.9zM71.2 530.6h0.9v0.9h-0.9zM100.7 547.0h0.9v0.9h-0.9zM79.4 524.0h0.9v0.9h-0.9zM65.9 540.3h0.9v0.9h-0.9zM86.6 568.5h0.9v0.9h-0.9zM99.3 564.3h0.9v0.9h-0.9zM72.3 559.6h0.9v0.9h-0.9zM64.7 534.5h0.9v0.9h-0.9zM68.6 549.2h0.9v0.9h-0.9zM102.0 548.4h0.9v0.9h-0.9zM95.9 565.1h0.9v0.9h-0.9zM78.3 524.5h0.9v0.9h-0.9zM69.5 539.5h0.9v0.9h-0.9zM84.7 521.1h0.9v0.9h-0.9zM72.4 556.8h0.9v0.9h-0.9zM84.9 566.1h0.9v0.9h-0.9zM91.5 519.7h0.9v0.9h-0.9zM89.0 569.5h0.9v0.9h-0.9zM100.6 554.4h0.9v0.9h-0.9zM74.1 563.1h0.9v0.9h-0.9zM71.6 552.1h0.9v0.9h-0.9zM89.6 567.7h0.9v0.9h-0.9zM106.3 537.8h0.9v0.9h-0.9zM88.4 579.9h0.9v0.9h-0.9zM95.9 559.8h0.9v0.9h-0.9zM77.2 527.5h0.9v0.9h-0.9zM97.3 566.5h0.9v0.9h-0.9zM82.0 571.3h0.9v0.9h-0.9zM71.2 557.9h0.9v0.9h-0.9zM82.7 571.9h0.9v0.9h-0.9zM76.1 527.1h0.9v0.9h-0.9zM99.4 569.2h0.9v0.9h-0.9zM76.0 529.3h0.9v0.9h-0.9zM100.3 564.2h0.9v0.9h-0.9zM69.1 533.5h0.9v0.9h-0.9zM102.5 542.9h0.9v0.9h-0.9zM90.6 516.4h0.9v0.9h-0.9zM99.6 539.2h0.9v0.9h-0.9zM67.5 538.6h0.9v0.9h-0.9zM93.8 563.6h0.9v0.9h-0.9zM72.0 565.8h0.9v0.9h-0.9zM88.3 522.6h0.9v0.9h-0.9zM99.5 567.0h0.9v0.9h-0.9zM77.5 527.5h0.9v0.9h-0.9zM77.4 568.8h0.9v0.9h-0.9zM101.6 533.4h0.9v0.9h-0.9zM76.0 563.8h0.9v0.9h-0.9zM74.3 577.4h0.9v0.9h-0.9zM82.7 573.3h0.9v0.9h-0.9zM65.4 538.9h0.9v0.9h-0.9zM104.6 537.9h0.9v0.9h-0.9zM64.5 538.5h0.9v0.9h-0.9zM84.3 516.7h0.9v0.9h-0.9zM68.1 542.9h0.9v0.9h-0.9zM102.7 559.6h0.9v0.9h-0.9zM70.8 533.7h0.9v0.9h-0.9zM72.4 533.8h0.9v0.9h-0.9zM70.6 531.8h0.9v0.9h-0.9zM80.8 566.7h0.9v0.9h-0.9zM83.7 569.2h0.9v0.9h-0.9zM78.1 564.7h0.9v0.9h-0.9zM105.4 551.4h0.9v0.9h-0.9zM95.1 567.2h0.9v0.9h-0.9zM80.3 576.4h0.9v0.9h-0.9zM70.0 544.3h0.9v0.9h-0.9zM100.7 532.9h0.9v0.9h-0.9zM80.5 524.2h0.9v0.9h-0.9zM69.8 543.8h0.9v0.9h-0.9zM81.0 517.0h0.9v0.9h-0.9zM70.1 553.7h0.9v0.9h-0.9zM104.2 553.9h0.9v0.9h-0.9zM78.2 522.3h0.9v0.9h-0.9zM80.8 523.3h0.9v0.9h-0.9zM75.9 526.5h0.9v0.9h-0.9zM95.8 527.0h0.9v0.9h-0.9zM88.6 524.8h0.9v0.9h-0.9zM96.1 519.1h0.9v0.9h-0.9zM100.2 552.0h0.9v0.9h-0.9zM104.0 546.0h0.9v0.9h-0.9zM68.5 531.5h0.9v0.9h-0.9zM70.9 532.7h0.9v0.9h-0.9zM73.2 531.3h0.9v0.9h-0.9zM83.6 566.3h0.9v0.9h-0.9zM79.0 572.0h0.9v0.9h-0.9zM96.3 531.4h0.9v0.9h-0.9zM72.2 532.6h0.9v0.9h-0.9zM100.8 540.7h0.9v0.9h-0.9zM89.3 565.7h0.9v0.9h-0.9zM71.4 534.4h0.9v0.9h-0.9zM70.7 531.2h0.9v0.9h-0.9zM103.5 551.9h0.9v0.9h-0.9zM73.5 529.3h0.9v0.9h-0.9zM69.8 565.3h0.9v0.9h-0.9zM70.6 555.7h0.9v0.9h-0.9zM92.0 567.0h0.9v0.9h-0.9zM64.9 526.8h0.9v0.9h-0.9zM77.9 525.9h0.9v0.9h-0.9zM98.5 531.5h0.9v0.9h-0.9zM95.1 525.5h0.9v0.9h-0.9zM103.8 542.8h0.9v0.9h-0.9zM108.3 541.2h0.9v0.9h-0.9zM79.5 520.0h0.9v0.9h-0.9zM82.5 567.5h0.9v0.9h-0.9zM64.8 538.6h0.9v0.9h-0.9zM102.3 559.4h0.9v0.9h-0.9zM67.5 535.0h0.9v0.9h-0.9zM76.8 578.8h0.9v0.9h-0.9zM68.8 540.6h0.9v0.9h-0.9zM85.5 524.9h0.9v0.9h-0.9zM103.5 555.9h0.9v0.9h-0.9zM95.9 531.8h0.9v0.9h-0.9zM105.8 552.8h0.9v0.9h-0.9zM71.9 547.2h0.9v0.9h-0.9zM89.2 571.4h0.9v0.9h-0.9zM100.4 551.1h0.9v0.9h-0.9zM70.5 548.7h0.9v0.9h-0.9zM83.9 574.5h0.9v0.9h-0.9zM100.3 557.3h0.9v0.9h-0.9zM93.7 523.7h0.9v0.9h-0.9zM85.9 566.8h0.9v0.9h-0.9zM100.4 537.6h0.9v0.9h-0.9zM74.1 533.2h0.9v0.9h-0.9zM75.8 563.3h0.9v0.9h-0.9zM98.9 553.4h0.9v0.9h-0.9zM96.1 527.2h0.9v0.9h-0.9zM97.9 559.9h0.9v0.9h-0.9zM88.1 524.2h0.9v0.9h-0.9zM69.9 542.1h0.9v0.9h-0.9zM67.2 553.3h0.9v0.9h-0.9zM100.3 557.3h0.9v0.9h-0.9zM70.9 557.0h0.9v0.9h-0.9zM101.0 548.2h0.9v0.9h-0.9zM86.8 524.0h0.9v0.9h-0.9zM81.3 525.2h0.9v0.9h-0.9zM97.2 564.6h0.9v0.9h-0.9zM71.3 544.8h0.9v0.9h-0.9zM94.5 571.6h0.9v0.9h-0.9zM79.5 512.1h0.9v0.9h-0.9zM91.1 565.3h0.9v0.9h-0.9zM95.2 571.4h0.9v0.9h-0.9zM81.5 571.2h0.9v0.9h-0.9zM104.0 541.4h0.9v0.9h-0.9zM92.6 524.7h0.9v0.9h-0.9zM69.2 561.6h0.9v0.9h-0.9zM90.2 523.5h0.9v0.9h-0.9zM75.1 563.0h0.9v0.9h-0.9zM92.7 569.9h0.9v0.9h-0.9zM101.5 529.3h0.9v0.9h-0.9zM102.1 551.4h0.9v0.9h-0.9zM90.1 523.1h0.9v0.9h-0.9zM101.7 540.2h0.9v0.9h-0.9zM104.4 561.2h0.9v0.9h-0.9zM95.0 529.9h0.9v0.9h-0.9zM88.7 523.0h0.9v0.9h-0.9zM99.2 551.1h0.9v0.9h-0.9zM72.2 552.7h0.9v0.9h-0.9zM84.4 568.9h0.9v0.9h-0.9zM71.0 563.8h0.9v0.9h-0.9zM68.2 568.0h0.9v0.9h-0.9zM68.7 564.1h0.9v0.9h-0.9zM101.0 547.3h0.9v0.9h-0.9zM83.3 568.6h0.9v0.9h-0.9zM81.5 567.7h0.9v0.9h-0.9zM74.2 524.7h0.9v0.9h-0.9zM80.7 527.4h0.9v0.9h-0.9zM85.5 523.4h0.9v0.9h-0.9zM72.7 525.5h0.9v0.9h-0.9zM97.2 533.3h0.9v0.9h-0.9zM69.9 538.1h0.9v0.9h-0.9zM78.5 568.8h0.9v0.9h-0.9zM103.5 552.4h0.9v0.9h-0.9zM82.6 519.1h0.9v0.9h-0.9zM70.1 537.2h0.9v0.9h-0.9zM94.1 565.7h0.9v0.9h-0.9zM70.0 544.5h0.9v0.9h-0.9zM98.8 539.3h0.9v0.9h-0.9zM72.9 532.5h0.9v0.9h-0.9zM78.5 570.8h0.9v0.9h-0.9zM92.0 521.9h0.9v0.9h-0.9zM70.4 562.2h0.9v0.9h-0.9zM100.3 547.9h0.9v0.9h-0.9zM100.7 557.5h0.9v0.9h-0.9zM103.3 540.0h0.9v0.9h-0.9zM99.5 558.9h0.9v0.9h-0.9zM88.8 524.4h0.9v0.9h-0.9zM107.0 551.8h0.9v0.9h-0.9zM64.6 561.0h0.9v0.9h-0.9zM82.0 569.5h0.9v0.9h-0.9zM75.4 566.8h0.9v0.9h-0.9zM104.0 562.4h0.9v0.9h-0.9zM67.1 564.0h0.9v0.9h-0.9zM86.4 523.6h0.9v0.9h-0.9zM68.0 542.2h0.9v0.9h-0.9zM100.2 568.2h0.9v0.9h-0.9zM94.1 513.5h0.9v0.9h-0.9zM95.6 531.4h0.9v0.9h-0.9zM70.3 551.9h0.9v0.9h-0.9zM75.2 563.4h0.9v0.9h-0.9zM102.0 548.6h0.9v0.9h-0.9zM104.0 558.1h0.9v0.9h-0.9zM70.1 567.2h0.9v0.9h-0.9zM101.0 564.4h0.9v0.9h-0.9zM100.4 542.0h0.9v0.9h-0.9zM74.6 526.9h0.9v0.9h-0.9zM77.9 571.2h0.9v0.9h-0.9zM66.6 530.6h0.9v0.9h-0.9zM94.2 567.2h0.9v0.9h-0.9zM98.1 536.1h0.9v0.9h-0.9zM68.4 545.9h0.9v0.9h-0.9zM79.3 520.1h0.9v0.9h-0.9zM91.7 564.7h0.9v0.9h-0.9zM61.1 551.6h0.9v0.9h-0.9zM82.0 524.9h0.9v0.9h-0.9zM74.3 559.2h0.9v0.9h-0.9zM103.1 556.5h0.9v0.9h-0.9zM68.7 550.6h0.9v0.9h-0.9zM92.3 527.3h0.9v0.9h-0.9zM68.8 551.6h0.9v0.9h-0.9zM103.0 542.9h0.9v0.9h-0.9zM67.7 536.3h0.9v0.9h-0.9zM98.6 529.6h0.9v0.9h-0.9zM106.5 552.0h0.9v0.9h-0.9zM75.1 530.4h0.9v0.9h-0.9zM64.3 544.1h0.9v0.9h-0.9zM70.8 571.2h0.9v0.9h-0.9zM103.2 528.7h0.9v0.9h-0.9zM101.5 560.4h0.9v0.9h-0.9zM69.4 548.0h0.9v0.9h-0.9zM79.8 567.1h0.9v0.9h-0.9zM103.3 539.7h0.9v0.9h-0.9zM88.3 527.0h0.9v0.9h-0.9zM90.7 568.4h0.9v0.9h-0.9zM97.7 563.4h0.9v0.9h-0.9zM104.9 550.0h0.9v0.9h-0.9zM93.7 569.9h0.9v0.9h-0.9zM98.1 537.7h0.9v0.9h-0.9zM100.6 524.6h0.9v0.9h-0.9zM90.8 523.3h0.9v0.9h-0.9zM72.1 559.4h0.9v0.9h-0.9zM68.0 548.8h0.9v0.9h-0.9zM70.5 535.4h0.9v0.9h-0.9zM91.8 524.0h0.9v0.9h-0.9zM101.0 546.6h0.9v0.9h-0.9zM93.5 569.9h0.9v0.9h-0.9zM63.8 529.2h0.9v0.9h-0.9zM95.5 562.9h0.9v0.9h-0.9zM100.9 537.3h0.9v0.9h-0.9zM105.8 554.1h0.9v0.9h-0.9zM105.7 541.3h0.9v0.9h-0.9zM89.5 570.4h0.9v0.9h-0.9zM92.2 571.1h0.9v0.9h-0.9zM69.5 557.3h0.9v0.9h-0.9zM75.1 529.2h0.9v0.9h-0.9zM102.1 543.0h0.9v0.9h-0.9zM69.0 549.4h0.9v0.9h-0.9zM100.6 530.5h0.9v0.9h-0.9zM97.4 532.5h0.9v0.9h-0.9zM103.3 543.6h0.9v0.9h-0.9zM74.8 563.8h0.9v0.9h-0.9zM61.2 551.4h0.9v0.9h-0.9zM103.5 549.4h0.9v0.9h-0.9zM74.7 559.4h0.9v0.9h-0.9zM73.7 567.3h0.9v0.9h-0.9zM100.4 566.4h0.9v0.9h-0.9zM96.4 519.5h0.9v0.9h-0.9zM81.3 577.2h0.9v0.9h-0.9zM97.9 564.4h0.9v0.9h-0.9zM100.4 564.2h0.9v0.9h-0.9zM99.5 549.0h0.9v0.9h-0.9zM86.2 518.3h0.9v0.9h-0.9zM70.9 541.9h0.9v0.9h-0.9zM69.6 542.7h0.9v0.9h-0.9zM71.1 557.9h0.9v0.9h-0.9zM104.6 539.9h0.9v0.9h-0.9zM71.7 564.4h0.9v0.9h-0.9zM70.2 549.4h0.9v0.9h-0.9zM79.2 524.2h0.9v0.9h-0.9zM100.7 536.0h0.9v0.9h-0.9zM97.6 525.4h0.9v0.9h-0.9zM98.4 529.5h0.9v0.9h-0.9zM92.7 568.4h0.9v0.9h-0.9zM101.3 538.1h0.9v0.9h-0.9zM93.7 523.5h0.9v0.9h-0.9zM75.2 572.0h0.9v0.9h-0.9zM91.8 522.1h0.9v0.9h-0.9zM106.5 537.2h0.9v0.9h-0.9zM84.9 525.3h0.9v0.9h-0.9zM84.1 519.5h0.9v0.9h-0.9zM97.6 519.2h0.9v0.9h-0.9zM95.5 532.8h0.9v0.9h-0.9zM88.6 524.4h0.9v0.9h-0.9zM104.2 559.7h0.9v0.9h-0.9zM91.4 576.9h0.9v0.9h-0.9zM97.2 561.3h0.9v0.9h-0.9zM67.9 551.3h0.9v0.9h-0.9zM102.0 555.9h0.9v0.9h-0.9zM69.7 538.8h0.9v0.9h-0.9zM101.4 534.7h0.9v0.9h-0.9zM107.4 542.5h0.9v0.9h-0.9zM100.8 551.1h0.9v0.9h-0.9zM79.4 527.4h0.9v0.9h-0.9zM95.5 563.3h0.9v0.9h-0.9zM95.8 529.3h0.9v0.9h-0.9zM103.6 550.9h0.9v0.9h-0.9zM99.6 560.8h0.9v0.9h-0.9zM76.4 571.2h0.9v0.9h-0.9zM101.0 546.7h0.9v0.9h-0.9zM74.6 521.5h0.9v0.9h-0.9zM89.3 564.4h0.9v0.9h-0.9zM81.4 516.4h0.9v0.9h-0.9zM102.3 538.4h0.9v0.9h-0.9zM67.3 550.7h0.9v0.9h-0.9zM61.2 552.4h0.9v0.9h-0.9zM101.5 545.5h0.9v0.9h-0.9zM78.0 570.4h0.9v0.9h-0.9zM98.0 531.0h0.9v0.9h-0.9zM79.8 512.4h0.9v0.9h-0.9zM103.2 547.4h0.9v0.9h-0.9zM79.2 574.3h0.9v0.9h-0.9zM82.5 523.7h0.9v0.9h-0.9zM105.6 554.1h0.9v0.9h-0.9zM98.8 523.0h0.9v0.9h-0.9zM100.8 533.0h0.9v0.9h-0.9zM86.4 524.9h0.9v0.9h-0.9zM92.3 522.9h0.9v0.9h-0.9zM71.5 532.5h0.9v0.9h-0.9zM91.4 524.9h0.9v0.9h-0.9zM62.4 552.6h0.9v0.9h-0.9zM71.4 558.6h0.9v0.9h-0.9zM80.7 524.4h0.9v0.9h-0.9zM67.5 551.5h0.9v0.9h-0.9zM78.1 571.3h0.9v0.9h-0.9zM84.0 568.0h0.9v0.9h-0.9zM68.6 555.7h0.9v0.9h-0.9zM73.2 561.5h0.9v0.9h-0.9zM85.9 523.1h0.9v0.9h-0.9zM89.7 519.3h0.9v0.9h-0.9zM90.5 523.9h0.9v0.9h-0.9zM95.5 525.6h0.9v0.9h-0.9zM70.1 571.0h0.9v0.9h-0.9zM72.6 565.0h0.9v0.9h-0.9zM95.2 524.3h0.9v0.9h-0.9zM96.6 578.6h0.9v0.9h-0.9zM79.9 521.1h0.9v0.9h-0.9zM65.9 541.8h0.9v0.9h-0.9zM78.0 528.1h0.9v0.9h-0.9zM80.3 525.2h0.9v0.9h-0.9zM76.9 524.8h0.9v0.9h-0.9zM86.8 564.9h0.9v0.9h-0.9zM106.5 550.3h0.9v0.9h-0.9zM100.5 539.6h0.9v0.9h-0.9zM99.2 531.9h0.9v0.9h-0.9zM64.2 545.1h0.9v0.9h-0.9zM77.3 528.0h0.9v0.9h-0.9zM98.2 557.3h0.9v0.9h-0.9zM69.2 552.0h0.9v0.9h-0.9zM69.6 532.5h0.9v0.9h-0.9zM80.8 526.0h0.9v0.9h-0.9zM89.1 571.5h0.9v0.9h-0.9zM98.6 557.9h0.9v0.9h-0.9zM102.4 540.2h0.9v0.9h-0.9zM95.5 526.6h0.9v0.9h-0.9zM94.1 570.5h0.9v0.9h-0.9zM92.3 526.9h0.9v0.9h-0.9zM91.4 526.2h0.9v0.9h-0.9zM92.8 568.0h0.9v0.9h-0.9zM90.2 527.7h0.9v0.9h-0.9zM72.3 562.6h0.9v0.9h-0.9zM77.5 564.8h0.9v0.9h-0.9zM95.0 566.9h0.9v0.9h-0.9zM70.4 532.5h0.9v0.9h-0.9zM72.9 531.0h0.9v0.9h-0.9zM69.5 544.4h0.9v0.9h-0.9zM101.0 561.5h0.9v0.9h-0.9zM91.4 518.6h0.9v0.9h-0.9zM79.1 565.9h0.9v0.9h-0.9zM83.9 569.6h0.9v0.9h-0.9zM72.1 523.4h0.9v0.9h-0.9zM91.9 566.5h0.9v0.9h-0.9zM99.6 533.7h0.9v0.9h-0.9zM74.5 525.6h0.9v0.9h-0.9zM89.0 526.7h0.9v0.9h-0.9zM76.1 566.2h0.9v0.9h-0.9zM66.8 558.4h0.9v0.9h-0.9zM85.3 570.7h0.9v0.9h-0.9zM85.4 576.4h0.9v0.9h-0.9zM69.9 558.7h0.9v0.9h-0.9zM89.7 521.3h0.9v0.9h-0.9z" fill="#8d8985"/>
<text x="77.80" y="497.20" font-size="7.9" text-anchor="end" fill="#1a1a1a">3</text>
<text x="77.80" y="515.00" font-size="7.9" text-anchor="end" fill="#1a1a1a">2</text>
<text x="77.80" y="586.20" font-size="7.9" text-anchor="end" fill="#1a1a1a">-2</text>
<text x="77.80" y="604.00" font-size="7.9" text-anchor="end" fill="#1a1a1a">-3</text>
<text x="29.90" y="561.30" font-size="7.9" text-anchor="middle" fill="#1a1a1a">-3</text>
<text x="47.60" y="561.30" font-size="7.9" text-anchor="middle" fill="#1a1a1a">-2</text>
<text x="119.20" y="561.30" font-size="7.9" text-anchor="middle" fill="#1a1a1a">2</text>
<text x="136.90" y="561.30" font-size="7.9" text-anchor="middle" fill="#1a1a1a">3</text>
<line x1="29.40" y1="556.70" x2="137.10" y2="539.20" stroke="#3a57a0" stroke-width="1.3" />
<text x="70.70" y="464.00" font-size="9.5" text-anchor="start" fill="#1a1a1a" textLength="24.80" lengthAdjust="spacingAndGlyphs">Jurkat</text>
<text x="65.50" y="476.20" font-size="6.8" text-anchor="start" fill="#1a1a1a" textLength="35.20" lengthAdjust="spacingAndGlyphs">H2AK119ub1</text>
<text x="58.50" y="484.30" font-size="6.8" text-anchor="start" fill="#1a1a1a" textLength="49.10" lengthAdjust="spacingAndGlyphs">Log2 (ChIP/Input)</text>
<text x="113.90" y="514.00" font-size="6.8" text-anchor="start" fill="#1a1a1a" textLength="42.20" lengthAdjust="spacingAndGlyphs">y=0.165x-0.003</text>
<text x="120.70" y="522.00" font-size="6.8" text-anchor="start" fill="#1a1a1a" textLength="26.60" lengthAdjust="spacingAndGlyphs">p&lt;0.0001</text>
<text x="122.60" y="585.80" font-size="6.8" text-anchor="start" fill="#1a1a1a" textLength="19.60" lengthAdjust="spacingAndGlyphs">KDM2B</text>
<text x="107.00" y="593.80" font-size="6.8" text-anchor="start" fill="#1a1a1a" textLength="49.10" lengthAdjust="spacingAndGlyphs">Log2 (ChIP/Input)</text>
<line x1="226.90" y1="492.90" x2="226.90" y2="604.40" stroke="#151515" stroke-width="1.5" />
<line x1="170.90" y1="549.20" x2="283.50" y2="549.20" stroke="#151515" stroke-width="1.5" />
<line x1="224.30" y1="602.90" x2="226.90" y2="602.90" stroke="#151515" stroke-width="1.0" />
<line x1="173.35" y1="549.20" x2="173.35" y2="552.00" stroke="#151515" stroke-width="1.0" />
<line x1="224.30" y1="585.00" x2="226.90" y2="585.00" stroke="#151515" stroke-width="1.0" />
<line x1="191.20" y1="549.20" x2="191.20" y2="552.00" stroke="#151515" stroke-width="1.0" />
<line x1="224.30" y1="567.10" x2="226.90" y2="567.10" stroke="#151515" stroke-width="1.0" />
<line x1="209.05" y1="549.20" x2="209.05" y2="552.00" stroke="#151515" stroke-width="1.0" />
<line x1="224.30" y1="531.30" x2="226.90" y2="531.30" stroke="#151515" stroke-width="1.0" />
<line x1="244.75" y1="549.20" x2="244.75" y2="552.00" stroke="#151515" stroke-width="1.0" />
<line x1="224.30" y1="513.40" x2="226.90" y2="513.40" stroke="#151515" stroke-width="1.0" />
<line x1="262.60" y1="549.20" x2="262.60" y2="552.00" stroke="#151515" stroke-width="1.0" />
<line x1="224.30" y1="495.50" x2="226.90" y2="495.50" stroke="#151515" stroke-width="1.0" />
<line x1="280.45" y1="549.20" x2="280.45" y2="552.00" stroke="#151515" stroke-width="1.0" />
<ellipse cx="232.0" cy="541.5" rx="17.0" ry="24.5" fill="#8d8985" filter="url(#blur1)" transform="rotate(20 232.0 541.5)"/>
<path d="M244.5 523.1h0.9v0.9h-0.9zM215.8 560.0h0.9v0.9h-0.9zM235.0 560.8h0.9v0.9h-0.9zM248.0 532.2h0.9v0.9h-0.9zM215.8 557.7h0.9v0.9h-0.9zM251.2 539.8h0.9v0.9h-0.9zM212.4 544.0h0.9v0.9h-0.9zM229.3 517.7h0.9v0.9h-0.9zM246.9 514.6h0.9v0.9h-0.9zM216.5 533.2h0.9v0.9h-0.9zM254.2 538.4h0.9v0.9h-0.9zM246.6 520.9h0.9v0.9h-0.9zM248.2 532.4h0.9v0.9h-0.9zM216.8 530.3h0.9v0.9h-0.9zM236.9 562.3h0.9v0.9h-0.9zM232.0 569.4h0.9v0.9h-0.9zM235.5 566.5h0.9v0.9h-0.9zM218.5 531.1h0.9v0.9h-0.9zM250.9 539.9h0.9v0.9h-0.9zM214.9 523.5h0.9v0.9h-0.9zM214.4 546.0h0.9v0.9h-0.9zM239.2 562.4h0.9v0.9h-0.9zM211.6 555.9h0.9v0.9h-0.9zM230.1 576.8h0.9v0.9h-0.9zM214.1 542.1h0.9v0.9h-0.9zM212.7 541.8h0.9v0.9h-0.9zM254.9 536.5h0.9v0.9h-0.9zM210.7 552.8h0.9v0.9h-0.9zM252.9 528.3h0.9v0.9h-0.9zM249.1 556.5h0.9v0.9h-0.9zM213.9 559.2h0.9v0.9h-0.9zM237.9 516.0h0.9v0.9h-0.9zM207.7 544.3h0.9v0.9h-0.9zM243.5 559.9h0.9v0.9h-0.9zM213.7 557.5h0.9v0.9h-0.9zM217.5 526.1h0.9v0.9h-0.9zM251.8 540.7h0.9v0.9h-0.9zM223.6 569.2h0.9v0.9h-0.9zM241.1 558.9h0.9v0.9h-0.9zM240.7 519.9h0.9v0.9h-0.9zM225.2 520.5h0.9v0.9h-0.9zM214.9 557.7h0.9v0.9h-0.9zM212.8 552.4h0.9v0.9h-0.9zM217.3 558.8h0.9v0.9h-0.9zM230.7 515.0h0.9v0.9h-0.9zM249.3 527.8h0.9v0.9h-0.9zM220.0 560.3h0.9v0.9h-0.9zM253.0 532.8h0.9v0.9h-0.9zM212.4 548.2h0.9v0.9h-0.9zM208.2 534.9h0.9v0.9h-0.9zM220.8 569.7h0.9v0.9h-0.9zM241.9 559.4h0.9v0.9h-0.9zM228.2 570.1h0.9v0.9h-0.9zM223.1 565.7h0.9v0.9h-0.9zM212.9 545.1h0.9v0.9h-0.9zM213.1 535.8h0.9v0.9h-0.9zM249.4 524.2h0.9v0.9h-0.9zM215.7 555.3h0.9v0.9h-0.9zM242.2 518.5h0.9v0.9h-0.9zM223.0 565.1h0.9v0.9h-0.9zM213.5 538.7h0.9v0.9h-0.9zM242.7 558.0h0.9v0.9h-0.9zM254.0 529.2h0.9v0.9h-0.9zM210.2 561.4h0.9v0.9h-0.9zM227.7 516.0h0.9v0.9h-0.9zM218.5 525.1h0.9v0.9h-0.9zM209.1 535.9h0.9v0.9h-0.9zM224.5 565.7h0.9v0.9h-0.9zM245.4 525.0h0.9v0.9h-0.9zM208.5 539.1h0.9v0.9h-0.9zM239.5 575.1h0.9v0.9h-0.9zM243.2 567.0h0.9v0.9h-0.9zM214.7 534.5h0.9v0.9h-0.9zM220.5 526.8h0.9v0.9h-0.9zM219.1 567.4h0.9v0.9h-0.9zM223.1 572.3h0.9v0.9h-0.9zM247.8 523.3h0.9v0.9h-0.9zM233.5 512.2h0.9v0.9h-0.9zM235.5 564.5h0.9v0.9h-0.9zM248.0 518.5h0.9v0.9h-0.9zM248.4 560.1h0.9v0.9h-0.9zM254.6 518.7h0.9v0.9h-0.9zM246.6 525.7h0.9v0.9h-0.9zM238.0 563.6h0.9v0.9h-0.9zM253.3 547.3h0.9v0.9h-0.9zM249.7 532.8h0.9v0.9h-0.9zM231.1 572.9h0.9v0.9h-0.9zM229.7 518.6h0.9v0.9h-0.9zM207.4 540.6h0.9v0.9h-0.9zM235.2 563.1h0.9v0.9h-0.9zM227.9 567.5h0.9v0.9h-0.9zM228.1 566.7h0.9v0.9h-0.9zM231.9 517.4h0.9v0.9h-0.9zM219.2 523.3h0.9v0.9h-0.9zM253.5 543.4h0.9v0.9h-0.9zM217.8 562.3h0.9v0.9h-0.9zM213.8 538.3h0.9v0.9h-0.9zM213.0 555.5h0.9v0.9h-0.9zM214.3 552.9h0.9v0.9h-0.9zM219.8 520.5h0.9v0.9h-0.9zM247.6 513.4h0.9v0.9h-0.9zM233.3 517.0h0.9v0.9h-0.9zM238.7 562.1h0.9v0.9h-0.9zM220.6 564.4h0.9v0.9h-0.9zM226.8 521.1h0.9v0.9h-0.9zM242.1 517.6h0.9v0.9h-0.9zM250.1 527.5h0.9v0.9h-0.9zM213.7 556.8h0.9v0.9h-0.9zM215.6 541.8h0.9v0.9h-0.9zM254.1 563.0h0.9v0.9h-0.9zM213.3 530.8h0.9v0.9h-0.9zM217.0 563.9h0.9v0.9h-0.9zM214.9 530.3h0.9v0.9h-0.9zM218.1 509.6h0.9v0.9h-0.9zM232.3 569.8h0.9v0.9h-0.9zM244.1 559.8h0.9v0.9h-0.9zM236.2 519.1h0.9v0.9h-0.9zM237.6 517.3h0.9v0.9h-0.9zM248.8 545.6h0.9v0.9h-0.9zM215.3 534.8h0.9v0.9h-0.9zM242.3 555.2h0.9v0.9h-0.9zM242.0 557.1h0.9v0.9h-0.9zM250.2 543.1h0.9v0.9h-0.9zM240.0 514.0h0.9v0.9h-0.9zM233.1 571.2h0.9v0.9h-0.9zM211.6 547.7h0.9v0.9h-0.9zM229.7 562.5h0.9v0.9h-0.9zM242.4 520.8h0.9v0.9h-0.9zM242.0 505.3h0.9v0.9h-0.9zM256.1 534.8h0.9v0.9h-0.9zM229.7 512.7h0.9v0.9h-0.9zM212.6 550.3h0.9v0.9h-0.9zM250.9 533.9h0.9v0.9h-0.9zM214.1 552.8h0.9v0.9h-0.9zM239.0 517.8h0.9v0.9h-0.9zM224.0 578.1h0.9v0.9h-0.9zM220.7 564.0h0.9v0.9h-0.9zM224.3 522.3h0.9v0.9h-0.9zM219.0 563.1h0.9v0.9h-0.9zM248.9 527.2h0.9v0.9h-0.9zM216.3 533.0h0.9v0.9h-0.9zM252.2 536.2h0.9v0.9h-0.9zM223.2 521.0h0.9v0.9h-0.9zM220.5 523.8h0.9v0.9h-0.9zM208.5 531.3h0.9v0.9h-0.9zM229.4 566.9h0.9v0.9h-0.9zM211.0 561.1h0.9v0.9h-0.9zM249.6 532.3h0.9v0.9h-0.9zM232.7 510.2h0.9v0.9h-0.9zM242.9 518.2h0.9v0.9h-0.9zM213.9 548.2h0.9v0.9h-0.9zM228.8 564.4h0.9v0.9h-0.9zM244.5 521.1h0.9v0.9h-0.9zM214.2 547.8h0.9v0.9h-0.9zM245.0 516.1h0.9v0.9h-0.9zM241.7 554.5h0.9v0.9h-0.9zM214.7 557.4h0.9v0.9h-0.9zM229.1 516.6h0.9v0.9h-0.9zM248.3 537.5h0.9v0.9h-0.9zM228.1 570.7h0.9v0.9h-0.9zM248.6 544.6h0.9v0.9h-0.9zM232.2 520.2h0.9v0.9h-0.9zM228.7 567.6h0.9v0.9h-0.9zM250.6 551.3h0.9v0.9h-0.9zM252.0 536.2h0.9v0.9h-0.9zM232.3 515.1h0.9v0.9h-0.9zM238.2 514.8h0.9v0.9h-0.9zM213.2 548.8h0.9v0.9h-0.9zM242.8 561.4h0.9v0.9h-0.9zM209.2 537.9h0.9v0.9h-0.9zM228.7 519.8h0.9v0.9h-0.9zM222.0 561.3h0.9v0.9h-0.9zM249.1 541.3h0.9v0.9h-0.9zM241.9 521.3h0.9v0.9h-0.9zM248.7 551.0h0.9v0.9h-0.9zM219.4 562.3h0.9v0.9h-0.9zM254.1 530.7h0.9v0.9h-0.9zM241.5 514.5h0.9v0.9h-0.9zM249.8 514.4h0.9v0.9h-0.9zM230.1 568.0h0.9v0.9h-0.9zM257.4 524.8h0.9v0.9h-0.9zM229.9 513.4h0.9v0.9h-0.9zM212.0 550.7h0.9v0.9h-0.9zM234.0 500.2h0.9v0.9h-0.9zM224.4 564.0h0.9v0.9h-0.9zM254.1 530.1h0.9v0.9h-0.9zM241.7 556.9h0.9v0.9h-0.9zM218.1 572.1h0.9v0.9h-0.9zM236.6 520.1h0.9v0.9h-0.9zM211.3 548.7h0.9v0.9h-0.9zM251.4 529.2h0.9v0.9h-0.9zM247.2 523.4h0.9v0.9h-0.9zM233.0 511.6h0.9v0.9h-0.9zM213.9 556.7h0.9v0.9h-0.9zM213.9 544.7h0.9v0.9h-0.9zM210.0 566.6h0.9v0.9h-0.9zM219.0 559.5h0.9v0.9h-0.9zM251.0 550.9h0.9v0.9h-0.9zM222.0 566.0h0.9v0.9h-0.9zM234.7 516.8h0.9v0.9h-0.9zM219.1 530.1h0.9v0.9h-0.9zM215.2 560.8h0.9v0.9h-0.9zM210.1 567.9h0.9v0.9h-0.9zM231.1 570.0h0.9v0.9h-0.9zM241.6 556.3h0.9v0.9h-0.9zM235.3 577.4h0.9v0.9h-0.9zM226.7 522.8h0.9v0.9h-0.9zM251.7 536.4h0.9v0.9h-0.9zM233.7 515.4h0.9v0.9h-0.9zM212.6 560.7h0.9v0.9h-0.9zM218.4 524.8h0.9v0.9h-0.9zM238.6 572.8h0.9v0.9h-0.9zM242.4 559.0h0.9v0.9h-0.9zM249.4 562.9h0.9v0.9h-0.9zM216.1 520.7h0.9v0.9h-0.9zM222.7 524.8h0.9v0.9h-0.9zM234.0 563.7h0.9v0.9h-0.9zM252.9 538.3h0.9v0.9h-0.9zM235.7 563.5h0.9v0.9h-0.9zM212.1 532.2h0.9v0.9h-0.9zM228.5 513.3h0.9v0.9h-0.9zM246.3 551.9h0.9v0.9h-0.9zM217.8 571.6h0.9v0.9h-0.9zM213.3 527.5h0.9v0.9h-0.9zM232.6 510.5h0.9v0.9h-0.9zM233.3 510.9h0.9v0.9h-0.9zM230.5 516.4h0.9v0.9h-0.9zM244.3 559.4h0.9v0.9h-0.9zM246.9 558.4h0.9v0.9h-0.9zM254.6 522.5h0.9v0.9h-0.9zM235.5 568.0h0.9v0.9h-0.9zM209.3 560.0h0.9v0.9h-0.9zM249.9 522.9h0.9v0.9h-0.9zM248.0 556.1h0.9v0.9h-0.9zM251.2 524.9h0.9v0.9h-0.9zM229.2 512.6h0.9v0.9h-0.9zM207.4 556.3h0.9v0.9h-0.9zM223.9 567.1h0.9v0.9h-0.9zM217.0 532.5h0.9v0.9h-0.9zM246.4 523.9h0.9v0.9h-0.9zM228.8 564.8h0.9v0.9h-0.9zM224.3 563.6h0.9v0.9h-0.9zM217.2 536.2h0.9v0.9h-0.9zM244.3 524.2h0.9v0.9h-0.9zM211.6 548.8h0.9v0.9h-0.9zM212.1 549.5h0.9v0.9h-0.9zM247.9 541.8h0.9v0.9h-0.9zM219.0 531.4h0.9v0.9h-0.9zM244.7 518.7h0.9v0.9h-0.9zM232.0 514.1h0.9v0.9h-0.9zM218.1 528.0h0.9v0.9h-0.9zM206.6 547.1h0.9v0.9h-0.9zM230.1 521.5h0.9v0.9h-0.9zM247.6 523.9h0.9v0.9h-0.9zM235.6 565.4h0.9v0.9h-0.9zM221.9 563.3h0.9v0.9h-0.9zM227.9 564.5h0.9v0.9h-0.9zM245.3 522.8h0.9v0.9h-0.9zM215.2 562.1h0.9v0.9h-0.9zM210.5 543.7h0.9v0.9h-0.9zM217.9 534.3h0.9v0.9h-0.9zM249.6 540.9h0.9v0.9h-0.9zM249.4 548.5h0.9v0.9h-0.9zM230.3 570.7h0.9v0.9h-0.9zM249.2 528.3h0.9v0.9h-0.9zM206.5 542.2h0.9v0.9h-0.9zM215.3 554.4h0.9v0.9h-0.9zM255.9 538.1h0.9v0.9h-0.9zM241.2 565.4h0.9v0.9h-0.9zM250.0 551.1h0.9v0.9h-0.9zM252.5 532.5h0.9v0.9h-0.9zM247.8 521.4h0.9v0.9h-0.9zM216.8 529.1h0.9v0.9h-0.9zM222.3 563.4h0.9v0.9h-0.9zM246.6 512.9h0.9v0.9h-0.9zM233.7 563.9h0.9v0.9h-0.9zM213.2 546.7h0.9v0.9h-0.9zM232.3 572.5h0.9v0.9h-0.9zM209.5 551.3h0.9v0.9h-0.9zM251.2 549.6h0.9v0.9h-0.9zM213.1 541.7h0.9v0.9h-0.9zM210.2 543.0h0.9v0.9h-0.9zM250.6 545.1h0.9v0.9h-0.9zM212.0 554.9h0.9v0.9h-0.9zM216.8 530.3h0.9v0.9h-0.9zM234.6 564.7h0.9v0.9h-0.9zM220.4 563.2h0.9v0.9h-0.9zM225.5 565.9h0.9v0.9h-0.9zM249.6 543.5h0.9v0.9h-0.9zM239.2 570.6h0.9v0.9h-0.9zM227.8 515.7h0.9v0.9h-0.9zM255.9 514.5h0.9v0.9h-0.9zM251.4 538.5h0.9v0.9h-0.9zM236.9 509.3h0.9v0.9h-0.9zM231.1 565.6h0.9v0.9h-0.9zM251.9 534.9h0.9v0.9h-0.9zM212.2 530.8h0.9v0.9h-0.9zM215.7 530.4h0.9v0.9h-0.9zM248.8 532.1h0.9v0.9h-0.9zM246.8 549.5h0.9v0.9h-0.9zM238.7 511.0h0.9v0.9h-0.9zM241.9 517.9h0.9v0.9h-0.9zM231.6 515.5h0.9v0.9h-0.9zM228.6 575.8h0.9v0.9h-0.9zM249.8 534.7h0.9v0.9h-0.9zM225.1 563.5h0.9v0.9h-0.9zM213.8 563.8h0.9v0.9h-0.9zM246.4 525.6h0.9v0.9h-0.9zM254.3 534.2h0.9v0.9h-0.9zM219.7 569.8h0.9v0.9h-0.9zM215.2 538.8h0.9v0.9h-0.9zM250.0 524.6h0.9v0.9h-0.9zM216.2 528.5h0.9v0.9h-0.9zM224.7 569.9h0.9v0.9h-0.9zM215.1 554.0h0.9v0.9h-0.9zM226.1 514.7h0.9v0.9h-0.9zM240.3 506.8h0.9v0.9h-0.9zM212.2 569.9h0.9v0.9h-0.9zM229.5 573.0h0.9v0.9h-0.9zM247.1 512.7h0.9v0.9h-0.9zM218.3 562.1h0.9v0.9h-0.9zM222.4 569.4h0.9v0.9h-0.9zM218.3 565.5h0.9v0.9h-0.9zM224.7 568.2h0.9v0.9h-0.9zM236.6 563.5h0.9v0.9h-0.9zM210.7 554.6h0.9v0.9h-0.9zM230.4 563.7h0.9v0.9h-0.9zM228.8 517.7h0.9v0.9h-0.9zM242.6 567.2h0.9v0.9h-0.9zM211.6 559.4h0.9v0.9h-0.9zM250.2 539.6h0.9v0.9h-0.9zM211.1 541.9h0.9v0.9h-0.9zM248.9 532.0h0.9v0.9h-0.9zM226.5 562.6h0.9v0.9h-0.9zM242.9 521.8h0.9v0.9h-0.9zM242.6 560.6h0.9v0.9h-0.9zM251.2 540.0h0.9v0.9h-0.9zM248.4 541.7h0.9v0.9h-0.9zM234.4 515.4h0.9v0.9h-0.9zM228.7 564.9h0.9v0.9h-0.9zM241.9 516.9h0.9v0.9h-0.9zM247.5 518.4h0.9v0.9h-0.9zM229.2 511.7h0.9v0.9h-0.9zM243.0 519.5h0.9v0.9h-0.9zM222.2 567.1h0.9v0.9h-0.9zM244.5 517.7h0.9v0.9h-0.9zM224.5 571.9h0.9v0.9h-0.9zM213.1 533.4h0.9v0.9h-0.9zM213.2 551.5h0.9v0.9h-0.9zM227.8 563.8h0.9v0.9h-0.9zM220.0 571.4h0.9v0.9h-0.9zM249.6 530.6h0.9v0.9h-0.9zM243.8 555.8h0.9v0.9h-0.9zM214.9 536.7h0.9v0.9h-0.9zM204.8 536.3h0.9v0.9h-0.9zM241.3 567.7h0.9v0.9h-0.9zM241.6 558.0h0.9v0.9h-0.9zM209.7 545.9h0.9v0.9h-0.9zM211.5 559.1h0.9v0.9h-0.9zM220.9 568.5h0.9v0.9h-0.9zM220.5 570.9h0.9v0.9h-0.9zM224.7 569.4h0.9v0.9h-0.9zM227.9 519.1h0.9v0.9h-0.9zM248.1 543.8h0.9v0.9h-0.9zM213.7 568.1h0.9v0.9h-0.9zM214.0 550.4h0.9v0.9h-0.9zM234.9 516.5h0.9v0.9h-0.9zM216.8 563.6h0.9v0.9h-0.9zM237.1 561.8h0.9v0.9h-0.9zM229.5 521.3h0.9v0.9h-0.9zM213.1 558.4h0.9v0.9h-0.9zM247.9 547.9h0.9v0.9h-0.9zM217.5 558.5h0.9v0.9h-0.9zM250.0 529.5h0.9v0.9h-0.9zM248.0 558.4h0.9v0.9h-0.9zM255.3 528.3h0.9v0.9h-0.9zM224.9 520.0h0.9v0.9h-0.9zM246.2 525.6h0.9v0.9h-0.9zM218.9 525.7h0.9v0.9h-0.9zM235.9 519.2h0.9v0.9h-0.9zM253.0 528.7h0.9v0.9h-0.9zM232.2 574.1h0.9v0.9h-0.9zM240.9 565.9h0.9v0.9h-0.9zM217.5 521.1h0.9v0.9h-0.9zM214.2 538.6h0.9v0.9h-0.9zM216.4 532.3h0.9v0.9h-0.9zM216.6 554.5h0.9v0.9h-0.9zM248.9 544.4h0.9v0.9h-0.9zM223.3 520.2h0.9v0.9h-0.9zM223.7 518.4h0.9v0.9h-0.9zM245.1 550.5h0.9v0.9h-0.9zM219.1 567.1h0.9v0.9h-0.9zM214.7 573.8h0.9v0.9h-0.9zM252.6 547.5h0.9v0.9h-0.9zM235.8 562.1h0.9v0.9h-0.9zM216.9 535.2h0.9v0.9h-0.9zM238.6 517.5h0.9v0.9h-0.9zM226.3 521.5h0.9v0.9h-0.9zM243.3 514.8h0.9v0.9h-0.9zM213.6 556.8h0.9v0.9h-0.9zM233.1 563.8h0.9v0.9h-0.9zM225.7 566.2h0.9v0.9h-0.9zM215.1 524.7h0.9v0.9h-0.9zM211.3 529.4h0.9v0.9h-0.9zM216.6 548.3h0.9v0.9h-0.9zM252.4 534.6h0.9v0.9h-0.9zM209.2 552.6h0.9v0.9h-0.9zM227.3 566.5h0.9v0.9h-0.9zM222.5 519.3h0.9v0.9h-0.9zM219.5 520.6h0.9v0.9h-0.9zM245.3 517.4h0.9v0.9h-0.9zM221.5 529.1h0.9v0.9h-0.9zM251.5 550.2h0.9v0.9h-0.9zM215.3 538.1h0.9v0.9h-0.9zM230.3 573.2h0.9v0.9h-0.9zM225.0 565.6h0.9v0.9h-0.9zM241.8 520.5h0.9v0.9h-0.9zM257.9 542.0h0.9v0.9h-0.9zM248.9 529.1h0.9v0.9h-0.9zM225.0 565.4h0.9v0.9h-0.9zM212.4 547.1h0.9v0.9h-0.9zM249.8 526.6h0.9v0.9h-0.9zM250.9 522.0h0.9v0.9h-0.9zM242.9 553.9h0.9v0.9h-0.9zM221.1 562.7h0.9v0.9h-0.9zM220.0 517.5h0.9v0.9h-0.9zM228.0 578.3h0.9v0.9h-0.9zM248.7 551.4h0.9v0.9h-0.9zM226.1 567.5h0.9v0.9h-0.9zM217.7 529.0h0.9v0.9h-0.9zM237.2 514.8h0.9v0.9h-0.9zM239.6 516.8h0.9v0.9h-0.9zM220.6 526.7h0.9v0.9h-0.9zM221.4 518.0h0.9v0.9h-0.9zM213.1 530.3h0.9v0.9h-0.9zM249.0 513.5h0.9v0.9h-0.9zM228.5 511.9h0.9v0.9h-0.9zM233.3 513.7h0.9v0.9h-0.9zM254.5 531.0h0.9v0.9h-0.9zM239.6 565.8h0.9v0.9h-0.9zM250.8 557.0h0.9v0.9h-0.9zM218.9 531.8h0.9v0.9h-0.9zM209.6 544.2h0.9v0.9h-0.9zM253.2 532.4h0.9v0.9h-0.9zM218.4 561.0h0.9v0.9h-0.9zM232.4 515.6h0.9v0.9h-0.9zM234.7 516.3h0.9v0.9h-0.9zM224.8 564.9h0.9v0.9h-0.9zM253.9 551.4h0.9v0.9h-0.9zM215.9 547.1h0.9v0.9h-0.9zM228.2 569.1h0.9v0.9h-0.9zM229.9 566.8h0.9v0.9h-0.9zM207.9 541.5h0.9v0.9h-0.9zM231.4 562.0h0.9v0.9h-0.9zM216.9 523.6h0.9v0.9h-0.9zM224.0 516.6h0.9v0.9h-0.9zM211.7 539.8h0.9v0.9h-0.9zM215.6 520.7h0.9v0.9h-0.9zM229.0 567.6h0.9v0.9h-0.9zM220.0 523.4h0.9v0.9h-0.9zM251.4 524.0h0.9v0.9h-0.9zM248.0 526.2h0.9v0.9h-0.9zM241.1 566.5h0.9v0.9h-0.9zM214.0 563.5h0.9v0.9h-0.9zM236.5 519.9h0.9v0.9h-0.9zM223.4 524.8h0.9v0.9h-0.9zM212.7 553.2h0.9v0.9h-0.9zM249.5 521.9h0.9v0.9h-0.9zM258.4 527.4h0.9v0.9h-0.9zM217.1 523.3h0.9v0.9h-0.9zM221.6 570.3h0.9v0.9h-0.9zM251.1 541.8h0.9v0.9h-0.9zM208.1 537.3h0.9v0.9h-0.9zM216.9 556.3h0.9v0.9h-0.9zM239.7 572.1h0.9v0.9h-0.9zM254.6 538.1h0.9v0.9h-0.9zM234.3 514.2h0.9v0.9h-0.9zM243.3 557.4h0.9v0.9h-0.9zM230.6 576.2h0.9v0.9h-0.9zM253.4 535.1h0.9v0.9h-0.9zM241.2 555.4h0.9v0.9h-0.9zM232.3 516.5h0.9v0.9h-0.9zM221.8 527.6h0.9v0.9h-0.9zM215.0 535.3h0.9v0.9h-0.9zM234.0 519.1h0.9v0.9h-0.9zM216.5 558.3h0.9v0.9h-0.9zM226.8 521.4h0.9v0.9h-0.9zM251.5 528.1h0.9v0.9h-0.9zM219.6 523.6h0.9v0.9h-0.9zM215.3 530.8h0.9v0.9h-0.9zM225.8 524.0h0.9v0.9h-0.9zM230.3 568.2h0.9v0.9h-0.9zM214.8 560.6h0.9v0.9h-0.9zM238.1 511.7h0.9v0.9h-0.9zM219.9 525.2h0.9v0.9h-0.9zM238.9 563.8h0.9v0.9h-0.9zM247.6 529.5h0.9v0.9h-0.9zM211.5 549.8h0.9v0.9h-0.9zM222.9 567.6h0.9v0.9h-0.9zM234.7 564.1h0.9v0.9h-0.9zM252.2 535.6h0.9v0.9h-0.9zM237.6 520.7h0.9v0.9h-0.9zM217.8 561.7h0.9v0.9h-0.9zM229.3 570.5h0.9v0.9h-0.9zM252.9 522.2h0.9v0.9h-0.9zM235.3 565.5h0.9v0.9h-0.9zM216.1 531.9h0.9v0.9h-0.9zM231.5 520.7h0.9v0.9h-0.9zM252.6 537.7h0.9v0.9h-0.9zM233.4 519.4h0.9v0.9h-0.9zM240.3 563.3h0.9v0.9h-0.9zM210.9 529.1h0.9v0.9h-0.9zM249.1 534.6h0.9v0.9h-0.9zM218.8 569.8h0.9v0.9h-0.9zM241.3 558.8h0.9v0.9h-0.9zM248.3 560.3h0.9v0.9h-0.9zM253.9 517.3h0.9v0.9h-0.9zM255.6 536.3h0.9v0.9h-0.9zM215.0 541.4h0.9v0.9h-0.9zM214.1 567.7h0.9v0.9h-0.9zM213.9 550.8h0.9v0.9h-0.9zM231.4 564.8h0.9v0.9h-0.9zM213.8 545.2h0.9v0.9h-0.9zM213.8 539.7h0.9v0.9h-0.9zM213.1 527.2h0.9v0.9h-0.9zM240.8 563.5h0.9v0.9h-0.9zM254.1 544.2h0.9v0.9h-0.9zM226.9 521.8h0.9v0.9h-0.9zM221.2 525.9h0.9v0.9h-0.9zM247.4 523.0h0.9v0.9h-0.9zM243.5 552.9h0.9v0.9h-0.9zM222.1 523.7h0.9v0.9h-0.9zM213.5 555.5h0.9v0.9h-0.9zM227.7 515.9h0.9v0.9h-0.9zM251.1 538.0h0.9v0.9h-0.9zM244.4 558.5h0.9v0.9h-0.9zM232.0 567.1h0.9v0.9h-0.9zM215.7 556.7h0.9v0.9h-0.9zM210.6 525.2h0.9v0.9h-0.9zM247.3 523.5h0.9v0.9h-0.9zM241.0 510.0h0.9v0.9h-0.9zM218.2 527.9h0.9v0.9h-0.9zM228.8 575.7h0.9v0.9h-0.9zM215.3 534.8h0.9v0.9h-0.9zM210.8 545.1h0.9v0.9h-0.9zM240.2 565.4h0.9v0.9h-0.9zM253.1 533.6h0.9v0.9h-0.9zM254.1 518.7h0.9v0.9h-0.9zM223.0 514.9h0.9v0.9h-0.9zM223.7 565.2h0.9v0.9h-0.9zM219.2 521.8h0.9v0.9h-0.9zM215.0 562.4h0.9v0.9h-0.9zM228.3 512.3h0.9v0.9h-0.9zM245.4 552.3h0.9v0.9h-0.9zM224.0 522.2h0.9v0.9h-0.9zM221.5 529.2h0.9v0.9h-0.9zM252.3 535.6h0.9v0.9h-0.9zM221.2 526.3h0.9v0.9h-0.9zM243.2 520.7h0.9v0.9h-0.9zM224.8 572.5h0.9v0.9h-0.9zM215.2 523.9h0.9v0.9h-0.9zM216.7 560.4h0.9v0.9h-0.9zM250.9 545.7h0.9v0.9h-0.9zM254.3 540.9h0.9v0.9h-0.9zM223.3 567.1h0.9v0.9h-0.9zM224.8 515.1h0.9v0.9h-0.9zM243.3 557.5h0.9v0.9h-0.9zM219.1 528.9h0.9v0.9h-0.9zM252.3 545.9h0.9v0.9h-0.9zM236.4 566.5h0.9v0.9h-0.9zM237.8 519.6h0.9v0.9h-0.9zM216.3 533.1h0.9v0.9h-0.9zM247.7 546.2h0.9v0.9h-0.9zM213.4 549.4h0.9v0.9h-0.9zM251.1 518.8h0.9v0.9h-0.9zM222.4 520.8h0.9v0.9h-0.9zM245.3 520.8h0.9v0.9h-0.9zM251.8 523.3h0.9v0.9h-0.9zM228.4 513.8h0.9v0.9h-0.9zM212.9 559.5h0.9v0.9h-0.9zM219.3 514.5h0.9v0.9h-0.9zM245.5 518.2h0.9v0.9h-0.9zM250.6 517.8h0.9v0.9h-0.9zM227.4 520.9h0.9v0.9h-0.9zM214.3 542.2h0.9v0.9h-0.9zM241.0 557.2h0.9v0.9h-0.9zM237.9 559.6h0.9v0.9h-0.9zM228.9 519.6h0.9v0.9h-0.9zM215.0 550.5h0.9v0.9h-0.9zM232.4 519.1h0.9v0.9h-0.9zM215.1 531.5h0.9v0.9h-0.9zM215.1 550.0h0.9v0.9h-0.9zM227.7 570.5h0.9v0.9h-0.9zM248.1 525.9h0.9v0.9h-0.9zM219.5 567.8h0.9v0.9h-0.9zM226.9 518.8h0.9v0.9h-0.9zM239.7 559.6h0.9v0.9h-0.9zM248.5 541.9h0.9v0.9h-0.9zM234.9 568.8h0.9v0.9h-0.9zM215.6 534.9h0.9v0.9h-0.9zM249.3 517.6h0.9v0.9h-0.9zM223.8 570.7h0.9v0.9h-0.9zM229.3 522.5h0.9v0.9h-0.9zM209.6 551.1h0.9v0.9h-0.9zM251.4 541.8h0.9v0.9h-0.9zM236.8 564.5h0.9v0.9h-0.9zM229.4 570.8h0.9v0.9h-0.9zM216.7 527.4h0.9v0.9h-0.9zM233.2 512.0h0.9v0.9h-0.9zM220.8 524.5h0.9v0.9h-0.9zM230.9 564.5h0.9v0.9h-0.9zM216.1 537.2h0.9v0.9h-0.9zM249.5 563.8h0.9v0.9h-0.9zM232.0 508.9h0.9v0.9h-0.9zM214.9 561.5h0.9v0.9h-0.9zM253.4 541.6h0.9v0.9h-0.9zM214.4 550.2h0.9v0.9h-0.9zM243.5 553.4h0.9v0.9h-0.9zM245.6 548.2h0.9v0.9h-0.9zM212.5 564.2h0.9v0.9h-0.9zM219.3 571.6h0.9v0.9h-0.9zM251.6 539.9h0.9v0.9h-0.9zM242.5 521.4h0.9v0.9h-0.9zM212.2 556.8h0.9v0.9h-0.9zM219.1 572.6h0.9v0.9h-0.9zM245.7 559.8h0.9v0.9h-0.9zM237.6 562.2h0.9v0.9h-0.9zM239.7 518.0h0.9v0.9h-0.9zM250.6 562.4h0.9v0.9h-0.9zM247.0 514.3h0.9v0.9h-0.9zM211.9 552.3h0.9v0.9h-0.9zM233.3 513.9h0.9v0.9h-0.9zM224.3 517.4h0.9v0.9h-0.9zM239.3 561.2h0.9v0.9h-0.9zM240.5 519.8h0.9v0.9h-0.9zM258.8 523.2h0.9v0.9h-0.9zM239.2 561.4h0.9v0.9h-0.9zM250.7 543.1h0.9v0.9h-0.9zM248.2 517.9h0.9v0.9h-0.9zM221.8 515.8h0.9v0.9h-0.9zM235.9 505.9h0.9v0.9h-0.9zM245.9 554.6h0.9v0.9h-0.9zM225.1 568.4h0.9v0.9h-0.9zM252.7 532.3h0.9v0.9h-0.9zM247.1 529.2h0.9v0.9h-0.9zM225.6 571.9h0.9v0.9h-0.9zM216.1 526.3h0.9v0.9h-0.9zM213.4 560.1h0.9v0.9h-0.9zM230.5 564.2h0.9v0.9h-0.9zM245.4 516.3h0.9v0.9h-0.9zM232.3 518.1h0.9v0.9h-0.9zM243.8 557.4h0.9v0.9h-0.9zM231.5 518.2h0.9v0.9h-0.9zM247.2 549.1h0.9v0.9h-0.9zM241.6 561.8h0.9v0.9h-0.9zM207.5 550.8h0.9v0.9h-0.9zM246.1 552.5h0.9v0.9h-0.9zM215.1 531.6h0.9v0.9h-0.9zM233.8 504.8h0.9v0.9h-0.9zM218.2 575.5h0.9v0.9h-0.9zM235.2 513.7h0.9v0.9h-0.9zM242.7 556.6h0.9v0.9h-0.9zM243.2 562.5h0.9v0.9h-0.9zM214.4 535.4h0.9v0.9h-0.9zM246.5 551.5h0.9v0.9h-0.9zM241.7 517.6h0.9v0.9h-0.9zM250.2 531.2h0.9v0.9h-0.9zM252.1 550.2h0.9v0.9h-0.9zM246.4 518.9h0.9v0.9h-0.9zM212.8 515.1h0.9v0.9h-0.9zM255.9 544.4h0.9v0.9h-0.9zM251.3 511.6h0.9v0.9h-0.9zM248.6 533.7h0.9v0.9h-0.9zM251.6 524.0h0.9v0.9h-0.9zM258.1 517.7h0.9v0.9h-0.9zM243.4 513.0h0.9v0.9h-0.9zM253.3 532.1h0.9v0.9h-0.9zM242.2 559.9h0.9v0.9h-0.9zM247.3 518.7h0.9v0.9h-0.9zM232.6 517.4h0.9v0.9h-0.9zM208.3 560.9h0.9v0.9h-0.9zM213.3 545.1h0.9v0.9h-0.9zM238.0 558.9h0.9v0.9h-0.9zM215.4 564.7h0.9v0.9h-0.9zM238.0 510.6h0.9v0.9h-0.9zM218.7 527.9h0.9v0.9h-0.9zM250.1 536.5h0.9v0.9h-0.9zM223.2 564.2h0.9v0.9h-0.9zM224.7 569.2h0.9v0.9h-0.9zM238.8 519.2h0.9v0.9h-0.9zM248.9 540.9h0.9v0.9h-0.9zM214.1 555.4h0.9v0.9h-0.9zM213.3 551.8h0.9v0.9h-0.9zM247.0 557.7h0.9v0.9h-0.9zM225.4 564.3h0.9v0.9h-0.9zM251.2 533.5h0.9v0.9h-0.9zM255.6 544.9h0.9v0.9h-0.9zM213.1 536.3h0.9v0.9h-0.9zM248.8 526.4h0.9v0.9h-0.9zM227.4 564.1h0.9v0.9h-0.9zM229.0 518.3h0.9v0.9h-0.9zM254.6 532.8h0.9v0.9h-0.9zM216.4 556.2h0.9v0.9h-0.9zM225.6 507.0h0.9v0.9h-0.9zM239.5 519.2h0.9v0.9h-0.9zM236.0 565.3h0.9v0.9h-0.9zM218.7 573.9h0.9v0.9h-0.9zM222.4 522.2h0.9v0.9h-0.9zM222.6 564.6h0.9v0.9h-0.9zM233.4 563.1h0.9v0.9h-0.9zM233.6 567.7h0.9v0.9h-0.9zM243.9 519.4h0.9v0.9h-0.9zM214.0 541.6h0.9v0.9h-0.9zM219.5 527.8h0.9v0.9h-0.9zM225.0 506.3h0.9v0.9h-0.9zM218.5 557.9h0.9v0.9h-0.9zM229.5 509.4h0.9v0.9h-0.9zM210.9 543.1h0.9v0.9h-0.9zM245.7 568.8h0.9v0.9h-0.9zM214.3 530.4h0.9v0.9h-0.9zM201.5 530.7h0.9v0.9h-0.9zM233.7 518.7h0.9v0.9h-0.9zM252.3 541.4h0.9v0.9h-0.9zM246.0 555.1h0.9v0.9h-0.9zM225.8 522.0h0.9v0.9h-0.9zM236.1 513.4h0.9v0.9h-0.9zM212.8 538.3h0.9v0.9h-0.9zM204.4 548.1h0.9v0.9h-0.9zM237.3 512.2h0.9v0.9h-0.9zM216.3 527.9h0.9v0.9h-0.9zM213.6 548.2h0.9v0.9h-0.9zM229.9 517.9h0.9v0.9h-0.9zM224.5 522.1h0.9v0.9h-0.9zM240.3 556.9h0.9v0.9h-0.9zM216.1 555.1h0.9v0.9h-0.9zM251.5 530.9h0.9v0.9h-0.9zM233.6 563.6h0.9v0.9h-0.9zM217.0 532.4h0.9v0.9h-0.9zM227.3 517.1h0.9v0.9h-0.9zM239.3 566.2h0.9v0.9h-0.9zM228.6 568.0h0.9v0.9h-0.9zM218.1 558.7h0.9v0.9h-0.9zM221.7 518.3h0.9v0.9h-0.9zM239.2 569.7h0.9v0.9h-0.9zM242.0 519.4h0.9v0.9h-0.9zM233.2 513.9h0.9v0.9h-0.9zM244.8 522.3h0.9v0.9h-0.9zM222.2 572.1h0.9v0.9h-0.9zM219.4 530.5h0.9v0.9h-0.9zM249.8 526.3h0.9v0.9h-0.9zM214.7 544.9h0.9v0.9h-0.9zM221.3 526.6h0.9v0.9h-0.9zM206.2 552.1h0.9v0.9h-0.9zM240.5 514.4h0.9v0.9h-0.9zM227.2 522.0h0.9v0.9h-0.9zM240.9 517.5h0.9v0.9h-0.9zM252.1 543.0h0.9v0.9h-0.9zM247.5 511.3h0.9v0.9h-0.9zM222.2 527.4h0.9v0.9h-0.9zM217.1 580.1h0.9v0.9h-0.9zM215.1 532.9h0.9v0.9h-0.9zM252.1 539.1h0.9v0.9h-0.9zM254.9 546.5h0.9v0.9h-0.9zM237.4 560.9h0.9v0.9h-0.9zM231.9 520.2h0.9v0.9h-0.9zM254.4 555.3h0.9v0.9h-0.9zM240.5 563.9h0.9v0.9h-0.9zM214.3 554.6h0.9v0.9h-0.9zM239.9 558.5h0.9v0.9h-0.9zM229.1 516.5h0.9v0.9h-0.9zM214.7 535.5h0.9v0.9h-0.9zM212.9 553.3h0.9v0.9h-0.9zM249.5 525.2h0.9v0.9h-0.9zM212.1 559.1h0.9v0.9h-0.9zM221.0 572.9h0.9v0.9h-0.9zM220.7 562.3h0.9v0.9h-0.9zM253.7 554.8h0.9v0.9h-0.9zM239.5 509.0h0.9v0.9h-0.9zM229.1 521.4h0.9v0.9h-0.9zM212.7 548.6h0.9v0.9h-0.9zM246.3 522.8h0.9v0.9h-0.9zM211.8 564.5h0.9v0.9h-0.9zM227.4 565.1h0.9v0.9h-0.9zM253.1 557.4h0.9v0.9h-0.9zM231.4 570.1h0.9v0.9h-0.9zM208.6 543.7h0.9v0.9h-0.9zM213.7 562.5h0.9v0.9h-0.9zM214.0 544.0h0.9v0.9h-0.9zM245.9 556.4h0.9v0.9h-0.9zM248.5 552.4h0.9v0.9h-0.9zM232.3 519.5h0.9v0.9h-0.9zM214.3 548.0h0.9v0.9h-0.9zM245.7 516.7h0.9v0.9h-0.9zM252.2 521.7h0.9v0.9h-0.9zM211.9 558.2h0.9v0.9h-0.9zM206.1 542.1h0.9v0.9h-0.9zM245.7 510.3h0.9v0.9h-0.9zM237.6 568.3h0.9v0.9h-0.9zM247.0 519.4h0.9v0.9h-0.9zM213.8 555.7h0.9v0.9h-0.9zM222.2 568.9h0.9v0.9h-0.9zM213.5 540.2h0.9v0.9h-0.9zM229.0 518.6h0.9v0.9h-0.9zM247.8 524.7h0.9v0.9h-0.9zM247.0 522.8h0.9v0.9h-0.9zM245.0 551.6h0.9v0.9h-0.9zM233.4 572.8h0.9v0.9h-0.9zM207.7 567.4h0.9v0.9h-0.9zM250.1 562.8h0.9v0.9h-0.9zM216.2 543.2h0.9v0.9h-0.9zM214.6 542.7h0.9v0.9h-0.9zM218.2 532.9h0.9v0.9h-0.9zM217.0 555.6h0.9v0.9h-0.9zM224.7 565.1h0.9v0.9h-0.9zM220.9 520.6h0.9v0.9h-0.9zM248.7 560.1h0.9v0.9h-0.9zM252.0 558.5h0.9v0.9h-0.9zM241.7 512.6h0.9v0.9h-0.9zM229.6 569.8h0.9v0.9h-0.9zM234.1 570.7h0.9v0.9h-0.9zM224.6 562.8h0.9v0.9h-0.9zM220.6 524.5h0.9v0.9h-0.9zM222.3 572.6h0.9v0.9h-0.9zM230.8 517.3h0.9v0.9h-0.9zM228.3 520.1h0.9v0.9h-0.9zM209.6 551.8h0.9v0.9h-0.9zM256.4 534.8h0.9v0.9h-0.9zM242.5 514.8h0.9v0.9h-0.9zM235.4 560.0h0.9v0.9h-0.9zM225.0 568.1h0.9v0.9h-0.9zM242.3 569.4h0.9v0.9h-0.9zM237.4 512.2h0.9v0.9h-0.9zM229.8 566.3h0.9v0.9h-0.9zM210.6 543.0h0.9v0.9h-0.9zM242.7 563.0h0.9v0.9h-0.9zM251.8 527.8h0.9v0.9h-0.9zM240.6 516.5h0.9v0.9h-0.9zM231.0 517.1h0.9v0.9h-0.9zM236.0 508.9h0.9v0.9h-0.9zM217.0 553.8h0.9v0.9h-0.9zM229.8 569.8h0.9v0.9h-0.9zM249.3 551.2h0.9v0.9h-0.9zM212.5 549.6h0.9v0.9h-0.9zM252.3 532.8h0.9v0.9h-0.9zM247.7 552.1h0.9v0.9h-0.9zM229.5 566.7h0.9v0.9h-0.9zM213.0 528.9h0.9v0.9h-0.9zM243.7 558.6h0.9v0.9h-0.9zM218.5 563.2h0.9v0.9h-0.9zM240.7 518.1h0.9v0.9h-0.9zM226.9 567.4h0.9v0.9h-0.9zM216.7 564.3h0.9v0.9h-0.9zM221.3 561.6h0.9v0.9h-0.9zM227.9 568.3h0.9v0.9h-0.9zM245.4 522.0h0.9v0.9h-0.9zM258.0 539.0h0.9v0.9h-0.9zM222.9 524.0h0.9v0.9h-0.9zM221.9 567.5h0.9v0.9h-0.9zM224.0 565.7h0.9v0.9h-0.9zM234.5 510.7h0.9v0.9h-0.9zM236.9 518.9h0.9v0.9h-0.9zM246.9 521.8h0.9v0.9h-0.9zM237.2 568.0h0.9v0.9h-0.9zM229.2 564.6h0.9v0.9h-0.9zM212.5 561.6h0.9v0.9h-0.9zM204.7 548.7h0.9v0.9h-0.9zM245.6 523.0h0.9v0.9h-0.9zM242.7 561.1h0.9v0.9h-0.9zM218.8 562.3h0.9v0.9h-0.9zM237.6 558.6h0.9v0.9h-0.9zM245.8 521.1h0.9v0.9h-0.9zM236.7 514.7h0.9v0.9h-0.9zM246.3 520.8h0.9v0.9h-0.9zM218.4 559.3h0.9v0.9h-0.9zM210.1 527.3h0.9v0.9h-0.9zM250.5 530.3h0.9v0.9h-0.9zM247.2 550.5h0.9v0.9h-0.9zM248.6 515.7h0.9v0.9h-0.9zM243.3 516.6h0.9v0.9h-0.9zM212.6 545.6h0.9v0.9h-0.9zM245.5 514.1h0.9v0.9h-0.9zM242.5 515.4h0.9v0.9h-0.9zM231.3 565.0h0.9v0.9h-0.9zM251.4 542.7h0.9v0.9h-0.9zM251.4 538.2h0.9v0.9h-0.9zM223.2 563.7h0.9v0.9h-0.9zM253.0 540.4h0.9v0.9h-0.9zM215.7 526.3h0.9v0.9h-0.9zM215.4 533.7h0.9v0.9h-0.9zM243.2 518.7h0.9v0.9h-0.9zM258.8 531.6h0.9v0.9h-0.9zM221.5 568.0h0.9v0.9h-0.9zM239.3 567.1h0.9v0.9h-0.9zM248.5 524.1h0.9v0.9h-0.9zM215.5 544.0h0.9v0.9h-0.9zM217.9 527.1h0.9v0.9h-0.9zM208.9 537.7h0.9v0.9h-0.9zM250.9 528.6h0.9v0.9h-0.9zM219.4 524.6h0.9v0.9h-0.9zM235.5 518.0h0.9v0.9h-0.9zM241.8 520.1h0.9v0.9h-0.9zM247.2 547.5h0.9v0.9h-0.9zM219.4 526.6h0.9v0.9h-0.9zM223.1 519.7h0.9v0.9h-0.9zM239.6 560.1h0.9v0.9h-0.9zM232.7 564.4h0.9v0.9h-0.9zM243.6 557.0h0.9v0.9h-0.9zM214.7 548.0h0.9v0.9h-0.9zM246.1 513.1h0.9v0.9h-0.9zM222.9 568.2h0.9v0.9h-0.9zM256.7 523.4h0.9v0.9h-0.9zM244.4 558.0h0.9v0.9h-0.9zM215.8 557.6h0.9v0.9h-0.9zM224.6 568.3h0.9v0.9h-0.9zM255.2 540.9h0.9v0.9h-0.9zM232.7 563.7h0.9v0.9h-0.9zM248.3 526.5h0.9v0.9h-0.9zM213.6 531.1h0.9v0.9h-0.9zM221.9 563.1h0.9v0.9h-0.9zM212.5 548.3h0.9v0.9h-0.9zM237.3 564.8h0.9v0.9h-0.9zM223.1 517.9h0.9v0.9h-0.9zM231.0 509.1h0.9v0.9h-0.9zM213.9 544.3h0.9v0.9h-0.9zM247.3 515.6h0.9v0.9h-0.9zM240.9 521.6h0.9v0.9h-0.9zM232.2 515.6h0.9v0.9h-0.9zM241.7 515.8h0.9v0.9h-0.9zM212.4 546.6h0.9v0.9h-0.9zM233.8 561.8h0.9v0.9h-0.9zM217.0 531.2h0.9v0.9h-0.9zM207.7 541.3h0.9v0.9h-0.9zM234.9 564.8h0.9v0.9h-0.9zM234.7 517.0h0.9v0.9h-0.9zM209.2 544.6h0.9v0.9h-0.9zM232.3 515.3h0.9v0.9h-0.9zM229.8 566.5h0.9v0.9h-0.9zM225.1 565.8h0.9v0.9h-0.9zM242.4 562.9h0.9v0.9h-0.9zM250.6 533.5h0.9v0.9h-0.9zM234.2 514.0h0.9v0.9h-0.9zM218.1 561.3h0.9v0.9h-0.9zM252.3 562.5h0.9v0.9h-0.9zM217.2 557.5h0.9v0.9h-0.9zM242.5 521.4h0.9v0.9h-0.9zM251.7 531.6h0.9v0.9h-0.9zM232.9 570.1h0.9v0.9h-0.9zM253.4 535.2h0.9v0.9h-0.9zM228.9 564.3h0.9v0.9h-0.9zM247.0 553.2h0.9v0.9h-0.9zM237.5 566.9h0.9v0.9h-0.9zM249.6 551.5h0.9v0.9h-0.9zM224.3 565.5h0.9v0.9h-0.9zM243.3 517.3h0.9v0.9h-0.9zM214.4 538.7h0.9v0.9h-0.9zM249.3 512.3h0.9v0.9h-0.9zM240.0 557.7h0.9v0.9h-0.9zM244.0 507.9h0.9v0.9h-0.9zM236.5 564.5h0.9v0.9h-0.9zM212.8 565.4h0.9v0.9h-0.9zM248.6 537.9h0.9v0.9h-0.9zM241.0 508.3h0.9v0.9h-0.9zM240.6 509.5h0.9v0.9h-0.9zM228.7 518.2h0.9v0.9h-0.9zM214.6 554.9h0.9v0.9h-0.9zM225.8 516.3h0.9v0.9h-0.9zM212.9 546.3h0.9v0.9h-0.9zM246.1 517.2h0.9v0.9h-0.9zM232.1 517.8h0.9v0.9h-0.9zM253.4 529.0h0.9v0.9h-0.9zM248.4 523.8h0.9v0.9h-0.9zM253.0 519.3h0.9v0.9h-0.9zM243.1 564.5h0.9v0.9h-0.9zM251.0 552.8h0.9v0.9h-0.9zM207.5 557.3h0.9v0.9h-0.9zM248.9 539.3h0.9v0.9h-0.9zM224.8 523.0h0.9v0.9h-0.9zM221.3 524.6h0.9v0.9h-0.9zM246.7 523.7h0.9v0.9h-0.9zM227.4 519.6h0.9v0.9h-0.9zM238.6 560.5h0.9v0.9h-0.9zM214.5 539.5h0.9v0.9h-0.9zM248.1 529.0h0.9v0.9h-0.9zM245.1 522.3h0.9v0.9h-0.9zM243.9 556.0h0.9v0.9h-0.9zM248.6 547.3h0.9v0.9h-0.9zM217.8 533.0h0.9v0.9h-0.9zM217.9 566.0h0.9v0.9h-0.9zM209.2 547.1h0.9v0.9h-0.9zM256.2 537.9h0.9v0.9h-0.9zM251.8 531.1h0.9v0.9h-0.9zM210.6 560.5h0.9v0.9h-0.9zM226.6 513.0h0.9v0.9h-0.9zM245.0 560.0h0.9v0.9h-0.9zM246.2 517.6h0.9v0.9h-0.9zM242.2 556.9h0.9v0.9h-0.9zM238.0 512.0h0.9v0.9h-0.9zM219.1 558.4h0.9v0.9h-0.9zM234.5 564.9h0.9v0.9h-0.9zM237.5 578.0h0.9v0.9h-0.9zM254.5 543.8h0.9v0.9h-0.9zM224.8 572.5h0.9v0.9h-0.9zM213.7 540.1h0.9v0.9h-0.9zM233.8 562.2h0.9v0.9h-0.9zM214.0 536.7h0.9v0.9h-0.9zM246.4 523.2h0.9v0.9h-0.9zM223.7 564.5h0.9v0.9h-0.9zM236.3 519.1h0.9v0.9h-0.9zM217.2 554.6h0.9v0.9h-0.9zM237.4 561.6h0.9v0.9h-0.9zM249.8 517.0h0.9v0.9h-0.9zM210.5 563.1h0.9v0.9h-0.9zM227.8 518.1h0.9v0.9h-0.9zM255.3 539.9h0.9v0.9h-0.9zM238.7 512.7h0.9v0.9h-0.9zM214.9 561.1h0.9v0.9h-0.9zM224.3 517.9h0.9v0.9h-0.9zM243.9 508.4h0.9v0.9h-0.9zM226.2 570.3h0.9v0.9h-0.9zM254.9 540.4h0.9v0.9h-0.9zM226.7 562.6h0.9v0.9h-0.9zM249.4 555.6h0.9v0.9h-0.9zM217.6 530.9h0.9v0.9h-0.9zM211.5 539.1h0.9v0.9h-0.9zM234.3 566.7h0.9v0.9h-0.9zM212.0 537.5h0.9v0.9h-0.9zM221.1 564.4h0.9v0.9h-0.9zM252.3 513.8h0.9v0.9h-0.9zM207.1 534.5h0.9v0.9h-0.9zM218.2 532.7h0.9v0.9h-0.9zM235.4 564.1h0.9v0.9h-0.9zM254.3 538.9h0.9v0.9h-0.9zM222.9 565.4h0.9v0.9h-0.9zM222.4 524.9h0.9v0.9h-0.9zM243.4 518.9h0.9v0.9h-0.9zM213.2 530.4h0.9v0.9h-0.9zM218.3 558.9h0.9v0.9h-0.9zM227.9 515.3h0.9v0.9h-0.9zM238.0 512.6h0.9v0.9h-0.9zM236.3 565.0h0.9v0.9h-0.9zM223.0 564.5h0.9v0.9h-0.9zM230.6 569.5h0.9v0.9h-0.9zM245.3 549.7h0.9v0.9h-0.9zM223.9 513.2h0.9v0.9h-0.9zM256.2 550.1h0.9v0.9h-0.9zM220.9 564.7h0.9v0.9h-0.9zM251.2 537.9h0.9v0.9h-0.9zM212.3 553.7h0.9v0.9h-0.9zM256.4 532.0h0.9v0.9h-0.9zM240.4 558.8h0.9v0.9h-0.9zM211.9 567.8h0.9v0.9h-0.9zM250.4 523.6h0.9v0.9h-0.9zM253.3 532.5h0.9v0.9h-0.9zM247.6 517.8h0.9v0.9h-0.9zM232.9 520.4h0.9v0.9h-0.9zM217.2 562.3h0.9v0.9h-0.9zM248.8 545.1h0.9v0.9h-0.9zM221.2 525.6h0.9v0.9h-0.9zM253.3 514.0h0.9v0.9h-0.9zM216.1 549.6h0.9v0.9h-0.9zM252.6 537.6h0.9v0.9h-0.9zM226.7 522.5h0.9v0.9h-0.9zM236.3 517.8h0.9v0.9h-0.9zM235.4 562.8h0.9v0.9h-0.9zM214.7 548.1h0.9v0.9h-0.9zM242.1 563.3h0.9v0.9h-0.9zM215.4 556.4h0.9v0.9h-0.9zM219.6 524.9h0.9v0.9h-0.9zM219.7 562.7h0.9v0.9h-0.9zM253.0 550.6h0.9v0.9h-0.9zM207.6 547.5h0.9v0.9h-0.9zM243.6 513.0h0.9v0.9h-0.9zM210.0 556.2h0.9v0.9h-0.9zM243.9 517.9h0.9v0.9h-0.9zM214.2 552.0h0.9v0.9h-0.9zM218.9 528.5h0.9v0.9h-0.9zM217.4 563.7h0.9v0.9h-0.9zM240.7 557.3h0.9v0.9h-0.9zM246.7 513.9h0.9v0.9h-0.9zM215.9 533.4h0.9v0.9h-0.9zM245.7 518.9h0.9v0.9h-0.9zM247.3 513.6h0.9v0.9h-0.9zM245.0 516.1h0.9v0.9h-0.9zM209.9 556.0h0.9v0.9h-0.9zM221.0 559.8h0.9v0.9h-0.9zM223.9 574.4h0.9v0.9h-0.9zM213.6 540.3h0.9v0.9h-0.9zM224.2 522.6h0.9v0.9h-0.9zM255.7 521.9h0.9v0.9h-0.9zM249.5 547.5h0.9v0.9h-0.9zM237.8 519.6h0.9v0.9h-0.9zM221.4 527.4h0.9v0.9h-0.9zM215.7 570.1h0.9v0.9h-0.9zM221.6 523.6h0.9v0.9h-0.9zM218.9 565.6h0.9v0.9h-0.9zM253.8 525.2h0.9v0.9h-0.9zM223.4 575.2h0.9v0.9h-0.9zM214.2 548.9h0.9v0.9h-0.9zM224.0 574.5h0.9v0.9h-0.9zM227.4 563.5h0.9v0.9h-0.9zM242.2 518.2h0.9v0.9h-0.9zM228.5 566.7h0.9v0.9h-0.9zM216.5 560.9h0.9v0.9h-0.9zM248.8 556.6h0.9v0.9h-0.9zM250.6 533.9h0.9v0.9h-0.9zM254.2 530.3h0.9v0.9h-0.9zM207.8 558.4h0.9v0.9h-0.9zM251.6 535.0h0.9v0.9h-0.9zM224.8 568.9h0.9v0.9h-0.9zM224.1 562.3h0.9v0.9h-0.9zM217.1 525.0h0.9v0.9h-0.9zM226.8 566.5h0.9v0.9h-0.9zM248.3 534.3h0.9v0.9h-0.9zM250.1 543.0h0.9v0.9h-0.9zM237.3 560.4h0.9v0.9h-0.9zM209.7 543.9h0.9v0.9h-0.9zM212.1 547.4h0.9v0.9h-0.9zM254.2 547.1h0.9v0.9h-0.9zM250.4 545.7h0.9v0.9h-0.9zM245.5 557.8h0.9v0.9h-0.9zM252.1 540.6h0.9v0.9h-0.9zM229.2 521.0h0.9v0.9h-0.9zM214.9 539.9h0.9v0.9h-0.9zM213.8 545.1h0.9v0.9h-0.9zM247.2 528.1h0.9v0.9h-0.9zM236.5 560.2h0.9v0.9h-0.9zM211.7 551.9h0.9v0.9h-0.9zM239.6 558.9h0.9v0.9h-0.9zM210.6 552.6h0.9v0.9h-0.9zM249.3 514.6h0.9v0.9h-0.9zM246.6 525.1h0.9v0.9h-0.9zM235.6 562.9h0.9v0.9h-0.9zM222.4 568.3h0.9v0.9h-0.9zM235.0 518.3h0.9v0.9h-0.9zM232.1 564.4h0.9v0.9h-0.9zM243.8 553.3h0.9v0.9h-0.9zM251.1 526.7h0.9v0.9h-0.9zM248.5 551.9h0.9v0.9h-0.9zM251.6 530.3h0.9v0.9h-0.9zM222.6 520.4h0.9v0.9h-0.9zM211.4 552.5h0.9v0.9h-0.9zM217.8 563.5h0.9v0.9h-0.9zM214.6 551.2h0.9v0.9h-0.9zM250.5 531.9h0.9v0.9h-0.9zM217.6 518.3h0.9v0.9h-0.9zM235.7 567.1h0.9v0.9h-0.9zM219.6 526.4h0.9v0.9h-0.9zM219.1 559.3h0.9v0.9h-0.9zM250.3 532.8h0.9v0.9h-0.9zM233.6 565.0h0.9v0.9h-0.9zM211.7 535.1h0.9v0.9h-0.9zM247.7 551.3h0.9v0.9h-0.9zM222.3 563.9h0.9v0.9h-0.9zM236.5 514.7h0.9v0.9h-0.9zM222.8 514.1h0.9v0.9h-0.9zM252.7 534.4h0.9v0.9h-0.9zM234.4 568.6h0.9v0.9h-0.9zM208.7 540.6h0.9v0.9h-0.9zM240.2 561.0h0.9v0.9h-0.9zM234.6 517.5h0.9v0.9h-0.9zM240.1 561.6h0.9v0.9h-0.9zM256.5 534.2h0.9v0.9h-0.9zM207.3 535.7h0.9v0.9h-0.9zM219.7 531.2h0.9v0.9h-0.9zM216.1 553.7h0.9v0.9h-0.9zM209.9 552.7h0.9v0.9h-0.9zM247.0 530.7h0.9v0.9h-0.9zM243.2 514.2h0.9v0.9h-0.9zM214.6 551.9h0.9v0.9h-0.9zM249.1 518.9h0.9v0.9h-0.9zM212.2 554.9h0.9v0.9h-0.9zM241.7 557.3h0.9v0.9h-0.9zM225.2 567.7h0.9v0.9h-0.9zM214.2 546.8h0.9v0.9h-0.9zM208.7 545.0h0.9v0.9h-0.9zM231.6 578.4h0.9v0.9h-0.9zM236.2 512.5h0.9v0.9h-0.9zM223.6 568.9h0.9v0.9h-0.9zM228.6 512.8h0.9v0.9h-0.9zM209.8 526.6h0.9v0.9h-0.9zM228.6 515.7h0.9v0.9h-0.9zM248.4 532.4h0.9v0.9h-0.9zM238.7 504.7h0.9v0.9h-0.9zM223.8 516.6h0.9v0.9h-0.9zM233.1 517.7h0.9v0.9h-0.9zM214.2 531.8h0.9v0.9h-0.9zM251.8 547.3h0.9v0.9h-0.9zM244.3 525.2h0.9v0.9h-0.9zM234.1 568.3h0.9v0.9h-0.9zM234.2 565.2h0.9v0.9h-0.9zM211.0 545.8h0.9v0.9h-0.9zM255.7 534.1h0.9v0.9h-0.9zM235.3 562.4h0.9v0.9h-0.9zM223.3 569.6h0.9v0.9h-0.9zM251.5 548.5h0.9v0.9h-0.9zM242.5 511.5h0.9v0.9h-0.9zM217.5 528.3h0.9v0.9h-0.9zM233.3 579.3h0.9v0.9h-0.9zM251.9 556.1h0.9v0.9h-0.9zM215.7 560.2h0.9v0.9h-0.9zM229.8 569.0h0.9v0.9h-0.9zM257.4 525.5h0.9v0.9h-0.9zM213.5 531.3h0.9v0.9h-0.9zM213.0 533.5h0.9v0.9h-0.9zM221.4 511.1h0.9v0.9h-0.9zM214.9 536.4h0.9v0.9h-0.9zM224.7 565.5h0.9v0.9h-0.9zM238.6 518.3h0.9v0.9h-0.9zM240.6 513.2h0.9v0.9h-0.9zM253.7 532.4h0.9v0.9h-0.9zM216.2 537.5h0.9v0.9h-0.9zM236.8 562.8h0.9v0.9h-0.9zM249.4 541.8h0.9v0.9h-0.9zM248.1 550.0h0.9v0.9h-0.9zM234.2 568.5h0.9v0.9h-0.9zM235.5 520.0h0.9v0.9h-0.9zM255.3 522.5h0.9v0.9h-0.9zM253.4 538.4h0.9v0.9h-0.9zM223.4 523.4h0.9v0.9h-0.9zM216.4 572.7h0.9v0.9h-0.9zM250.0 554.5h0.9v0.9h-0.9zM239.3 516.4h0.9v0.9h-0.9zM228.0 517.0h0.9v0.9h-0.9zM238.9 563.2h0.9v0.9h-0.9zM239.2 520.7h0.9v0.9h-0.9zM250.0 539.9h0.9v0.9h-0.9zM230.5 565.7h0.9v0.9h-0.9zM221.9 517.1h0.9v0.9h-0.9zM211.7 548.5h0.9v0.9h-0.9zM224.8 519.5h0.9v0.9h-0.9zM239.3 565.0h0.9v0.9h-0.9zM254.6 530.0h0.9v0.9h-0.9zM218.5 563.9h0.9v0.9h-0.9zM227.0 511.3h0.9v0.9h-0.9zM224.9 566.0h0.9v0.9h-0.9zM230.6 584.0h0.9v0.9h-0.9zM249.0 541.2h0.9v0.9h-0.9zM222.7 564.6h0.9v0.9h-0.9zM251.4 540.5h0.9v0.9h-0.9zM251.9 524.9h0.9v0.9h-0.9zM214.5 521.7h0.9v0.9h-0.9zM220.5 527.5h0.9v0.9h-0.9zM245.9 551.4h0.9v0.9h-0.9zM245.3 513.0h0.9v0.9h-0.9zM233.6 508.0h0.9v0.9h-0.9zM221.6 522.8h0.9v0.9h-0.9zM249.1 518.3h0.9v0.9h-0.9zM207.0 539.3h0.9v0.9h-0.9zM213.0 553.7h0.9v0.9h-0.9zM241.8 510.7h0.9v0.9h-0.9zM214.7 536.1h0.9v0.9h-0.9zM222.1 516.2h0.9v0.9h-0.9zM234.1 561.6h0.9v0.9h-0.9zM228.9 564.5h0.9v0.9h-0.9zM230.8 568.7h0.9v0.9h-0.9zM245.5 521.1h0.9v0.9h-0.9zM251.5 547.4h0.9v0.9h-0.9zM247.8 543.3h0.9v0.9h-0.9zM220.3 529.3h0.9v0.9h-0.9zM244.7 518.3h0.9v0.9h-0.9zM239.0 565.4h0.9v0.9h-0.9zM212.3 564.5h0.9v0.9h-0.9zM249.2 538.5h0.9v0.9h-0.9zM218.9 562.5h0.9v0.9h-0.9zM233.9 566.6h0.9v0.9h-0.9zM209.2 546.5h0.9v0.9h-0.9zM241.8 520.1h0.9v0.9h-0.9zM252.7 546.4h0.9v0.9h-0.9zM248.2 553.4h0.9v0.9h-0.9zM228.0 520.6h0.9v0.9h-0.9zM251.0 521.7h0.9v0.9h-0.9zM245.0 524.2h0.9v0.9h-0.9zM247.8 536.2h0.9v0.9h-0.9zM229.1 521.1h0.9v0.9h-0.9zM252.5 522.0h0.9v0.9h-0.9zM214.5 549.8h0.9v0.9h-0.9zM223.4 524.7h0.9v0.9h-0.9zM218.1 527.8h0.9v0.9h-0.9zM213.8 544.3h0.9v0.9h-0.9zM209.6 543.8h0.9v0.9h-0.9zM235.9 517.5h0.9v0.9h-0.9zM235.6 573.8h0.9v0.9h-0.9zM246.4 525.4h0.9v0.9h-0.9zM237.6 509.3h0.9v0.9h-0.9zM228.2 569.3h0.9v0.9h-0.9zM212.0 560.5h0.9v0.9h-0.9zM247.0 526.1h0.9v0.9h-0.9zM213.6 547.0h0.9v0.9h-0.9zM253.3 520.9h0.9v0.9h-0.9zM205.2 555.1h0.9v0.9h-0.9zM249.5 546.7h0.9v0.9h-0.9zM214.3 551.6h0.9v0.9h-0.9zM254.8 546.2h0.9v0.9h-0.9zM215.9 551.5h0.9v0.9h-0.9zM213.4 547.6h0.9v0.9h-0.9zM231.9 565.9h0.9v0.9h-0.9zM248.2 512.3h0.9v0.9h-0.9zM243.1 559.1h0.9v0.9h-0.9zM242.9 521.0h0.9v0.9h-0.9zM217.8 536.6h0.9v0.9h-0.9zM250.4 526.2h0.9v0.9h-0.9zM225.2 517.9h0.9v0.9h-0.9zM255.0 538.9h0.9v0.9h-0.9zM214.8 532.5h0.9v0.9h-0.9zM226.2 564.6h0.9v0.9h-0.9zM252.7 535.2h0.9v0.9h-0.9zM267.5 522.2h0.9v0.9h-0.9zM248.9 523.9h0.9v0.9h-0.9zM222.0 518.9h0.9v0.9h-0.9zM218.4 573.1h0.9v0.9h-0.9zM250.3 551.6h0.9v0.9h-0.9zM246.5 521.5h0.9v0.9h-0.9zM230.4 517.5h0.9v0.9h-0.9zM211.4 544.9h0.9v0.9h-0.9zM214.2 532.3h0.9v0.9h-0.9zM248.0 513.5h0.9v0.9h-0.9zM224.9 567.4h0.9v0.9h-0.9zM248.6 551.3h0.9v0.9h-0.9zM244.1 566.5h0.9v0.9h-0.9zM256.2 547.5h0.9v0.9h-0.9zM227.3 569.2h0.9v0.9h-0.9zM253.5 544.6h0.9v0.9h-0.9zM246.5 551.4h0.9v0.9h-0.9zM231.9 519.4h0.9v0.9h-0.9zM216.5 531.1h0.9v0.9h-0.9zM206.9 533.7h0.9v0.9h-0.9zM250.3 548.2h0.9v0.9h-0.9zM216.1 520.4h0.9v0.9h-0.9zM224.5 517.9h0.9v0.9h-0.9zM248.5 523.3h0.9v0.9h-0.9zM246.3 525.1h0.9v0.9h-0.9zM245.8 522.2h0.9v0.9h-0.9zM244.6 556.1h0.9v0.9h-0.9zM248.8 529.9h0.9v0.9h-0.9zM217.1 532.1h0.9v0.9h-0.9zM252.9 525.6h0.9v0.9h-0.9zM250.1 533.8h0.9v0.9h-0.9zM242.3 558.6h0.9v0.9h-0.9zM212.5 549.6h0.9v0.9h-0.9zM216.7 535.0h0.9v0.9h-0.9zM224.2 523.0h0.9v0.9h-0.9zM253.2 537.6h0.9v0.9h-0.9zM248.9 554.6h0.9v0.9h-0.9zM223.5 521.3h0.9v0.9h-0.9zM215.7 536.9h0.9v0.9h-0.9zM236.1 561.1h0.9v0.9h-0.9zM233.6 513.5h0.9v0.9h-0.9zM239.3 513.3h0.9v0.9h-0.9zM241.9 571.3h0.9v0.9h-0.9zM240.5 562.5h0.9v0.9h-0.9zM214.0 537.1h0.9v0.9h-0.9zM249.7 540.9h0.9v0.9h-0.9zM255.4 514.8h0.9v0.9h-0.9zM230.7 512.1h0.9v0.9h-0.9zM211.8 552.1h0.9v0.9h-0.9zM253.7 539.8h0.9v0.9h-0.9zM215.3 539.5h0.9v0.9h-0.9zM236.6 566.5h0.9v0.9h-0.9zM223.2 522.0h0.9v0.9h-0.9zM241.0 559.7h0.9v0.9h-0.9zM248.6 528.3h0.9v0.9h-0.9zM210.9 533.2h0.9v0.9h-0.9zM241.2 511.2h0.9v0.9h-0.9zM248.8 525.8h0.9v0.9h-0.9zM247.4 514.5h0.9v0.9h-0.9zM244.2 520.7h0.9v0.9h-0.9zM246.7 515.0h0.9v0.9h-0.9zM214.2 552.4h0.9v0.9h-0.9zM249.8 553.8h0.9v0.9h-0.9zM224.1 562.2h0.9v0.9h-0.9zM229.4 519.2h0.9v0.9h-0.9zM219.1 558.6h0.9v0.9h-0.9zM249.3 545.5h0.9v0.9h-0.9zM217.3 561.2h0.9v0.9h-0.9zM236.9 512.0h0.9v0.9h-0.9zM240.0 570.3h0.9v0.9h-0.9zM213.1 542.4h0.9v0.9h-0.9zM250.7 512.9h0.9v0.9h-0.9zM260.1 529.9h0.9v0.9h-0.9zM249.3 566.3h0.9v0.9h-0.9zM246.5 519.9h0.9v0.9h-0.9zM254.7 542.4h0.9v0.9h-0.9zM252.6 554.4h0.9v0.9h-0.9zM245.8 522.8h0.9v0.9h-0.9zM250.0 557.5h0.9v0.9h-0.9zM232.6 513.6h0.9v0.9h-0.9zM249.1 545.7h0.9v0.9h-0.9zM242.3 559.8h0.9v0.9h-0.9zM242.6 510.8h0.9v0.9h-0.9zM241.7 568.5h0.9v0.9h-0.9zM220.4 521.5h0.9v0.9h-0.9zM215.1 557.9h0.9v0.9h-0.9zM216.1 523.3h0.9v0.9h-0.9zM242.9 514.6h0.9v0.9h-0.9zM229.0 572.8h0.9v0.9h-0.9zM213.2 570.9h0.9v0.9h-0.9zM237.9 559.6h0.9v0.9h-0.9zM214.9 548.9h0.9v0.9h-0.9zM241.9 557.9h0.9v0.9h-0.9zM253.7 556.5h0.9v0.9h-0.9z" fill="#8d8985"/>
<text x="221.20" y="498.00" font-size="7.9" text-anchor="end" fill="#1a1a1a">3</text>
<text x="221.20" y="515.90" font-size="7.9" text-anchor="end" fill="#1a1a1a">2</text>
<text x="221.20" y="569.60" font-size="7.9" text-anchor="end" fill="#1a1a1a">-1</text>
<text x="221.20" y="587.50" font-size="7.9" text-anchor="end" fill="#1a1a1a">-2</text>
<text x="221.20" y="605.40" font-size="7.9" text-anchor="end" fill="#1a1a1a">-3</text>
<text x="172.55" y="561.80" font-size="7.9" text-anchor="middle" fill="#1a1a1a">-3</text>
<text x="190.40" y="561.80" font-size="7.9" text-anchor="middle" fill="#1a1a1a">-2</text>
<text x="208.25" y="561.80" font-size="7.9" text-anchor="middle" fill="#1a1a1a">-1</text>
<text x="244.75" y="561.80" font-size="7.9" text-anchor="middle" fill="#1a1a1a">1</text>
<text x="262.60" y="561.80" font-size="7.9" text-anchor="middle" fill="#1a1a1a">2</text>
<text x="280.45" y="561.80" font-size="7.9" text-anchor="middle" fill="#1a1a1a">3</text>
<line x1="174.40" y1="565.60" x2="280.20" y2="520.40" stroke="#3a57a0" stroke-width="1.3" />
<text x="210.30" y="464.00" font-size="9.5" text-anchor="start" fill="#1a1a1a" textLength="28.30" lengthAdjust="spacingAndGlyphs">TALL-1</text>
<text x="206.80" y="476.20" font-size="6.8" text-anchor="start" fill="#1a1a1a" textLength="36.30" lengthAdjust="spacingAndGlyphs">H2AK119ub1</text>
<text x="199.90" y="484.30" font-size="6.8" text-anchor="start" fill="#1a1a1a" textLength="49.70" lengthAdjust="spacingAndGlyphs">Log2 (ChIP/Input)</text>
<text x="270.80" y="535.80" font-size="6.8" text-anchor="start" fill="#1a1a1a" textLength="44.60" lengthAdjust="spacingAndGlyphs">y=0.424x+0.361</text>
<text x="278.50" y="543.80" font-size="6.8" text-anchor="start" fill="#1a1a1a" textLength="27.60" lengthAdjust="spacingAndGlyphs">p&lt;0.0001</text>
<text x="265.70" y="576.30" font-size="6.8" text-anchor="start" fill="#1a1a1a" textLength="19.60" lengthAdjust="spacingAndGlyphs">KDM2B</text>
<text x="251.80" y="584.30" font-size="6.8" text-anchor="start" fill="#1a1a1a" textLength="49.10" lengthAdjust="spacingAndGlyphs">Log2 (ChIP/Input)</text>
<line x1="372.50" y1="466.20" x2="372.50" y2="535.60" stroke="#151515" stroke-width="1.5" />
<line x1="372.50" y1="535.60" x2="425.20" y2="535.60" stroke="#151515" stroke-width="1.5" />
<line x1="369.90" y1="468.80" x2="372.50" y2="468.80" stroke="#151515" stroke-width="1.0" />
<text x="367.10" y="471.50" font-size="7.9" text-anchor="end" fill="#1a1a1a">2.0</text>
<line x1="369.90" y1="485.50" x2="372.50" y2="485.50" stroke="#151515" stroke-width="1.0" />
<text x="367.10" y="488.20" font-size="7.9" text-anchor="end" fill="#1a1a1a">1.5</text>
<line x1="369.90" y1="502.20" x2="372.50" y2="502.20" stroke="#151515" stroke-width="1.0" />
<text x="367.10" y="504.90" font-size="7.9" text-anchor="end" fill="#1a1a1a">1.0</text>
<line x1="369.90" y1="518.90" x2="372.50" y2="518.90" stroke="#151515" stroke-width="1.0" />
<text x="367.10" y="521.60" font-size="7.9" text-anchor="end" fill="#1a1a1a">0.5</text>
<line x1="369.90" y1="535.60" x2="372.50" y2="535.60" stroke="#151515" stroke-width="1.0" />
<text x="367.10" y="538.30" font-size="7.9" text-anchor="end" fill="#1a1a1a">0</text>
<text x="381.70" y="459.80" font-size="8.2" text-anchor="start" fill="#1a1a1a" textLength="25.60" lengthAdjust="spacingAndGlyphs">KDM2B</text>
<line x1="384.80" y1="471.00" x2="412.70" y2="471.00" stroke="#151515" stroke-width="1.0" />
<text x="398.75" y="471.20" font-size="7.5" text-anchor="middle" fill="#1a1a1a">***</text>
<line x1="385.10" y1="484.80" x2="385.10" y2="492.50" stroke="#151515" stroke-width="1.0" />
<line x1="385.10" y1="505.00" x2="385.10" y2="509.20" stroke="#151515" stroke-width="1.0" />
<line x1="381.90" y1="484.80" x2="388.30" y2="484.80" stroke="#151515" stroke-width="1.0" />
<line x1="381.90" y1="509.20" x2="388.30" y2="509.20" stroke="#151515" stroke-width="1.0" />
<rect x="379.00" y="492.50" width="12.20" height="12.50" fill="#a92a3e" stroke="#a92a3e" stroke-width="0.6"/>
<line x1="379.00" y1="498.80" x2="391.20" y2="498.80" stroke="#111" stroke-width="1.3" />
<line x1="413.00" y1="480.00" x2="413.00" y2="490.20" stroke="#151515" stroke-width="1.0" />
<line x1="413.00" y1="504.40" x2="413.00" y2="508.80" stroke="#151515" stroke-width="1.0" />
<line x1="409.80" y1="480.00" x2="416.20" y2="480.00" stroke="#151515" stroke-width="1.0" />
<line x1="409.80" y1="508.80" x2="416.20" y2="508.80" stroke="#151515" stroke-width="1.0" />
<rect x="407.00" y="490.20" width="12.00" height="14.20" fill="#4a6591" stroke="#4a6591" stroke-width="0.6"/>
<line x1="407.00" y1="497.90" x2="419.00" y2="497.90" stroke="#111" stroke-width="1.3" />
<line x1="385.20" y1="535.60" x2="385.20" y2="538.40" stroke="#151515" stroke-width="1.0" />
<line x1="413.10" y1="535.60" x2="413.10" y2="538.40" stroke="#151515" stroke-width="1.0" />
<text x="385.20" y="548.80" font-size="8.3" text-anchor="middle" fill="#1a1a1a">Jurkat</text>
<text x="413.10" y="548.80" font-size="8.3" text-anchor="middle" fill="#1a1a1a">TALL-1</text>
<line x1="449.60" y1="466.20" x2="449.60" y2="535.60" stroke="#151515" stroke-width="1.5" />
<line x1="449.60" y1="535.60" x2="501.70" y2="535.60" stroke="#151515" stroke-width="1.5" />
<line x1="447.00" y1="468.80" x2="449.60" y2="468.80" stroke="#151515" stroke-width="1.0" />
<text x="444.20" y="471.50" font-size="7.9" text-anchor="end" fill="#1a1a1a">2.0</text>
<line x1="447.00" y1="485.50" x2="449.60" y2="485.50" stroke="#151515" stroke-width="1.0" />
<text x="444.20" y="488.20" font-size="7.9" text-anchor="end" fill="#1a1a1a">1.5</text>
<line x1="447.00" y1="502.20" x2="449.60" y2="502.20" stroke="#151515" stroke-width="1.0" />
<text x="444.20" y="504.90" font-size="7.9" text-anchor="end" fill="#1a1a1a">1.0</text>
<line x1="447.00" y1="518.90" x2="449.60" y2="518.90" stroke="#151515" stroke-width="1.0" />
<text x="444.20" y="521.60" font-size="7.9" text-anchor="end" fill="#1a1a1a">0.5</text>
<line x1="447.00" y1="535.60" x2="449.60" y2="535.60" stroke="#151515" stroke-width="1.0" />
<text x="444.20" y="538.30" font-size="7.9" text-anchor="end" fill="#1a1a1a">0</text>
<text x="458.20" y="450.40" font-size="8.2" text-anchor="start" fill="#1a1a1a" textLength="25.10" lengthAdjust="spacingAndGlyphs">KDM2B</text>
<text x="438.90" y="459.80" font-size="8.2" text-anchor="start" fill="#1a1a1a" textLength="64.10" lengthAdjust="spacingAndGlyphs">in NOTCH1 targets</text>
<line x1="461.30" y1="471.00" x2="489.20" y2="471.00" stroke="#151515" stroke-width="1.0" />
<text x="475.25" y="471.20" font-size="7.5" text-anchor="middle" fill="#1a1a1a">***</text>
<line x1="462.15" y1="484.40" x2="462.15" y2="492.10" stroke="#151515" stroke-width="1.0" />
<line x1="462.15" y1="505.00" x2="462.15" y2="508.80" stroke="#151515" stroke-width="1.0" />
<line x1="458.95" y1="484.40" x2="465.35" y2="484.40" stroke="#151515" stroke-width="1.0" />
<line x1="458.95" y1="508.80" x2="465.35" y2="508.80" stroke="#151515" stroke-width="1.0" />
<rect x="456.20" y="492.10" width="11.90" height="12.90" fill="#a92a3e" stroke="#a92a3e" stroke-width="0.6"/>
<line x1="456.20" y1="498.70" x2="468.10" y2="498.70" stroke="#111" stroke-width="1.3" />
<line x1="490.00" y1="474.60" x2="490.00" y2="485.80" stroke="#151515" stroke-width="1.0" />
<line x1="490.00" y1="501.70" x2="490.00" y2="506.50" stroke="#151515" stroke-width="1.0" />
<line x1="486.80" y1="474.60" x2="493.20" y2="474.60" stroke="#151515" stroke-width="1.0" />
<line x1="486.80" y1="506.50" x2="493.20" y2="506.50" stroke="#151515" stroke-width="1.0" />
<rect x="484.00" y="485.80" width="12.00" height="15.90" fill="#4a6591" stroke="#4a6591" stroke-width="0.6"/>
<line x1="484.00" y1="494.40" x2="496.00" y2="494.40" stroke="#111" stroke-width="1.3" />
<line x1="462.10" y1="535.60" x2="462.10" y2="538.40" stroke="#151515" stroke-width="1.0" />
<line x1="490.00" y1="535.60" x2="490.00" y2="538.40" stroke="#151515" stroke-width="1.0" />
<text x="462.10" y="548.80" font-size="8.3" text-anchor="middle" fill="#1a1a1a">Jurkat</text>
<text x="490.00" y="548.80" font-size="8.3" text-anchor="middle" fill="#1a1a1a">TALL-1</text>
<line x1="372.30" y1="580.60" x2="372.30" y2="649.20" stroke="#151515" stroke-width="1.5" />
<line x1="372.30" y1="649.20" x2="425.20" y2="649.20" stroke="#151515" stroke-width="1.5" />
<line x1="369.70" y1="582.90" x2="372.30" y2="582.90" stroke="#151515" stroke-width="1.0" />
<text x="366.90" y="585.60" font-size="7.9" text-anchor="end" fill="#1a1a1a">3.0</text>
<line x1="369.70" y1="605.00" x2="372.30" y2="605.00" stroke="#151515" stroke-width="1.0" />
<text x="366.90" y="607.70" font-size="7.9" text-anchor="end" fill="#1a1a1a">2.0</text>
<line x1="369.70" y1="627.10" x2="372.30" y2="627.10" stroke="#151515" stroke-width="1.0" />
<text x="366.90" y="629.80" font-size="7.9" text-anchor="end" fill="#1a1a1a">1.0</text>
<line x1="369.70" y1="649.20" x2="372.30" y2="649.20" stroke="#151515" stroke-width="1.0" />
<text x="366.90" y="651.90" font-size="7.9" text-anchor="end" fill="#1a1a1a">0</text>
<text x="371.60" y="573.80" font-size="8.2" text-anchor="start" fill="#1a1a1a" textLength="44.90" lengthAdjust="spacingAndGlyphs">H2AK119ub1</text>
<line x1="384.80" y1="592.20" x2="412.70" y2="592.20" stroke="#151515" stroke-width="1.0" />
<text x="398.75" y="592.40" font-size="7.5" text-anchor="middle" fill="#1a1a1a">***</text>
<line x1="385.10" y1="614.60" x2="385.10" y2="621.90" stroke="#151515" stroke-width="1.0" />
<line x1="385.10" y1="631.90" x2="385.10" y2="635.00" stroke="#151515" stroke-width="1.0" />
<line x1="381.90" y1="614.60" x2="388.30" y2="614.60" stroke="#151515" stroke-width="1.0" />
<line x1="381.90" y1="635.00" x2="388.30" y2="635.00" stroke="#151515" stroke-width="1.0" />
<rect x="379.00" y="621.90" width="12.20" height="10.00" fill="#a92a3e" stroke="#a92a3e" stroke-width="0.6"/>
<line x1="379.00" y1="627.10" x2="391.20" y2="627.10" stroke="#111" stroke-width="1.3" />
<line x1="413.00" y1="600.20" x2="413.00" y2="611.00" stroke="#151515" stroke-width="1.0" />
<line x1="413.00" y1="626.30" x2="413.00" y2="631.20" stroke="#151515" stroke-width="1.0" />
<line x1="409.80" y1="600.20" x2="416.20" y2="600.20" stroke="#151515" stroke-width="1.0" />
<line x1="409.80" y1="631.20" x2="416.20" y2="631.20" stroke="#151515" stroke-width="1.0" />
<rect x="407.00" y="611.00" width="12.00" height="15.30" fill="#4a6591" stroke="#4a6591" stroke-width="0.6"/>
<line x1="407.00" y1="619.40" x2="419.00" y2="619.40" stroke="#111" stroke-width="1.3" />
<line x1="385.20" y1="649.20" x2="385.20" y2="652.00" stroke="#151515" stroke-width="1.0" />
<line x1="413.10" y1="649.20" x2="413.10" y2="652.00" stroke="#151515" stroke-width="1.0" />
<text x="385.20" y="662.60" font-size="8.3" text-anchor="middle" fill="#1a1a1a">Jurkat</text>
<text x="413.10" y="662.60" font-size="8.3" text-anchor="middle" fill="#1a1a1a">TALL-1</text>
<line x1="449.80" y1="580.60" x2="449.80" y2="649.20" stroke="#151515" stroke-width="1.5" />
<line x1="449.80" y1="649.20" x2="501.70" y2="649.20" stroke="#151515" stroke-width="1.5" />
<line x1="447.20" y1="582.90" x2="449.80" y2="582.90" stroke="#151515" stroke-width="1.0" />
<text x="444.40" y="585.60" font-size="7.9" text-anchor="end" fill="#1a1a1a">3.0</text>
<line x1="447.20" y1="605.00" x2="449.80" y2="605.00" stroke="#151515" stroke-width="1.0" />
<text x="444.40" y="607.70" font-size="7.9" text-anchor="end" fill="#1a1a1a">2.0</text>
<line x1="447.20" y1="627.10" x2="449.80" y2="627.10" stroke="#151515" stroke-width="1.0" />
<text x="444.40" y="629.80" font-size="7.9" text-anchor="end" fill="#1a1a1a">1.0</text>
<line x1="447.20" y1="649.20" x2="449.80" y2="649.20" stroke="#151515" stroke-width="1.0" />
<text x="444.40" y="651.90" font-size="7.9" text-anchor="end" fill="#1a1a1a">0</text>
<text x="448.50" y="563.80" font-size="8.2" text-anchor="start" fill="#1a1a1a" textLength="45.30" lengthAdjust="spacingAndGlyphs">H2AK119ub1</text>
<text x="438.90" y="573.40" font-size="8.2" text-anchor="start" fill="#1a1a1a" textLength="64.10" lengthAdjust="spacingAndGlyphs">in NOTCH1 targets</text>
<line x1="461.90" y1="592.10" x2="489.20" y2="592.10" stroke="#151515" stroke-width="1.0" />
<text x="475.55" y="592.30" font-size="7.5" text-anchor="middle" fill="#1a1a1a">***</text>
<line x1="461.60" y1="618.60" x2="461.60" y2="624.30" stroke="#151515" stroke-width="1.0" />
<line x1="461.60" y1="633.00" x2="461.60" y2="635.60" stroke="#151515" stroke-width="1.0" />
<line x1="458.40" y1="618.60" x2="464.80" y2="618.60" stroke="#151515" stroke-width="1.0" />
<line x1="458.40" y1="635.60" x2="464.80" y2="635.60" stroke="#151515" stroke-width="1.0" />
<rect x="455.40" y="624.30" width="12.40" height="8.70" fill="#a92a3e" stroke="#a92a3e" stroke-width="0.6"/>
<line x1="455.40" y1="629.30" x2="467.80" y2="629.30" stroke="#111" stroke-width="1.3" />
<line x1="489.45" y1="596.30" x2="489.45" y2="608.10" stroke="#151515" stroke-width="1.0" />
<line x1="489.45" y1="624.20" x2="489.45" y2="629.10" stroke="#151515" stroke-width="1.0" />
<line x1="486.25" y1="596.30" x2="492.65" y2="596.30" stroke="#151515" stroke-width="1.0" />
<line x1="486.25" y1="629.10" x2="492.65" y2="629.10" stroke="#151515" stroke-width="1.0" />
<rect x="483.30" y="608.10" width="12.30" height="16.10" fill="#4a6591" stroke="#4a6591" stroke-width="0.6"/>
<line x1="483.30" y1="617.10" x2="495.60" y2="617.10" stroke="#111" stroke-width="1.3" />
<line x1="461.90" y1="649.20" x2="461.90" y2="652.00" stroke="#151515" stroke-width="1.0" />
<line x1="489.60" y1="649.20" x2="489.60" y2="652.00" stroke="#151515" stroke-width="1.0" />
<text x="461.90" y="662.60" font-size="8.3" text-anchor="middle" fill="#1a1a1a">Jurkat</text>
<text x="489.60" y="662.60" font-size="8.3" text-anchor="middle" fill="#1a1a1a">TALL-1</text>
<text transform="translate(350.20,551.60) rotate(-90)" x="0" y="0" font-size="9.4" fill="#1a1a1a" textLength="97.30" lengthAdjust="spacingAndGlyphs">ChIP / input (RPKM+0.1)</text>
<text transform="translate(350.20,665.30) rotate(-90)" x="0" y="0" font-size="9.4" fill="#1a1a1a" textLength="97.50" lengthAdjust="spacingAndGlyphs">ChIP / input (RPKM+0.1)</text>
</svg></body></html>
